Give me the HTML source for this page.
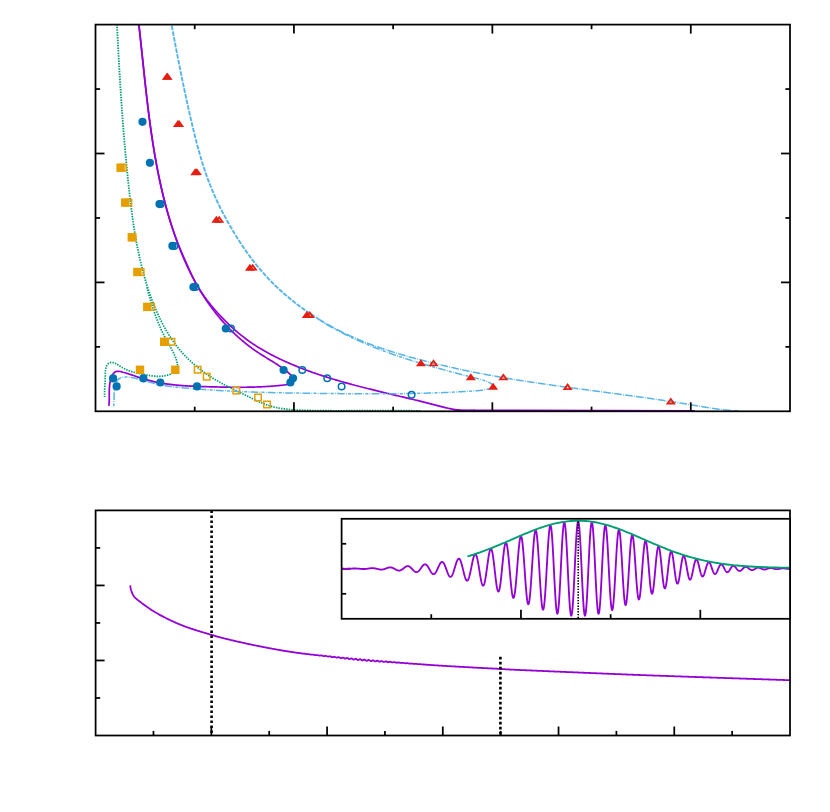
<!DOCTYPE html>
<html><head><meta charset="utf-8"><title>plot</title>
<style>html,body{margin:0;padding:0;background:#fff;font-family:"Liberation Sans",sans-serif;}svg{display:block}</style>
</head><body>
<svg width="830" height="812" viewBox="0 0 830 812">
<rect x="0" y="0" width="830" height="812" fill="#fff"/>
<defs><clipPath id="c1"><rect x="95.50" y="24.60" width="694.50" height="386.70"/></clipPath>
<clipPath id="cbs"><rect x="0" y="0" width="318.00" height="372"/></clipPath>
<clipPath id="cbt"><rect x="318.00" y="0" width="600" height="372"/><rect x="0" y="372" width="830" height="60"/></clipPath>
<clipPath id="cgs"><rect x="0" y="0" width="830" height="286.00"/></clipPath>
<clipPath id="cgt"><rect x="0" y="286.00" width="830" height="200"/></clipPath>
</defs>
<g clip-path="url(#c1)">
<path d="M133.00,-20.00 L133.15,-19.01 L133.30,-18.02 L133.45,-17.03 L133.60,-16.04 L133.75,-15.05 L133.89,-14.06 L134.04,-13.07 L134.18,-12.08 L134.33,-11.08 L134.47,-10.09 L134.61,-9.10 L134.75,-8.11 L134.89,-7.12 L135.03,-6.13 L135.16,-5.13 L135.30,-4.14 L135.43,-3.15 L135.57,-2.16 L135.70,-1.16 L135.83,-0.17 L135.97,0.82 L136.10,1.82 L136.23,2.81 L136.36,3.80 L136.48,4.80 L136.61,5.79 L136.74,6.79 L136.86,7.78 L136.99,8.77 L137.11,9.77 L137.24,10.76 L137.36,11.76 L137.48,12.75 L137.60,13.75 L137.72,14.74 L137.84,15.74 L137.96,16.73 L138.08,17.73 L138.20,18.72 L138.32,19.72 L138.43,20.72 L138.55,21.71 L138.67,22.71 L138.78,23.70 L138.90,24.70 L139.01,25.70 L139.12,26.69 L139.24,27.69 L139.35,28.68 L139.46,29.68 L139.57,30.68 L139.68,31.67 L139.80,32.67 L139.91,33.67 L140.02,34.66 L140.13,35.66 L140.23,36.66 L140.34,37.66 L140.45,38.65 L140.56,39.65 L140.67,40.65 L140.78,41.64 L140.88,42.64 L140.99,43.64 L141.10,44.64 L141.20,45.63 L141.31,46.63 L141.42,47.63 L141.52,48.63 L141.63,49.62 L141.73,50.62 L141.84,51.62 L141.95,52.62 L142.05,53.61 L142.16,54.61 L142.26,55.61 L142.37,56.61 L142.47,57.60 L142.58,58.60 L142.68,59.60 L142.79,60.60 L142.89,61.59 L143.00,62.59 L143.10,63.59 L143.20,64.59 L143.31,65.58 L143.41,66.58 L143.52,67.58 L143.63,68.58 L143.73,69.58 L143.84,70.57 L143.94,71.57 L144.05,72.57 L144.15,73.57 L144.26,74.56 L144.37,75.56 L144.47,76.56 L144.58,77.55 L144.69,78.55 L144.79,79.55 L144.90,80.55 L145.01,81.54 L145.12,82.54 L145.22,83.54 L145.33,84.53 L145.44,85.53 L145.55,86.53 L145.66,87.53 L145.77,88.52 L145.88,89.52 L145.99,90.52 L146.10,91.51 L146.22,92.51 L146.33,93.51 L146.44,94.50 L146.55,95.50 L146.67,96.49 L146.78,97.49 L146.90,98.49 L147.01,99.48 L147.13,100.48 L147.24,101.47 L147.36,102.47 L147.48,103.46 L147.60,104.46 L147.71,105.46 L147.83,106.45 L147.95,107.45 L148.07,108.44 L148.20,109.44 L148.32,110.43 L148.44,111.42 L148.56,112.42 L148.69,113.41 L148.81,114.41 L148.94,115.40 L149.07,116.40 L149.19,117.39 L149.32,118.38 L149.45,119.38 L149.58,120.37 L149.71,121.36 L149.84,122.36 L149.98,123.35 L150.11,124.34 L150.24,125.34 L150.38,126.33 L150.51,127.32 L150.65,128.31 L150.79,129.30 L150.93,130.30 L151.07,131.29 L151.21,132.28 L151.35,133.27 L151.50,134.26 L151.64,135.25 L151.79,136.24 L151.93,137.23 L152.08,138.23 L152.23,139.22 L152.38,140.21 L152.53,141.20 L152.68,142.19 L152.83,143.17 L152.99,144.16 L153.14,145.15 L153.30,146.14 L153.46,147.13 L153.62,148.12 L153.78,149.11 L153.94,150.10 L154.10,151.08 L154.27,152.07 L154.43,153.06 L154.60,154.05 L154.77,155.03 L154.94,156.02 L155.11,157.01 L155.28,157.99 L155.46,158.98 L155.63,159.96 L155.81,160.95 L155.99,161.93 L156.17,162.92 L156.35,163.90 L156.53,164.89 L156.71,165.87 L156.90,166.86 L157.09,167.84 L157.28,168.83 L157.47,169.81 L157.66,170.79 L157.85,171.77 L158.05,172.76 L158.24,173.74 L158.44,174.72 L158.64,175.70 L158.84,176.68 L159.05,177.66 L159.25,178.65 L159.46,179.63 L159.67,180.61 L159.88,181.59 L160.09,182.57 L160.30,183.55 L160.52,184.52 L160.73,185.50 L160.95,186.48 L161.17,187.46 L161.40,188.44 L161.62,189.42 L161.85,190.39 L162.08,191.37 L162.31,192.35 L162.54,193.32 L162.77,194.30 L163.01,195.27 L163.25,196.25 L163.49,197.22 L163.73,198.20 L163.97,199.17 L164.22,200.14 L164.47,201.11 L164.72,202.09 L164.97,203.06 L165.23,204.03 L165.48,205.00 L165.74,205.97 L166.00,206.94 L166.27,207.91 L166.53,208.87 L166.80,209.84 L167.07,210.81 L167.35,211.77 L167.62,212.74 L167.90,213.70 L168.18,214.66 L168.46,215.63 L168.75,216.59 L169.03,217.55 L169.32,218.51 L169.62,219.47 L169.91,220.43 L170.21,221.38 L170.51,222.34 L170.81,223.30 L171.12,224.25 L171.43,225.20 L171.74,226.16 L172.05,227.11 L172.37,228.06 L172.68,229.01 L173.01,229.96 L173.33,230.91 L173.66,231.85 L173.99,232.80 L174.32,233.74 L174.66,234.69 L174.99,235.63 L175.33,236.57 L175.68,237.51 L176.03,238.45 L176.38,239.39 L176.73,240.33 L177.09,241.26 L177.44,242.20 L177.81,243.13 L178.17,244.06 L178.54,244.99 L178.91,245.92 L179.29,246.85 L179.66,247.77 L180.05,248.70 L180.43,249.62 L180.82,250.54 L181.21,251.47 L181.60,252.39 L181.99,253.31 L182.39,254.22 L182.79,255.14 L183.19,256.06 L183.59,256.97 L184.00,257.89 L184.40,258.81 L184.81,259.72 L185.21,260.64 L185.62,261.55 L186.03,262.47 L186.44,263.38 L186.85,264.30 L187.26,265.21 L187.66,266.13 L188.07,267.04 L188.48,267.96 L188.89,268.87 L189.30,269.79 L189.71,270.70 L190.13,271.61 L190.55,272.53 L190.97,273.44 L191.39,274.34 L191.82,275.25 L192.25,276.15 L192.69,277.05 L193.13,277.95 L193.57,278.85 L194.03,279.74 L194.48,280.63 L194.95,281.51 L195.42,282.39 L195.90,283.27 L196.38,284.14 L196.88,285.01 L197.38,285.87 L197.89,286.73 L198.40,287.59 L198.92,288.44 L199.45,289.28 L199.98,290.13 L200.52,290.97 L201.07,291.80 L201.62,292.63 L202.18,293.46 L202.74,294.29 L203.31,295.11 L203.89,295.92 L204.47,296.73 L205.06,297.54 L205.65,298.35 L206.25,299.15 L206.85,299.95 L207.46,300.74 L208.07,301.53 L208.69,302.32 L209.31,303.11 L209.94,303.89 L210.57,304.67 L211.21,305.44 L211.85,306.21 L212.49,306.98 L213.14,307.74 L213.79,308.51 L214.45,309.26 L215.11,310.02 L215.77,310.77 L216.44,311.52 L217.11,312.27 L217.78,313.01 L218.46,313.75 L219.14,314.49 L219.82,315.23 L220.51,315.96 L221.19,316.69 L221.89,317.42 L222.58,318.14 L223.28,318.86 L223.98,319.58 L224.68,320.29 L225.39,321.01 L226.10,321.71 L226.81,322.42 L227.53,323.12 L228.25,323.82 L228.97,324.51 L229.70,325.20 L230.43,325.89 L231.16,326.57 L231.90,327.25 L232.63,327.92 L233.38,328.60 L234.12,329.26 L234.87,329.93 L235.62,330.59 L236.38,331.24 L237.14,331.89 L237.90,332.54 L238.67,333.18 L239.44,333.82 L240.21,334.45 L240.99,335.08 L241.77,335.71 L242.56,336.33 L243.34,336.94 L244.14,337.55 L244.93,338.16 L245.73,338.76 L246.53,339.36 L247.34,339.95 L248.15,340.54 L248.96,341.12 L249.78,341.69 L250.60,342.27 L251.43,342.83 L252.26,343.39 L253.09,343.95 L253.92,344.51 L254.76,345.05 L255.60,345.60 L256.44,346.14 L257.29,346.67 L258.14,347.20 L258.99,347.73 L259.85,348.25 L260.71,348.77 L261.57,349.28 L262.43,349.79 L263.30,350.30 L264.17,350.80 L265.04,351.29 L265.92,351.79 L266.79,352.27 L267.67,352.76 L268.56,353.24 L269.44,353.72 L270.33,354.19 L271.21,354.66 L272.10,355.12 L273.00,355.58 L273.89,356.04 L274.79,356.50 L275.69,356.95 L276.59,357.39 L277.49,357.84 L278.39,358.28 L279.30,358.71 L280.20,359.15 L281.11,359.58 L282.02,360.00 L282.93,360.43 L283.84,360.85 L284.76,361.26 L285.67,361.68 L286.59,362.09 L287.51,362.49 L288.43,362.90 L289.34,363.30 L290.27,363.70 L291.19,364.09 L292.11,364.49 L293.03,364.87 L293.96,365.26 L294.88,365.65 L295.81,366.03 L296.74,366.40 L297.67,366.78 L298.60,367.15 L299.53,367.52 L300.46,367.89 L301.39,368.25 L302.32,368.62 L303.26,368.97 L304.19,369.33 L305.13,369.69 L306.06,370.04 L307.00,370.39 L307.94,370.73 L308.88,371.08 L309.82,371.42 L310.76,371.76 L311.70,372.09 L312.65,372.43 L313.59,372.76 L314.54,373.09 L315.48,373.42 L316.43,373.74 L317.37,374.07 L318.32,374.39 L319.27,374.71 L320.22,375.02 L321.17,375.34 L322.12,375.65 L323.07,375.96 L324.02,376.27 L324.97,376.58 L325.93,376.88 L326.88,377.18 L327.83,377.48 L328.79,377.78 L329.75,378.08 L330.70,378.37 L331.66,378.67 L332.62,378.96 L333.57,379.25 L334.53,379.53 L335.49,379.82 L336.45,380.10 L337.41,380.39 L338.37,380.67 L339.34,380.95 L340.30,381.23 L341.26,381.50 L342.22,381.78 L343.19,382.05 L344.15,382.32 L345.12,382.59 L346.08,382.86 L347.05,383.13 L348.01,383.40 L348.98,383.66 L349.95,383.92 L350.91,384.19 L351.88,384.45 L352.85,384.71 L353.82,384.97 L354.79,385.22 L355.76,385.48 L356.73,385.73 L357.70,385.99 L358.67,386.24 L359.64,386.49 L360.61,386.74 L361.58,386.99 L362.55,387.24 L363.52,387.49 L364.49,387.74 L365.47,387.98 L366.44,388.23 L367.41,388.47 L368.38,388.72 L369.36,388.96 L370.33,389.20 L371.30,389.44 L372.28,389.68 L373.25,389.92 L374.23,390.16 L375.20,390.40 L376.18,390.64 L377.15,390.88 L378.13,391.11 L379.10,391.35 L380.08,391.59 L381.05,391.82 L382.03,392.06 L383.00,392.29 L383.98,392.53 L384.95,392.76 L385.93,392.99 L386.91,393.23 L387.88,393.46 L388.86,393.69 L389.83,393.92 L390.81,394.16 L391.78,394.39 L392.76,394.62 L393.74,394.85 L394.71,395.08 L395.69,395.32 L396.66,395.55 L397.64,395.78 L398.61,396.01 L399.59,396.24 L400.57,396.47 L401.54,396.71 L402.52,396.94 L403.49,397.17 L404.47,397.40 L405.44,397.64 L406.42,397.87 L407.39,398.10 L408.36,398.33 L409.34,398.57 L410.31,398.80 L411.29,399.04 L412.26,399.27 L413.23,399.51 L414.21,399.74 L415.18,399.98 L416.15,400.21 L417.12,400.45 L418.10,400.69 L419.07,400.93 L420.04,401.17 L421.01,401.40 L421.98,401.64 L422.95,401.89 L423.93,402.13 L424.90,402.37 L425.87,402.61 L426.84,402.85 L427.81,403.10 L428.78,403.34 L429.75,403.59 L430.72,403.84 L431.69,404.08 L432.66,404.33 L433.63,404.58 L434.59,404.83 L435.56,405.08 L436.53,405.34 L437.50,405.59 L438.47,405.84 L439.44,406.10 L440.40,406.35 L441.37,406.60 L442.34,406.85 L443.31,407.10 L444.28,407.34 L445.25,407.58 L446.22,407.81 L447.19,408.04 L448.17,408.26 L449.14,408.48 L450.12,408.69 L451.09,408.89 L452.07,409.09 L453.05,409.27 L454.03,409.45 L455.01,409.61 L455.99,409.77 L456.98,409.91 L457.96,410.05 L458.95,410.17 L459.94,410.29 L460.93,410.39 L461.92,410.48 L462.91,410.55 L463.91,410.61 L464.91,410.66 L465.91,410.70 L466.91,410.72 L467.91,410.73 L468.92,410.72 L469.93,410.70 L470.94,410.66 L471.95,410.61 L472.96,410.54 L473.98,410.45 L475.00,410.35" fill="none" stroke-linejoin="round" stroke="#9400D3" stroke-width="1.7"/>
<path d="M133.00,-20.00 L133.15,-19.01 L133.30,-18.02 L133.44,-17.03 L133.59,-16.04 L133.73,-15.05 L133.87,-14.06 L134.02,-13.07 L134.16,-12.08 L134.30,-11.09 L134.44,-10.10 L134.58,-9.11 L134.71,-8.12 L134.85,-7.12 L134.98,-6.13 L135.12,-5.14 L135.25,-4.15 L135.39,-3.16 L135.52,-2.16 L135.65,-1.17 L135.78,-0.18 L135.91,0.81 L136.04,1.81 L136.16,2.80 L136.29,3.79 L136.42,4.79 L136.54,5.78 L136.67,6.78 L136.79,7.77 L136.92,8.76 L137.04,9.76 L137.16,10.75 L137.28,11.75 L137.40,12.74 L137.52,13.74 L137.64,14.73 L137.76,15.73 L137.88,16.72 L138.00,17.72 L138.12,18.71 L138.23,19.71 L138.35,20.71 L138.46,21.70 L138.58,22.70 L138.69,23.69 L138.81,24.69 L138.92,25.69 L139.03,26.68 L139.15,27.68 L139.26,28.68 L139.37,29.67 L139.48,30.67 L139.59,31.67 L139.71,32.66 L139.82,33.66 L139.93,34.66 L140.04,35.65 L140.14,36.65 L140.25,37.65 L140.36,38.65 L140.47,39.64 L140.58,40.64 L140.69,41.64 L140.80,42.64 L140.90,43.63 L141.01,44.63 L141.12,45.63 L141.22,46.63 L141.33,47.62 L141.44,48.62 L141.54,49.62 L141.65,50.62 L141.76,51.62 L141.86,52.61 L141.97,53.61 L142.08,54.61 L142.18,55.61 L142.29,56.61 L142.39,57.60 L142.50,58.60 L142.61,59.60 L142.71,60.60 L142.82,61.60 L142.92,62.59 L143.03,63.59 L143.14,64.59 L143.24,65.59 L143.35,66.59 L143.45,67.58 L143.56,68.58 L143.67,69.58 L143.77,70.58 L143.88,71.58 L143.99,72.57 L144.10,73.57 L144.20,74.57 L144.31,75.57 L144.42,76.56 L144.53,77.56 L144.64,78.56 L144.74,79.56 L144.85,80.55 L144.96,81.55 L145.07,82.55 L145.18,83.55 L145.29,84.54 L145.40,85.54 L145.51,86.54 L145.63,87.53 L145.74,88.53 L145.85,89.53 L145.96,90.52 L146.08,91.52 L146.19,92.52 L146.30,93.51 L146.42,94.51 L146.53,95.51 L146.65,96.50 L146.76,97.50 L146.88,98.50 L147.00,99.49 L147.12,100.49 L147.23,101.48 L147.35,102.48 L147.47,103.47 L147.59,104.47 L147.71,105.46 L147.83,106.46 L147.96,107.45 L148.08,108.45 L148.20,109.44 L148.33,110.44 L148.45,111.43 L148.58,112.43 L148.70,113.42 L148.83,114.42 L148.96,115.41 L149.09,116.40 L149.22,117.40 L149.35,118.39 L149.48,119.38 L149.61,120.38 L149.74,121.37 L149.88,122.36 L150.01,123.35 L150.15,124.35 L150.28,125.34 L150.42,126.33 L150.56,127.32 L150.70,128.31 L150.84,129.31 L150.98,130.30 L151.12,131.29 L151.26,132.28 L151.41,133.27 L151.55,134.26 L151.70,135.25 L151.84,136.24 L151.99,137.23 L152.14,138.22 L152.29,139.21 L152.44,140.20 L152.60,141.19 L152.75,142.17 L152.91,143.16 L153.06,144.15 L153.22,145.14 L153.38,146.13 L153.54,147.11 L153.70,148.10 L153.86,149.09 L154.02,150.08 L154.19,151.06 L154.35,152.05 L154.52,153.03 L154.69,154.02 L154.86,155.01 L155.03,155.99 L155.20,156.98 L155.38,157.96 L155.55,158.95 L155.73,159.93 L155.91,160.91 L156.09,161.90 L156.27,162.88 L156.45,163.86 L156.63,164.85 L156.82,165.83 L157.01,166.81 L157.19,167.79 L157.38,168.77 L157.58,169.76 L157.77,170.74 L157.96,171.72 L158.16,172.70 L158.36,173.68 L158.55,174.66 L158.76,175.64 L158.96,176.62 L159.16,177.59 L159.37,178.57 L159.58,179.55 L159.78,180.53 L159.99,181.51 L160.21,182.48 L160.42,183.46 L160.64,184.44 L160.85,185.41 L161.07,186.39 L161.30,187.36 L161.52,188.34 L161.74,189.31 L161.97,190.29 L162.20,191.26 L162.43,192.23 L162.66,193.21 L162.89,194.18 L163.13,195.15 L163.37,196.12 L163.61,197.10 L163.85,198.07 L164.09,199.04 L164.34,200.01 L164.58,200.98 L164.83,201.95 L165.09,202.92 L165.34,203.89 L165.59,204.86 L165.85,205.82 L166.11,206.79 L166.37,207.76 L166.64,208.73 L166.90,209.69 L167.17,210.66 L167.44,211.62 L167.71,212.59 L167.99,213.55 L168.26,214.52 L168.54,215.48 L168.82,216.44 L169.10,217.41 L169.39,218.37 L169.68,219.33 L169.97,220.29 L170.26,221.25 L170.55,222.21 L170.85,223.17 L171.15,224.13 L171.45,225.09 L171.75,226.05 L172.06,227.01 L172.37,227.96 L172.68,228.92 L172.99,229.87 L173.31,230.83 L173.63,231.78 L173.95,232.73 L174.27,233.69 L174.59,234.64 L174.92,235.59 L175.25,236.53 L175.59,237.48 L175.92,238.43 L176.26,239.38 L176.60,240.32 L176.95,241.27 L177.29,242.21 L177.64,243.15 L177.99,244.09 L178.35,245.03 L178.71,245.97 L179.07,246.91 L179.43,247.84 L179.79,248.78 L180.16,249.71 L180.53,250.65 L180.91,251.58 L181.28,252.51 L181.66,253.44 L182.05,254.37 L182.43,255.29 L182.82,256.22 L183.21,257.14 L183.60,258.06 L184.00,258.98 L184.40,259.90 L184.81,260.82 L185.21,261.74 L185.62,262.65 L186.03,263.57 L186.45,264.48 L186.87,265.39 L187.29,266.30 L187.71,267.20 L188.14,268.11 L188.57,269.01 L189.01,269.91 L189.44,270.81 L189.88,271.71 L190.33,272.61 L190.78,273.51 L191.23,274.40 L191.68,275.29 L192.14,276.18 L192.60,277.07 L193.06,277.95 L193.53,278.84 L194.00,279.72 L194.47,280.60 L194.95,281.48 L195.43,282.35 L195.91,283.23 L196.40,284.10 L196.89,284.97 L197.39,285.84 L197.88,286.70 L198.39,287.57 L198.89,288.43 L199.40,289.29 L199.91,290.14 L200.43,291.00 L200.95,291.85 L201.47,292.70 L202.00,293.55 L202.53,294.40 L203.06,295.24 L203.60,296.08 L204.14,296.92 L204.69,297.76 L205.23,298.59 L205.79,299.42 L206.34,300.25 L206.90,301.08 L207.47,301.90 L208.04,302.72 L208.61,303.54 L209.18,304.36 L209.76,305.17 L210.35,305.99 L210.93,306.79 L211.53,307.60 L212.12,308.40 L212.72,309.21 L213.32,310.00 L213.93,310.80 L214.54,311.59 L215.16,312.38 L215.78,313.17 L216.40,313.95 L217.03,314.73 L217.66,315.51 L218.30,316.29 L218.94,317.06 L219.58,317.83 L220.23,318.60 L220.88,319.36 L221.54,320.12 L222.20,320.88 L222.86,321.63 L223.53,322.38 L224.20,323.13 L224.88,323.87 L225.56,324.62 L226.24,325.35 L226.93,326.09 L227.62,326.82 L228.31,327.54 L229.01,328.27 L229.72,328.99 L230.42,329.70 L231.13,330.41 L231.85,331.12 L232.56,331.82 L233.28,332.52 L234.01,333.22 L234.74,333.91 L235.47,334.60 L236.21,335.29 L236.94,335.97 L237.69,336.64 L238.43,337.31 L239.18,337.98 L239.94,338.64 L240.69,339.30 L241.45,339.96 L242.22,340.61 L242.98,341.25 L243.75,341.89 L244.53,342.53 L245.30,343.16 L246.08,343.78 L246.87,344.41 L247.65,345.02 L248.44,345.64 L249.24,346.24 L250.03,346.85 L250.83,347.44 L251.64,348.04 L252.44,348.62 L253.25,349.21 L254.06,349.78 L254.88,350.36 L255.70,350.92 L256.52,351.48 L257.34,352.04 L258.17,352.59 L259.00,353.14 L259.83,353.68 L260.67,354.21 L261.51,354.75 L262.35,355.27 L263.19,355.80 L264.03,356.32 L264.88,356.84 L265.73,357.36 L266.58,357.88 L267.43,358.40 L268.28,358.92 L269.13,359.44 L269.98,359.96 L270.83,360.49 L271.69,361.01 L272.54,361.54 L273.39,362.07 L274.25,362.61 L275.10,363.15 L275.95,363.69 L276.80,364.24 L277.65,364.80 L278.50,365.37 L279.34,365.94 L280.19,366.52 L281.03,367.10 L281.87,367.70 L282.71,368.31 L283.55,368.92 L284.38,369.55 L285.21,370.18 L286.04,370.83 L286.87,371.49 L287.69,372.17 L288.51,372.85 L289.32,373.55 L290.12,374.26 L290.88,374.99 L291.59,375.71 L292.22,376.44 L292.76,377.18 L293.18,377.91 L293.46,378.63 L293.58,379.35 L293.52,380.05 L293.29,380.74 L292.88,381.39 L292.32,382.00 L291.63,382.56 L290.83,383.06 L289.94,383.51 L289.01,383.89 L288.05,384.21 L287.07,384.48 L286.07,384.70 L285.06,384.88 L284.04,385.03 L283.01,385.15 L281.98,385.27 L280.95,385.37 L279.92,385.47 L278.89,385.57 L277.86,385.67 L276.84,385.76 L275.81,385.85 L274.79,385.93 L273.77,386.01 L272.75,386.09 L271.73,386.17 L270.71,386.24 L269.69,386.31 L268.68,386.38 L267.66,386.45 L266.65,386.51 L265.64,386.57 L264.62,386.62 L263.61,386.68 L262.60,386.73 L261.59,386.78 L260.59,386.82 L259.58,386.87 L258.57,386.91 L257.57,386.95 L256.56,386.98 L255.56,387.02 L254.55,387.05 L253.55,387.08 L252.55,387.11 L251.55,387.13 L250.55,387.15 L249.55,387.17 L248.55,387.19 L247.55,387.21 L246.55,387.23 L245.55,387.24 L244.55,387.25 L243.55,387.26 L242.56,387.27 L241.56,387.27 L240.56,387.28 L239.57,387.28 L238.57,387.28 L237.58,387.28 L236.58,387.28 L235.59,387.27 L234.59,387.27 L233.60,387.26 L232.60,387.25 L231.61,387.24 L230.61,387.23 L229.62,387.22 L228.62,387.21 L227.63,387.19 L226.63,387.18 L225.64,387.16 L224.64,387.14 L223.65,387.12 L222.65,387.11 L221.66,387.08 L220.66,387.06 L219.67,387.04 L218.67,387.02 L217.67,386.99 L216.68,386.97 L215.68,386.95 L214.68,386.92 L213.68,386.89 L212.69,386.87 L211.69,386.84 L210.69,386.81 L209.69,386.78 L208.69,386.75 L207.69,386.73 L206.68,386.70 L205.68,386.67 L204.68,386.64 L203.68,386.61 L202.67,386.58 L201.67,386.54 L200.66,386.51 L199.66,386.48 L198.65,386.44 L197.65,386.40 L196.64,386.37 L195.63,386.33 L194.63,386.28 L193.62,386.24 L192.62,386.20 L191.61,386.15 L190.60,386.10 L189.60,386.05 L188.59,385.99 L187.59,385.94 L186.58,385.88 L185.57,385.81 L184.57,385.75 L183.57,385.68 L182.56,385.61 L181.56,385.54 L180.55,385.46 L179.55,385.38 L178.55,385.29 L177.55,385.20 L176.55,385.11 L175.54,385.01 L174.54,384.91 L173.55,384.81 L172.55,384.70 L171.55,384.58 L170.55,384.46 L169.56,384.34 L168.56,384.21 L167.57,384.08 L166.58,383.94 L165.59,383.80 L164.59,383.65 L163.61,383.49 L162.62,383.33 L161.63,383.17 L160.65,383.00 L159.66,382.82 L158.68,382.64 L157.70,382.45 L156.72,382.25 L155.74,382.05 L154.76,381.84 L153.79,381.63 L152.81,381.40 L151.84,381.17 L150.87,380.94 L149.90,380.69 L148.94,380.44 L147.97,380.19 L147.01,379.92 L146.05,379.65 L145.09,379.37 L144.13,379.08 L143.18,378.78 L142.23,378.48 L141.27,378.17 L140.32,377.85 L139.37,377.53 L138.42,377.21 L137.47,376.88 L136.52,376.56 L135.57,376.23 L134.61,375.90 L133.66,375.57 L132.70,375.24 L131.74,374.91 L130.77,374.59 L129.81,374.27 L128.84,373.96 L127.86,373.65 L126.88,373.34 L125.90,373.05 L124.91,372.76 L123.92,372.48 L122.92,372.21 L121.91,371.95 L120.90,371.70 L119.90,371.49 L118.91,371.34 L117.96,371.27 L117.05,371.31 L116.21,371.49 L115.43,371.80 L114.71,372.24 L114.06,372.79 L113.45,373.44 L112.91,374.18 L112.41,375.00 L111.96,375.87 L111.56,376.80 L111.20,377.77 L110.88,378.76 L110.59,379.77 L110.35,380.78 L110.13,381.79 L109.95,382.80 L109.79,383.82 L109.66,384.83 L109.55,385.84 L109.46,386.85 L109.40,387.87 L109.34,388.88 L109.31,389.89 L109.28,390.90 L109.27,391.91 L109.26,392.92 L109.26,393.93 L109.26,394.94 L109.26,395.94 L109.26,396.95 L109.25,397.95 L109.24,398.95 L109.22,399.95 L109.19,400.95 L109.15,401.94 L109.09,402.94 L109.01,403.93 L108.92,404.91 L108.80,405.90" fill="none" stroke-linejoin="round" stroke="#9400D3" stroke-width="1.7"/>
<polyline points="453.00,409.75 456.00,410.00 460.00,410.20 465.00,410.30 470.00,410.32 520.00,410.35 600.00,410.50 695.00,410.95" fill="none" stroke="#9400D3" stroke-width="1.7"/>
<g clip-path="url(#cgs)">
<path d="M114.90,-20.00 L114.94,-19.00 L114.99,-18.00 L115.03,-17.00 L115.08,-16.00 L115.12,-14.99 L115.17,-13.99 L115.21,-12.99 L115.26,-11.99 L115.30,-10.99 L115.35,-9.99 L115.39,-8.99 L115.44,-7.99 L115.48,-6.99 L115.53,-5.98 L115.58,-4.98 L115.62,-3.98 L115.67,-2.98 L115.71,-1.98 L115.76,-0.98 L115.80,0.02 L115.85,1.02 L115.90,2.02 L115.94,3.03 L115.99,4.03 L116.03,5.03 L116.08,6.03 L116.13,7.03 L116.17,8.03 L116.22,9.03 L116.27,10.03 L116.31,11.03 L116.36,12.03 L116.41,13.04 L116.46,14.04 L116.50,15.04 L116.55,16.04 L116.60,17.04 L116.65,18.04 L116.69,19.04 L116.74,20.04 L116.79,21.04 L116.84,22.05 L116.89,23.05 L116.94,24.05 L116.99,25.05 L117.03,26.05 L117.08,27.05 L117.13,28.05 L117.18,29.05 L117.23,30.05 L117.28,31.05 L117.33,32.06 L117.38,33.06 L117.43,34.06 L117.48,35.06 L117.53,36.06 L117.58,37.06 L117.63,38.06 L117.69,39.06 L117.74,40.06 L117.79,41.06 L117.84,42.06 L117.89,43.07 L117.94,44.07 L118.00,45.07 L118.05,46.07 L118.10,47.07 L118.16,48.07 L118.21,49.07 L118.26,50.07 L118.32,51.07 L118.37,52.07 L118.42,53.07 L118.48,54.07 L118.53,55.08 L118.59,56.08 L118.64,57.08 L118.70,58.08 L118.75,59.08 L118.81,60.08 L118.86,61.08 L118.92,62.08 L118.98,63.08 L119.03,64.08 L119.09,65.08 L119.15,66.08 L119.21,67.08 L119.26,68.08 L119.32,69.08 L119.38,70.08 L119.44,71.09 L119.50,72.09 L119.56,73.09 L119.62,74.09 L119.67,75.09 L119.73,76.09 L119.79,77.09 L119.86,78.09 L119.92,79.09 L119.98,80.09 L120.04,81.09 L120.10,82.09 L120.16,83.09 L120.22,84.09 L120.29,85.09 L120.35,86.09 L120.41,87.09 L120.48,88.09 L120.54,89.09 L120.61,90.09 L120.67,91.09 L120.73,92.09 L120.80,93.09 L120.87,94.09 L120.93,95.09 L121.00,96.09 L121.06,97.09 L121.13,98.09 L121.20,99.09 L121.27,100.09 L121.33,101.09 L121.40,102.09 L121.47,103.09 L121.54,104.09 L121.61,105.09 L121.68,106.09 L121.75,107.09 L121.82,108.09 L121.89,109.09 L121.96,110.09 L122.03,111.09 L122.10,112.09 L122.18,113.09 L122.25,114.09 L122.32,115.09 L122.40,116.09 L122.47,117.09 L122.54,118.09 L122.62,119.09 L122.69,120.09 L122.77,121.09 L122.84,122.08 L122.92,123.08 L123.00,124.08 L123.08,125.08 L123.15,126.08 L123.23,127.08 L123.31,128.08 L123.39,129.08 L123.47,130.08 L123.55,131.08 L123.63,132.08 L123.71,133.08 L123.79,134.07 L123.87,135.07 L123.95,136.07 L124.03,137.07 L124.12,138.07 L124.20,139.07 L124.28,140.07 L124.37,141.07 L124.45,142.07 L124.54,143.06 L124.62,144.06 L124.71,145.06 L124.79,146.06 L124.88,147.06 L124.97,148.06 L125.06,149.06 L125.14,150.06 L125.23,151.05 L125.32,152.05 L125.41,153.05 L125.50,154.05 L125.59,155.05 L125.69,156.05 L125.78,157.04 L125.87,158.04 L125.96,159.04 L126.06,160.04 L126.15,161.04 L126.24,162.03 L126.34,163.03 L126.43,164.03 L126.53,165.03 L126.63,166.03 L126.72,167.02 L126.82,168.02 L126.92,169.02 L127.02,170.02 L127.11,171.02 L127.21,172.01 L127.31,173.01 L127.42,174.01 L127.52,175.01 L127.62,176.00 L127.72,177.00 L127.82,178.00 L127.93,179.00 L128.03,179.99 L128.13,180.99 L128.24,181.99 L128.35,182.98 L128.45,183.98 L128.56,184.98 L128.67,185.98 L128.77,186.97 L128.88,187.97 L128.99,188.97 L129.10,189.96 L129.21,190.96 L129.32,191.96 L129.43,192.95 L129.55,193.95 L129.66,194.95 L129.77,195.94 L129.89,196.94 L130.00,197.94 L130.12,198.93 L130.24,199.93 L130.36,200.92 L130.48,201.92 L130.60,202.92 L130.72,203.91 L130.84,204.91 L130.96,205.90 L131.09,206.90 L131.21,207.89 L131.34,208.89 L131.47,209.88 L131.60,210.87 L131.73,211.87 L131.86,212.86 L131.99,213.85 L132.12,214.85 L132.26,215.84 L132.40,216.83 L132.54,217.83 L132.67,218.82 L132.82,219.81 L132.96,220.80 L133.10,221.79 L133.25,222.78 L133.39,223.77 L133.54,224.76 L133.69,225.75 L133.84,226.74 L134.00,227.73 L134.15,228.72 L134.31,229.71 L134.47,230.70 L134.63,231.69 L134.79,232.67 L134.95,233.66 L135.12,234.65 L135.29,235.63 L135.46,236.62 L135.63,237.61 L135.80,238.59 L135.98,239.58 L136.15,240.56 L136.33,241.54 L136.52,242.53 L136.70,243.51 L136.88,244.49 L137.07,245.47 L137.26,246.46 L137.45,247.44 L137.65,248.42 L137.84,249.40 L138.04,250.38 L138.24,251.36 L138.45,252.33 L138.65,253.31 L138.86,254.29 L139.07,255.27 L139.29,256.24 L139.50,257.22 L139.72,258.19 L139.94,259.17 L140.16,260.14 L140.39,261.11 L140.62,262.09 L140.85,263.06 L141.08,264.03 L141.32,265.00 L141.56,265.97 L141.80,266.94 L142.04,267.91 L142.29,268.88 L142.54,269.85 L142.79,270.81 L143.05,271.78 L143.31,272.74 L143.57,273.71 L143.83,274.67 L144.10,275.64 L144.37,276.60 L144.64,277.56 L144.92,278.52 L145.20,279.48 L145.48,280.44 L145.77,281.40 L146.06,282.36 L146.35,283.32 L146.65,284.27 L146.94,285.23 L147.25,286.19 L147.55,287.14 L147.86,288.09 L148.17,289.05 L148.49,290.00 L148.81,290.95 L149.13,291.90 L149.46,292.85 L149.78,293.80 L150.12,294.75 L150.45,295.69 L150.79,296.64 L151.14,297.58 L151.48,298.53 L151.83,299.47 L152.19,300.41 L152.55,301.36 L152.91,302.30 L153.27,303.23 L153.64,304.17 L154.02,305.11 L154.40,306.04 L154.78,306.98 L155.16,307.91 L155.55,308.84 L155.95,309.77 L156.34,310.70 L156.75,311.62 L157.15,312.54 L157.56,313.47 L157.98,314.38 L158.40,315.30 L158.82,316.22 L159.25,317.13 L159.69,318.04 L160.12,318.95 L160.57,319.85 L161.01,320.75 L161.46,321.65 L161.92,322.55 L162.38,323.45 L162.85,324.34 L163.32,325.23 L163.80,326.11 L164.28,326.99 L164.76,327.87 L165.25,328.75 L165.75,329.62 L166.25,330.49 L166.76,331.35 L167.27,332.21 L167.79,333.07 L168.31,333.93 L168.84,334.78 L169.37,335.62 L169.91,336.47 L170.46,337.30 L171.01,338.14 L171.56,338.97 L172.12,339.79 L172.69,340.62 L173.26,341.43 L173.84,342.25 L174.43,343.05 L175.02,343.86 L175.62,344.66 L176.22,345.45 L176.83,346.24 L177.44,347.02 L178.06,347.80 L178.69,348.57 L179.32,349.34 L179.96,350.11 L180.61,350.86 L181.26,351.62 L181.92,352.36 L182.58,353.11 L183.25,353.84 L183.92,354.57 L184.61,355.30 L185.29,356.02 L185.99,356.74 L186.68,357.45 L187.39,358.15 L188.10,358.85 L188.81,359.55 L189.53,360.24 L190.26,360.92 L190.99,361.60 L191.72,362.27 L192.46,362.94 L193.21,363.61 L193.96,364.26 L194.71,364.92 L195.47,365.56 L196.24,366.21 L197.01,366.84 L197.78,367.47 L198.56,368.10 L199.35,368.72 L200.13,369.34 L200.93,369.95 L201.72,370.55 L202.52,371.15 L203.33,371.74 L204.14,372.33 L204.95,372.92 L205.77,373.49 L206.59,374.07 L207.41,374.64 L208.24,375.20 L209.08,375.76 L209.91,376.31 L210.75,376.85 L211.60,377.39 L212.44,377.93 L213.29,378.46 L214.15,378.99 L215.00,379.51 L215.86,380.02 L216.73,380.53 L217.59,381.03 L218.46,381.53 L219.33,382.02 L220.21,382.51 L221.09,383.00 L221.97,383.47 L222.85,383.95 L223.74,384.42 L224.63,384.88 L225.52,385.34 L226.41,385.80 L227.30,386.26 L228.20,386.71 L229.10,387.16 L230.00,387.60 L230.90,388.05 L231.80,388.49 L232.70,388.94 L233.61,389.38 L234.51,389.82 L235.42,390.26 L236.32,390.70 L237.23,391.13 L238.14,391.57 L239.05,392.01 L239.96,392.46 L240.87,392.90 L241.77,393.34 L242.68,393.79 L243.59,394.23 L244.50,394.68 L245.41,395.13 L246.31,395.59 L247.22,396.04 L248.13,396.50 L249.04,396.95 L249.94,397.41 L250.85,397.86 L251.76,398.31 L252.67,398.76 L253.58,399.20 L254.49,399.65 L255.40,400.08 L256.32,400.52 L257.23,400.94 L258.15,401.37 L259.06,401.78 L259.98,402.19 L260.90,402.59 L261.83,402.98 L262.75,403.36 L263.68,403.73 L264.61,404.10 L265.54,404.45 L266.48,404.79 L267.42,405.12 L268.36,405.44 L269.30,405.74 L270.25,406.03 L271.20,406.30 L272.15,406.57 L273.11,406.82 L274.07,407.06 L275.03,407.29 L275.99,407.50 L276.96,407.71 L277.93,407.90 L278.90,408.09 L279.88,408.26 L280.85,408.43 L281.83,408.58 L282.81,408.73 L283.79,408.86 L284.78,408.99 L285.76,409.11 L286.75,409.23 L287.74,409.33 L288.73,409.43 L289.72,409.52 L290.71,409.61 L291.71,409.69 L292.70,409.76 L293.70,409.83 L294.70,409.89 L295.70,409.95 L296.70,410.00 L297.70,410.05 L298.70,410.10 L299.70,410.14 L300.70,410.18 L301.70,410.22 L302.71,410.25 L303.71,410.29 L304.71,410.32 L305.72,410.35 L306.72,410.38 L307.72,410.40 L308.72,410.43 L309.73,410.46 L310.73,410.48 L311.73,410.50 L312.74,410.52 L313.74,410.54 L314.74,410.56 L315.74,410.58 L316.75,410.60 L317.75,410.61 L318.75,410.63 L319.76,410.64 L320.76,410.66 L321.76,410.67 L322.77,410.68 L323.77,410.69 L324.77,410.70 L325.77,410.71 L326.78,410.72 L327.78,410.73 L328.78,410.73 L329.79,410.74 L330.79,410.74 L331.79,410.75 L332.79,410.75 L333.80,410.75 L334.80,410.76 L335.80,410.76 L336.81,410.76 L337.81,410.76 L338.81,410.76 L339.82,410.76 L340.82,410.76 L341.82,410.76 L342.82,410.75 L343.83,410.75 L344.83,410.75 L345.83,410.74 L346.84,410.74 L347.84,410.74 L348.84,410.73 L349.84,410.73 L350.85,410.72 L351.85,410.72 L352.85,410.71 L353.86,410.71 L354.86,410.70 L355.86,410.69 L356.86,410.69 L357.87,410.68 L358.87,410.67 L359.87,410.67 L360.87,410.66 L361.88,410.65 L362.88,410.65 L363.88,410.64 L364.89,410.63 L365.89,410.63 L366.89,410.62 L367.89,410.61 L368.90,410.61 L369.90,410.60 L370.90,410.59 L371.90,410.59 L372.91,410.58 L373.91,410.57 L374.91,410.57 L375.91,410.56 L376.92,410.56 L377.92,410.55 L378.92,410.55 L379.92,410.54 L380.93,410.54 L381.93,410.54 L382.93,410.53 L383.93,410.53 L384.94,410.53 L385.94,410.53 L386.94,410.53 L387.94,410.53 L388.94,410.53 L389.95,410.53 L390.95,410.53 L391.95,410.53 L392.95,410.53 L393.96,410.53 L394.96,410.54 L395.96,410.54 L396.96,410.55 L397.96,410.55 L398.97,410.56 L399.97,410.56 L400.97,410.57 L401.97,410.58 L402.97,410.59 L403.97,410.60 L404.98,410.61 L405.98,410.62 L406.98,410.64 L407.98,410.65 L408.98,410.67 L409.99,410.68 L410.99,410.70 L411.99,410.72 L412.99,410.74 L413.99,410.76 L414.99,410.78 L415.99,410.80 L417.00,410.82 L418.00,410.85 L419.00,410.87 L420.00,410.90" fill="none" stroke-linejoin="round" stroke="#009E73" stroke-width="1.85" stroke-dasharray="1.45,1.15" stroke-dashoffset="0"/>
</g>
<g clip-path="url(#cgt)">
<path d="M114.90,-20.00 L114.94,-19.00 L114.99,-18.00 L115.03,-17.00 L115.08,-16.00 L115.12,-14.99 L115.17,-13.99 L115.21,-12.99 L115.26,-11.99 L115.30,-10.99 L115.35,-9.99 L115.39,-8.99 L115.44,-7.99 L115.48,-6.99 L115.53,-5.98 L115.58,-4.98 L115.62,-3.98 L115.67,-2.98 L115.71,-1.98 L115.76,-0.98 L115.80,0.02 L115.85,1.02 L115.90,2.02 L115.94,3.03 L115.99,4.03 L116.03,5.03 L116.08,6.03 L116.13,7.03 L116.17,8.03 L116.22,9.03 L116.27,10.03 L116.31,11.03 L116.36,12.03 L116.41,13.04 L116.46,14.04 L116.50,15.04 L116.55,16.04 L116.60,17.04 L116.65,18.04 L116.69,19.04 L116.74,20.04 L116.79,21.04 L116.84,22.05 L116.89,23.05 L116.94,24.05 L116.99,25.05 L117.03,26.05 L117.08,27.05 L117.13,28.05 L117.18,29.05 L117.23,30.05 L117.28,31.05 L117.33,32.06 L117.38,33.06 L117.43,34.06 L117.48,35.06 L117.53,36.06 L117.58,37.06 L117.63,38.06 L117.69,39.06 L117.74,40.06 L117.79,41.06 L117.84,42.06 L117.89,43.07 L117.94,44.07 L118.00,45.07 L118.05,46.07 L118.10,47.07 L118.16,48.07 L118.21,49.07 L118.26,50.07 L118.32,51.07 L118.37,52.07 L118.42,53.07 L118.48,54.07 L118.53,55.08 L118.59,56.08 L118.64,57.08 L118.70,58.08 L118.75,59.08 L118.81,60.08 L118.86,61.08 L118.92,62.08 L118.98,63.08 L119.03,64.08 L119.09,65.08 L119.15,66.08 L119.21,67.08 L119.26,68.08 L119.32,69.08 L119.38,70.08 L119.44,71.09 L119.50,72.09 L119.56,73.09 L119.62,74.09 L119.67,75.09 L119.73,76.09 L119.79,77.09 L119.86,78.09 L119.92,79.09 L119.98,80.09 L120.04,81.09 L120.10,82.09 L120.16,83.09 L120.22,84.09 L120.29,85.09 L120.35,86.09 L120.41,87.09 L120.48,88.09 L120.54,89.09 L120.61,90.09 L120.67,91.09 L120.73,92.09 L120.80,93.09 L120.87,94.09 L120.93,95.09 L121.00,96.09 L121.06,97.09 L121.13,98.09 L121.20,99.09 L121.27,100.09 L121.33,101.09 L121.40,102.09 L121.47,103.09 L121.54,104.09 L121.61,105.09 L121.68,106.09 L121.75,107.09 L121.82,108.09 L121.89,109.09 L121.96,110.09 L122.03,111.09 L122.10,112.09 L122.18,113.09 L122.25,114.09 L122.32,115.09 L122.40,116.09 L122.47,117.09 L122.54,118.09 L122.62,119.09 L122.69,120.09 L122.77,121.09 L122.84,122.08 L122.92,123.08 L123.00,124.08 L123.08,125.08 L123.15,126.08 L123.23,127.08 L123.31,128.08 L123.39,129.08 L123.47,130.08 L123.55,131.08 L123.63,132.08 L123.71,133.08 L123.79,134.07 L123.87,135.07 L123.95,136.07 L124.03,137.07 L124.12,138.07 L124.20,139.07 L124.28,140.07 L124.37,141.07 L124.45,142.07 L124.54,143.06 L124.62,144.06 L124.71,145.06 L124.79,146.06 L124.88,147.06 L124.97,148.06 L125.06,149.06 L125.14,150.06 L125.23,151.05 L125.32,152.05 L125.41,153.05 L125.50,154.05 L125.59,155.05 L125.69,156.05 L125.78,157.04 L125.87,158.04 L125.96,159.04 L126.06,160.04 L126.15,161.04 L126.24,162.03 L126.34,163.03 L126.43,164.03 L126.53,165.03 L126.63,166.03 L126.72,167.02 L126.82,168.02 L126.92,169.02 L127.02,170.02 L127.11,171.02 L127.21,172.01 L127.31,173.01 L127.42,174.01 L127.52,175.01 L127.62,176.00 L127.72,177.00 L127.82,178.00 L127.93,179.00 L128.03,179.99 L128.13,180.99 L128.24,181.99 L128.35,182.98 L128.45,183.98 L128.56,184.98 L128.67,185.98 L128.77,186.97 L128.88,187.97 L128.99,188.97 L129.10,189.96 L129.21,190.96 L129.32,191.96 L129.43,192.95 L129.55,193.95 L129.66,194.95 L129.77,195.94 L129.89,196.94 L130.00,197.94 L130.12,198.93 L130.24,199.93 L130.36,200.92 L130.48,201.92 L130.60,202.92 L130.72,203.91 L130.84,204.91 L130.96,205.90 L131.09,206.90 L131.21,207.89 L131.34,208.89 L131.47,209.88 L131.60,210.87 L131.73,211.87 L131.86,212.86 L131.99,213.85 L132.12,214.85 L132.26,215.84 L132.40,216.83 L132.54,217.83 L132.67,218.82 L132.82,219.81 L132.96,220.80 L133.10,221.79 L133.25,222.78 L133.39,223.77 L133.54,224.76 L133.69,225.75 L133.84,226.74 L134.00,227.73 L134.15,228.72 L134.31,229.71 L134.47,230.70 L134.63,231.69 L134.79,232.67 L134.95,233.66 L135.12,234.65 L135.29,235.63 L135.46,236.62 L135.63,237.61 L135.80,238.59 L135.98,239.58 L136.15,240.56 L136.33,241.54 L136.52,242.53 L136.70,243.51 L136.88,244.49 L137.07,245.47 L137.26,246.46 L137.45,247.44 L137.65,248.42 L137.84,249.40 L138.04,250.38 L138.24,251.36 L138.45,252.33 L138.65,253.31 L138.86,254.29 L139.07,255.27 L139.29,256.24 L139.50,257.22 L139.72,258.19 L139.94,259.17 L140.16,260.14 L140.39,261.11 L140.62,262.09 L140.85,263.06 L141.08,264.03 L141.32,265.00 L141.56,265.97 L141.80,266.94 L142.04,267.91 L142.29,268.88 L142.54,269.85 L142.79,270.81 L143.05,271.78 L143.31,272.74 L143.57,273.71 L143.83,274.67 L144.10,275.64 L144.37,276.60 L144.64,277.56 L144.92,278.52 L145.20,279.48 L145.48,280.44 L145.77,281.40 L146.06,282.36 L146.35,283.32 L146.65,284.27 L146.94,285.23 L147.25,286.19 L147.55,287.14 L147.86,288.09 L148.17,289.05 L148.49,290.00 L148.81,290.95 L149.13,291.90 L149.46,292.85 L149.78,293.80 L150.12,294.75 L150.45,295.69 L150.79,296.64 L151.14,297.58 L151.48,298.53 L151.83,299.47 L152.19,300.41 L152.55,301.36 L152.91,302.30 L153.27,303.23 L153.64,304.17 L154.02,305.11 L154.40,306.04 L154.78,306.98 L155.16,307.91 L155.55,308.84 L155.95,309.77 L156.34,310.70 L156.75,311.62 L157.15,312.54 L157.56,313.47 L157.98,314.38 L158.40,315.30 L158.82,316.22 L159.25,317.13 L159.69,318.04 L160.12,318.95 L160.57,319.85 L161.01,320.75 L161.46,321.65 L161.92,322.55 L162.38,323.45 L162.85,324.34 L163.32,325.23 L163.80,326.11 L164.28,326.99 L164.76,327.87 L165.25,328.75 L165.75,329.62 L166.25,330.49 L166.76,331.35 L167.27,332.21 L167.79,333.07 L168.31,333.93 L168.84,334.78 L169.37,335.62 L169.91,336.47 L170.46,337.30 L171.01,338.14 L171.56,338.97 L172.12,339.79 L172.69,340.62 L173.26,341.43 L173.84,342.25 L174.43,343.05 L175.02,343.86 L175.62,344.66 L176.22,345.45 L176.83,346.24 L177.44,347.02 L178.06,347.80 L178.69,348.57 L179.32,349.34 L179.96,350.11 L180.61,350.86 L181.26,351.62 L181.92,352.36 L182.58,353.11 L183.25,353.84 L183.92,354.57 L184.61,355.30 L185.29,356.02 L185.99,356.74 L186.68,357.45 L187.39,358.15 L188.10,358.85 L188.81,359.55 L189.53,360.24 L190.26,360.92 L190.99,361.60 L191.72,362.27 L192.46,362.94 L193.21,363.61 L193.96,364.26 L194.71,364.92 L195.47,365.56 L196.24,366.21 L197.01,366.84 L197.78,367.47 L198.56,368.10 L199.35,368.72 L200.13,369.34 L200.93,369.95 L201.72,370.55 L202.52,371.15 L203.33,371.74 L204.14,372.33 L204.95,372.92 L205.77,373.49 L206.59,374.07 L207.41,374.64 L208.24,375.20 L209.08,375.76 L209.91,376.31 L210.75,376.85 L211.60,377.39 L212.44,377.93 L213.29,378.46 L214.15,378.99 L215.00,379.51 L215.86,380.02 L216.73,380.53 L217.59,381.03 L218.46,381.53 L219.33,382.02 L220.21,382.51 L221.09,383.00 L221.97,383.47 L222.85,383.95 L223.74,384.42 L224.63,384.88 L225.52,385.34 L226.41,385.80 L227.30,386.26 L228.20,386.71 L229.10,387.16 L230.00,387.60 L230.90,388.05 L231.80,388.49 L232.70,388.94 L233.61,389.38 L234.51,389.82 L235.42,390.26 L236.32,390.70 L237.23,391.13 L238.14,391.57 L239.05,392.01 L239.96,392.46 L240.87,392.90 L241.77,393.34 L242.68,393.79 L243.59,394.23 L244.50,394.68 L245.41,395.13 L246.31,395.59 L247.22,396.04 L248.13,396.50 L249.04,396.95 L249.94,397.41 L250.85,397.86 L251.76,398.31 L252.67,398.76 L253.58,399.20 L254.49,399.65 L255.40,400.08 L256.32,400.52 L257.23,400.94 L258.15,401.37 L259.06,401.78 L259.98,402.19 L260.90,402.59 L261.83,402.98 L262.75,403.36 L263.68,403.73 L264.61,404.10 L265.54,404.45 L266.48,404.79 L267.42,405.12 L268.36,405.44 L269.30,405.74 L270.25,406.03 L271.20,406.30 L272.15,406.57 L273.11,406.82 L274.07,407.06 L275.03,407.29 L275.99,407.50 L276.96,407.71 L277.93,407.90 L278.90,408.09 L279.88,408.26 L280.85,408.43 L281.83,408.58 L282.81,408.73 L283.79,408.86 L284.78,408.99 L285.76,409.11 L286.75,409.23 L287.74,409.33 L288.73,409.43 L289.72,409.52 L290.71,409.61 L291.71,409.69 L292.70,409.76 L293.70,409.83 L294.70,409.89 L295.70,409.95 L296.70,410.00 L297.70,410.05 L298.70,410.10 L299.70,410.14 L300.70,410.18 L301.70,410.22 L302.71,410.25 L303.71,410.29 L304.71,410.32 L305.72,410.35 L306.72,410.38 L307.72,410.40 L308.72,410.43 L309.73,410.46 L310.73,410.48 L311.73,410.50 L312.74,410.52 L313.74,410.54 L314.74,410.56 L315.74,410.58 L316.75,410.60 L317.75,410.61 L318.75,410.63 L319.76,410.64 L320.76,410.66 L321.76,410.67 L322.77,410.68 L323.77,410.69 L324.77,410.70 L325.77,410.71 L326.78,410.72 L327.78,410.73 L328.78,410.73 L329.79,410.74 L330.79,410.74 L331.79,410.75 L332.79,410.75 L333.80,410.75 L334.80,410.76 L335.80,410.76 L336.81,410.76 L337.81,410.76 L338.81,410.76 L339.82,410.76 L340.82,410.76 L341.82,410.76 L342.82,410.75 L343.83,410.75 L344.83,410.75 L345.83,410.74 L346.84,410.74 L347.84,410.74 L348.84,410.73 L349.84,410.73 L350.85,410.72 L351.85,410.72 L352.85,410.71 L353.86,410.71 L354.86,410.70 L355.86,410.69 L356.86,410.69 L357.87,410.68 L358.87,410.67 L359.87,410.67 L360.87,410.66 L361.88,410.65 L362.88,410.65 L363.88,410.64 L364.89,410.63 L365.89,410.63 L366.89,410.62 L367.89,410.61 L368.90,410.61 L369.90,410.60 L370.90,410.59 L371.90,410.59 L372.91,410.58 L373.91,410.57 L374.91,410.57 L375.91,410.56 L376.92,410.56 L377.92,410.55 L378.92,410.55 L379.92,410.54 L380.93,410.54 L381.93,410.54 L382.93,410.53 L383.93,410.53 L384.94,410.53 L385.94,410.53 L386.94,410.53 L387.94,410.53 L388.94,410.53 L389.95,410.53 L390.95,410.53 L391.95,410.53 L392.95,410.53 L393.96,410.53 L394.96,410.54 L395.96,410.54 L396.96,410.55 L397.96,410.55 L398.97,410.56 L399.97,410.56 L400.97,410.57 L401.97,410.58 L402.97,410.59 L403.97,410.60 L404.98,410.61 L405.98,410.62 L406.98,410.64 L407.98,410.65 L408.98,410.67 L409.99,410.68 L410.99,410.70 L411.99,410.72 L412.99,410.74 L413.99,410.76 L414.99,410.78 L415.99,410.80 L417.00,410.82 L418.00,410.85 L419.00,410.87 L420.00,410.90" fill="none" stroke-linejoin="round" stroke="#009E73" stroke-width="1.75" stroke-dasharray="1.45,1.15" stroke-dashoffset="0"/>
<path d="M114.90,-20.00 L114.96,-19.00 L115.02,-18.00 L115.09,-17.01 L115.15,-16.01 L115.21,-15.01 L115.27,-14.01 L115.33,-13.01 L115.39,-12.01 L115.45,-11.01 L115.50,-10.01 L115.56,-9.01 L115.62,-8.01 L115.68,-7.02 L115.74,-6.02 L115.79,-5.02 L115.85,-4.02 L115.91,-3.02 L115.96,-2.02 L116.02,-1.02 L116.07,-0.02 L116.13,0.98 L116.18,1.98 L116.24,2.98 L116.29,3.99 L116.35,4.99 L116.40,5.99 L116.45,6.99 L116.51,7.99 L116.56,8.99 L116.61,9.99 L116.66,10.99 L116.72,11.99 L116.77,12.99 L116.82,14.00 L116.87,15.00 L116.92,16.00 L116.97,17.00 L117.02,18.00 L117.08,19.00 L117.13,20.01 L117.18,21.01 L117.23,22.01 L117.28,23.01 L117.33,24.01 L117.38,25.02 L117.43,26.02 L117.48,27.02 L117.53,28.02 L117.58,29.03 L117.62,30.03 L117.67,31.03 L117.72,32.03 L117.77,33.04 L117.82,34.04 L117.87,35.04 L117.92,36.04 L117.97,37.05 L118.02,38.05 L118.07,39.05 L118.11,40.06 L118.16,41.06 L118.21,42.06 L118.26,43.07 L118.31,44.07 L118.36,45.07 L118.41,46.07 L118.45,47.08 L118.50,48.08 L118.55,49.08 L118.60,50.09 L118.65,51.09 L118.70,52.10 L118.75,53.10 L118.80,54.10 L118.85,55.11 L118.89,56.11 L118.94,57.11 L118.99,58.12 L119.04,59.12 L119.09,60.12 L119.14,61.13 L119.19,62.13 L119.24,63.13 L119.29,64.14 L119.34,65.14 L119.39,66.15 L119.44,67.15 L119.49,68.15 L119.54,69.16 L119.59,70.16 L119.64,71.16 L119.70,72.17 L119.75,73.17 L119.80,74.18 L119.85,75.18 L119.90,76.18 L119.95,77.19 L120.01,78.19 L120.06,79.20 L120.11,80.20 L120.17,81.20 L120.22,82.21 L120.27,83.21 L120.33,84.21 L120.38,85.22 L120.44,86.22 L120.49,87.23 L120.55,88.23 L120.60,89.23 L120.66,90.24 L120.71,91.24 L120.77,92.24 L120.83,93.25 L120.88,94.25 L120.94,95.25 L121.00,96.26 L121.06,97.26 L121.12,98.26 L121.17,99.27 L121.23,100.27 L121.29,101.27 L121.35,102.28 L121.41,103.28 L121.47,104.28 L121.53,105.29 L121.60,106.29 L121.66,107.29 L121.72,108.30 L121.78,109.30 L121.85,110.30 L121.91,111.31 L121.98,112.31 L122.04,113.31 L122.11,114.32 L122.17,115.32 L122.24,116.32 L122.30,117.32 L122.37,118.33 L122.44,119.33 L122.51,120.33 L122.58,121.33 L122.64,122.34 L122.71,123.34 L122.78,124.34 L122.86,125.34 L122.93,126.34 L123.00,127.35 L123.07,128.35 L123.14,129.35 L123.22,130.35 L123.29,131.35 L123.37,132.36 L123.44,133.36 L123.52,134.36 L123.59,135.36 L123.67,136.36 L123.75,137.36 L123.83,138.36 L123.91,139.37 L123.99,140.37 L124.07,141.37 L124.15,142.37 L124.23,143.37 L124.31,144.37 L124.40,145.37 L124.48,146.37 L124.57,147.37 L124.65,148.37 L124.74,149.37 L124.82,150.37 L124.91,151.37 L125.00,152.37 L125.09,153.37 L125.18,154.37 L125.27,155.37 L125.36,156.37 L125.45,157.37 L125.54,158.37 L125.64,159.37 L125.73,160.37 L125.83,161.37 L125.92,162.37 L126.02,163.37 L126.12,164.36 L126.21,165.36 L126.31,166.36 L126.41,167.36 L126.51,168.36 L126.62,169.36 L126.72,170.35 L126.82,171.35 L126.93,172.35 L127.03,173.35 L127.14,174.34 L127.24,175.34 L127.35,176.34 L127.46,177.34 L127.57,178.33 L127.68,179.33 L127.79,180.33 L127.90,181.32 L128.02,182.32 L128.13,183.32 L128.25,184.31 L128.36,185.31 L128.48,186.30 L128.60,187.30 L128.72,188.30 L128.84,189.29 L128.96,190.29 L129.08,191.28 L129.20,192.28 L129.33,193.27 L129.45,194.27 L129.58,195.26 L129.71,196.26 L129.83,197.25 L129.96,198.24 L130.09,199.24 L130.22,200.23 L130.36,201.22 L130.49,202.22 L130.62,203.21 L130.76,204.20 L130.90,205.20 L131.03,206.19 L131.17,207.18 L131.31,208.17 L131.45,209.17 L131.60,210.16 L131.74,211.15 L131.88,212.14 L132.03,213.13 L132.18,214.13 L132.33,215.12 L132.47,216.11 L132.62,217.10 L132.78,218.09 L132.93,219.08 L133.08,220.07 L133.24,221.06 L133.39,222.05 L133.55,223.04 L133.71,224.03 L133.87,225.02 L134.03,226.01 L134.19,227.00 L134.36,227.99 L134.52,228.97 L134.69,229.96 L134.86,230.95 L135.03,231.94 L135.20,232.93 L135.37,233.91 L135.54,234.90 L135.71,235.89 L135.89,236.87 L136.07,237.86 L136.24,238.85 L136.42,239.83 L136.60,240.82 L136.78,241.81 L136.97,242.79 L137.15,243.78 L137.34,244.76 L137.53,245.75 L137.71,246.73 L137.91,247.72 L138.10,248.70 L138.29,249.68 L138.48,250.67 L138.68,251.65 L138.88,252.64 L139.08,253.62 L139.28,254.60 L139.48,255.58 L139.68,256.57 L139.88,257.55 L140.09,258.53 L140.30,259.51 L140.51,260.49 L140.72,261.48 L140.93,262.46 L141.14,263.44 L141.36,264.42 L141.57,265.40 L141.79,266.38 L142.01,267.36 L142.23,268.34 L142.45,269.32 L142.68,270.30 L142.90,271.28 L143.13,272.25 L143.36,273.23 L143.59,274.21 L143.82,275.19 L144.05,276.17 L144.29,277.14 L144.52,278.12 L144.76,279.10 L145.00,280.07 L145.24,281.05 L145.49,282.03 L145.73,283.00 L145.98,283.98 L146.23,284.95 L146.48,285.93 L146.73,286.90 L146.98,287.87 L147.24,288.85 L147.49,289.82 L147.75,290.79 L148.02,291.76 L148.28,292.73 L148.55,293.70 L148.82,294.67 L149.09,295.64 L149.37,296.61 L149.64,297.57 L149.92,298.54 L150.21,299.50 L150.49,300.47 L150.78,301.43 L151.07,302.39 L151.37,303.35 L151.67,304.31 L151.97,305.27 L152.28,306.22 L152.58,307.18 L152.90,308.13 L153.21,309.08 L153.53,310.03 L153.85,310.98 L154.18,311.93 L154.51,312.87 L154.85,313.82 L155.19,314.76 L155.53,315.70 L155.88,316.64 L156.23,317.57 L156.58,318.51 L156.94,319.44 L157.31,320.37 L157.68,321.30 L158.05,322.23 L158.43,323.15 L158.81,324.07 L159.20,324.99 L159.59,325.91 L159.99,326.82 L160.40,327.74 L160.80,328.65 L161.22,329.56 L161.64,330.46 L162.06,331.36 L162.49,332.26 L162.92,333.16 L163.37,334.06 L163.81,334.95 L164.26,335.84 L164.72,336.72 L165.18,337.61 L165.65,338.49 L166.13,339.37 L166.61,340.24 L167.10,341.11 L167.59,341.98 L168.08,342.85 L168.58,343.73 L169.08,344.60 L169.57,345.47 L170.07,346.35 L170.56,347.23 L171.05,348.12 L171.54,349.01 L172.02,349.91 L172.49,350.82 L172.96,351.74 L173.42,352.66 L173.86,353.60 L174.30,354.55 L174.73,355.51 L175.14,356.48 L175.54,357.47 L175.92,358.47 L176.27,359.48 L176.59,360.48 L176.88,361.49 L177.11,362.49 L177.29,363.48 L177.42,364.45 L177.47,365.40 L177.45,366.32 L177.35,367.21 L177.16,368.06 L176.87,368.87 L176.48,369.64 L176.00,370.36 L175.42,371.04 L174.75,371.67 L174.02,372.25 L173.21,372.80 L172.34,373.30 L171.42,373.75 L170.46,374.17 L169.45,374.55 L168.42,374.89 L167.37,375.19 L166.30,375.45 L165.23,375.67 L164.16,375.86 L163.10,376.01 L162.04,376.13 L161.00,376.22 L159.97,376.28 L158.94,376.31 L157.93,376.31 L156.92,376.29 L155.91,376.25 L154.92,376.18 L153.93,376.09 L152.94,375.99 L151.96,375.87 L150.98,375.74 L150.01,375.59 L149.04,375.43 L148.07,375.27 L147.10,375.10 L146.14,374.92 L145.17,374.74 L144.21,374.55 L143.24,374.37 L142.28,374.18 L141.31,373.99 L140.35,373.80 L139.38,373.60 L138.42,373.39 L137.45,373.17 L136.49,372.95 L135.53,372.71 L134.57,372.47 L133.61,372.20 L132.65,371.93 L131.70,371.63 L130.74,371.32 L129.79,370.99 L128.84,370.65 L127.90,370.27 L126.95,369.88 L126.01,369.46 L125.08,369.02 L124.14,368.55 L123.21,368.05 L122.29,367.53 L121.36,366.97 L120.45,366.39 L119.53,365.81 L118.61,365.23 L117.70,364.66 L116.79,364.14 L115.87,363.65 L114.95,363.23 L114.03,362.88 L113.11,362.62 L112.21,362.45 L111.33,362.40 L110.50,362.48 L109.71,362.70 L108.99,363.07 L108.33,363.57 L107.74,364.19 L107.21,364.91 L106.76,365.71 L106.38,366.59 L106.07,367.52 L105.83,368.50 L105.64,369.51 L105.51,370.56 L105.41,371.62 L105.35,372.70 L105.31,373.79 L105.29,374.87 L105.26,375.95 L105.24,377.00 L105.20,378.04 L105.17,379.06 L105.13,380.06 L105.08,381.05 L105.03,382.04 L104.99,383.01 L104.94,383.98 L104.89,384.94 L104.84,385.90 L104.80,386.86 L104.75,387.82 L104.71,388.79 L104.67,389.76 L104.64,390.74 L104.62,391.73 L104.60,392.73 L104.59,393.75 L104.58,394.78 L104.59,395.83 L104.60,396.90" fill="none" stroke-linejoin="round" stroke="#009E73" stroke-width="1.75" stroke-dasharray="1.45,1.15" stroke-dashoffset="0"/>
</g>
<g clip-path="url(#cbs)">
<path d="M163.50,-20.00 L163.68,-19.02 L163.85,-18.03 L164.03,-17.05 L164.20,-16.06 L164.38,-15.07 L164.55,-14.09 L164.73,-13.10 L164.90,-12.12 L165.08,-11.13 L165.26,-10.15 L165.43,-9.16 L165.61,-8.18 L165.79,-7.19 L165.96,-6.21 L166.14,-5.22 L166.31,-4.24 L166.49,-3.25 L166.67,-2.27 L166.85,-1.28 L167.02,-0.30 L167.20,0.69 L167.38,1.68 L167.56,2.66 L167.73,3.65 L167.91,4.63 L168.09,5.62 L168.27,6.60 L168.45,7.59 L168.62,8.57 L168.80,9.56 L168.98,10.54 L169.16,11.53 L169.34,12.52 L169.52,13.50 L169.70,14.49 L169.88,15.47 L170.06,16.46 L170.24,17.44 L170.42,18.43 L170.60,19.41 L170.78,20.40 L170.96,21.38 L171.14,22.37 L171.33,23.36 L171.51,24.34 L171.69,25.33 L171.87,26.31 L172.06,27.30 L172.24,28.28 L172.42,29.27 L172.60,30.25 L172.79,31.24 L172.97,32.22 L173.16,33.21 L173.34,34.19 L173.53,35.18 L173.71,36.16 L173.90,37.15 L174.08,38.13 L174.27,39.12 L174.46,40.10 L174.64,41.09 L174.83,42.07 L175.02,43.06 L175.20,44.04 L175.39,45.03 L175.58,46.01 L175.77,46.99 L175.96,47.98 L176.15,48.96 L176.34,49.95 L176.53,50.93 L176.72,51.92 L176.91,52.90 L177.10,53.88 L177.29,54.87 L177.48,55.85 L177.68,56.84 L177.87,57.82 L178.06,58.80 L178.25,59.79 L178.45,60.77 L178.64,61.75 L178.84,62.74 L179.03,63.72 L179.23,64.70 L179.42,65.69 L179.62,66.67 L179.82,67.65 L180.02,68.64 L180.21,69.62 L180.41,70.60 L180.61,71.59 L180.81,72.57 L181.01,73.55 L181.21,74.53 L181.41,75.52 L181.61,76.50 L181.81,77.48 L182.01,78.46 L182.22,79.44 L182.42,80.43 L182.62,81.41 L182.83,82.39 L183.03,83.37 L183.24,84.35 L183.44,85.33 L183.65,86.32 L183.85,87.30 L184.06,88.28 L184.27,89.26 L184.48,90.24 L184.69,91.22 L184.89,92.20 L185.10,93.18 L185.31,94.16 L185.52,95.14 L185.74,96.12 L185.95,97.10 L186.16,98.08 L186.37,99.06 L186.59,100.04 L186.80,101.02 L187.02,102.00 L187.23,102.98 L187.45,103.96 L187.66,104.94 L187.88,105.92 L188.10,106.90 L188.32,107.88 L188.54,108.85 L188.76,109.83 L188.98,110.81 L189.20,111.79 L189.42,112.77 L189.64,113.74 L189.87,114.72 L190.09,115.70 L190.31,116.68 L190.54,117.65 L190.76,118.63 L190.99,119.61 L191.22,120.58 L191.44,121.56 L191.67,122.54 L191.90,123.51 L192.13,124.49 L192.36,125.47 L192.59,126.44 L192.83,127.42 L193.06,128.39 L193.29,129.37 L193.53,130.34 L193.77,131.31 L194.00,132.29 L194.24,133.26 L194.48,134.23 L194.72,135.21 L194.97,136.18 L195.21,137.15 L195.46,138.12 L195.70,139.09 L195.95,140.06 L196.20,141.03 L196.45,142.00 L196.71,142.97 L196.96,143.94 L197.22,144.91 L197.48,145.88 L197.74,146.84 L198.00,147.81 L198.26,148.77 L198.53,149.74 L198.79,150.70 L199.06,151.66 L199.33,152.63 L199.61,153.59 L199.88,154.55 L200.16,155.51 L200.44,156.47 L200.72,157.43 L201.01,158.39 L201.29,159.35 L201.58,160.30 L201.87,161.26 L202.17,162.21 L202.46,163.17 L202.76,164.12 L203.06,165.07 L203.36,166.02 L203.67,166.97 L203.98,167.92 L204.29,168.87 L204.61,169.82 L204.92,170.76 L205.24,171.71 L205.57,172.65 L205.89,173.60 L206.22,174.54 L206.55,175.48 L206.89,176.42 L207.22,177.36 L207.56,178.30 L207.91,179.23 L208.25,180.17 L208.60,181.10 L208.96,182.03 L209.31,182.97 L209.67,183.90 L210.04,184.82 L210.41,185.75 L210.78,186.68 L211.15,187.60 L211.53,188.53 L211.91,189.45 L212.29,190.37 L212.68,191.29 L213.07,192.21 L213.47,193.13 L213.86,194.04 L214.27,194.96 L214.67,195.87 L215.08,196.78 L215.49,197.70 L215.90,198.61 L216.32,199.51 L216.74,200.42 L217.17,201.33 L217.59,202.23 L218.02,203.13 L218.46,204.04 L218.89,204.94 L219.33,205.84 L219.78,206.73 L220.22,207.63 L220.67,208.53 L221.12,209.42 L221.58,210.31 L222.03,211.21 L222.50,212.10 L222.96,212.99 L223.42,213.88 L223.89,214.76 L224.36,215.65 L224.84,216.53 L225.32,217.42 L225.80,218.30 L226.28,219.18 L226.76,220.06 L227.25,220.94 L227.74,221.82 L228.23,222.69 L228.73,223.57 L229.23,224.44 L229.73,225.31 L230.23,226.19 L230.74,227.06 L231.24,227.92 L231.75,228.79 L232.27,229.66 L232.78,230.53 L233.30,231.39 L233.82,232.25 L234.34,233.12 L234.86,233.98 L235.39,234.84 L235.92,235.69 L236.45,236.55 L236.98,237.41 L237.52,238.26 L238.06,239.11 L238.60,239.96 L239.14,240.81 L239.69,241.66 L240.24,242.51 L240.79,243.35 L241.34,244.19 L241.90,245.04 L242.46,245.87 L243.02,246.71 L243.59,247.55 L244.15,248.38 L244.72,249.21 L245.30,250.04 L245.87,250.87 L246.45,251.69 L247.03,252.51 L247.62,253.33 L248.20,254.15 L248.79,254.97 L249.39,255.78 L249.98,256.59 L250.58,257.40 L251.18,258.21 L251.79,259.01 L252.39,259.81 L253.00,260.61 L253.62,261.41 L254.23,262.20 L254.85,262.99 L255.48,263.78 L256.10,264.56 L256.73,265.34 L257.36,266.12 L258.00,266.90 L258.64,267.67 L259.28,268.44 L259.93,269.21 L260.57,269.97 L261.23,270.73 L261.88,271.49 L262.54,272.24 L263.20,272.99 L263.87,273.74 L264.54,274.49 L265.21,275.23 L265.88,275.97 L266.56,276.70 L267.24,277.43 L267.92,278.16 L268.61,278.89 L269.30,279.61 L270.00,280.33 L270.69,281.04 L271.39,281.76 L272.09,282.47 L272.80,283.17 L273.51,283.88 L274.22,284.58 L274.94,285.27 L275.65,285.97 L276.37,286.66 L277.10,287.35 L277.82,288.03 L278.55,288.71 L279.28,289.39 L280.02,290.07 L280.76,290.74 L281.50,291.41 L282.24,292.07 L282.99,292.74 L283.74,293.40 L284.49,294.05 L285.24,294.71 L286.00,295.36 L286.76,296.00 L287.52,296.65 L288.29,297.29 L289.05,297.93 L289.82,298.56 L290.60,299.19 L291.37,299.82 L292.15,300.45 L292.93,301.07 L293.71,301.69 L294.50,302.30 L295.29,302.92 L296.08,303.53 L296.87,304.13 L297.67,304.74 L298.46,305.34 L299.27,305.93 L300.07,306.53 L300.87,307.12 L301.68,307.71 L302.49,308.29 L303.30,308.88 L304.12,309.46 L304.93,310.03 L305.75,310.60 L306.57,311.17 L307.40,311.74 L308.22,312.30 L309.05,312.87 L309.88,313.42 L310.71,313.98 L311.55,314.53 L312.38,315.08 L313.22,315.62 L314.06,316.17 L314.90,316.71 L315.75,317.24 L316.60,317.77 L317.44,318.31 L318.29,318.83 L319.15,319.36 L320.00,319.88 L320.86,320.40 L321.72,320.91 L322.58,321.42 L323.44,321.93 L324.30,322.44 L325.17,322.94 L326.04,323.44 L326.91,323.94 L327.78,324.43 L328.65,324.92 L329.53,325.41 L330.41,325.90 L331.28,326.38 L332.16,326.86 L333.05,327.33 L333.93,327.81 L334.82,328.28 L335.70,328.74 L336.59,329.21 L337.48,329.67 L338.37,330.13 L339.27,330.58 L340.16,331.03 L341.06,331.48 L341.96,331.93 L342.86,332.37 L343.76,332.81 L344.66,333.25 L345.56,333.68 L346.47,334.11 L347.38,334.54 L348.28,334.97 L349.19,335.39 L350.11,335.81 L351.02,336.23 L351.93,336.64 L352.85,337.05 L353.76,337.46 L354.68,337.86 L355.60,338.26 L356.52,338.66 L357.44,339.06 L358.36,339.45 L359.29,339.84 L360.21,340.23 L361.14,340.61 L362.07,340.99 L362.99,341.37 L363.92,341.74 L364.85,342.12 L365.79,342.49 L366.72,342.85 L367.65,343.22 L368.59,343.58 L369.52,343.94 L370.46,344.29 L371.40,344.65 L372.34,345.00 L373.28,345.34 L374.22,345.69 L375.16,346.03 L376.10,346.37 L377.05,346.71 L377.99,347.05 L378.93,347.38 L379.88,347.71 L380.83,348.04 L381.78,348.36 L382.72,348.69 L383.67,349.01 L384.62,349.33 L385.58,349.64 L386.53,349.96 L387.48,350.27 L388.43,350.58 L389.39,350.89 L390.34,351.19 L391.30,351.50 L392.25,351.80 L393.21,352.10 L394.17,352.40 L395.13,352.69 L396.09,352.99 L397.04,353.28 L398.00,353.57 L398.97,353.86 L399.93,354.14 L400.89,354.43 L401.85,354.71 L402.81,354.99 L403.78,355.27 L404.74,355.55 L405.70,355.83 L406.67,356.10 L407.63,356.38 L408.60,356.65 L409.57,356.92 L410.53,357.19 L411.50,357.45 L412.47,357.72 L413.43,357.98 L414.40,358.25 L415.37,358.51 L416.34,358.77 L417.31,359.03 L418.28,359.28 L419.25,359.54 L420.22,359.79 L421.19,360.05 L422.16,360.30 L423.13,360.55 L424.10,360.80 L425.07,361.05 L426.04,361.30 L427.01,361.55 L427.98,361.79 L428.95,362.04 L429.93,362.28 L430.90,362.53 L431.87,362.77 L432.84,363.01 L433.81,363.25 L434.79,363.49 L435.76,363.73 L436.73,363.96 L437.71,364.20 L438.68,364.43 L439.65,364.67 L440.63,364.90 L441.60,365.13 L442.58,365.36 L443.55,365.59 L444.53,365.82 L445.50,366.05 L446.48,366.27 L447.45,366.50 L448.43,366.72 L449.40,366.94 L450.38,367.17 L451.36,367.39 L452.33,367.61 L453.31,367.82 L454.29,368.04 L455.26,368.26 L456.24,368.47 L457.22,368.69 L458.20,368.90 L459.17,369.12 L460.15,369.33 L461.13,369.54 L462.11,369.75 L463.09,369.95 L464.07,370.16 L465.05,370.37 L466.02,370.57 L467.00,370.78 L467.98,370.98 L468.96,371.18 L469.94,371.38 L470.92,371.58 L471.91,371.78 L472.89,371.98 L473.87,372.18 L474.85,372.37 L475.83,372.57 L476.81,372.76 L477.79,372.95 L478.78,373.15 L479.76,373.34 L480.74,373.53 L481.72,373.72 L482.71,373.90 L483.69,374.09 L484.67,374.28 L485.66,374.46 L486.64,374.64 L487.63,374.83 L488.61,375.01 L489.59,375.19 L490.58,375.37 L491.56,375.55 L492.55,375.73 L493.53,375.91 L494.52,376.08 L495.50,376.26 L496.49,376.43 L497.48,376.61 L498.46,376.78 L499.45,376.95 L500.43,377.13 L501.42,377.30 L502.41,377.47 L503.39,377.64 L504.38,377.80 L505.37,377.97 L506.36,378.14 L507.34,378.31 L508.33,378.47 L509.32,378.64 L510.31,378.80 L511.29,378.96 L512.28,379.12 L513.27,379.29 L514.26,379.45 L515.25,379.61 L516.24,379.77 L517.23,379.93 L518.21,380.08 L519.20,380.24 L520.19,380.40 L521.18,380.56 L522.17,380.71 L523.16,380.87 L524.15,381.02 L525.14,381.17 L526.13,381.33 L527.12,381.48 L528.11,381.63 L529.10,381.78 L530.09,381.93 L531.08,382.08 L532.07,382.23 L533.06,382.38 L534.06,382.53 L535.05,382.68 L536.04,382.83 L537.03,382.98 L538.02,383.12 L539.01,383.27 L540.00,383.41 L540.99,383.56 L541.99,383.70 L542.98,383.85 L543.97,383.99 L544.96,384.13 L545.95,384.28 L546.94,384.42 L547.94,384.56 L548.93,384.70 L549.92,384.84 L550.91,384.99 L551.91,385.13 L552.90,385.27 L553.89,385.41 L554.88,385.54 L555.88,385.68 L556.87,385.82 L557.86,385.96 L558.85,386.10 L559.85,386.24 L560.84,386.37 L561.83,386.51 L562.83,386.65 L563.82,386.78 L564.81,386.92 L565.80,387.06 L566.80,387.19 L567.79,387.33 L568.78,387.46 L569.78,387.60 L570.77,387.73 L571.76,387.87 L572.76,388.00 L573.75,388.13 L574.74,388.27 L575.74,388.40 L576.73,388.54 L577.72,388.67 L578.72,388.80 L579.71,388.93 L580.70,389.07 L581.70,389.20 L582.69,389.33 L583.68,389.47 L584.68,389.60 L585.67,389.73 L586.66,389.86 L587.66,389.99 L588.65,390.13 L589.64,390.26 L590.64,390.39 L591.63,390.52 L592.62,390.65 L593.62,390.78 L594.61,390.92 L595.60,391.05 L596.60,391.18 L597.59,391.31 L598.58,391.44 L599.58,391.57 L600.57,391.71 L601.56,391.84 L602.56,391.97 L603.55,392.10 L604.54,392.23 L605.54,392.36 L606.53,392.49 L607.52,392.63 L608.52,392.76 L609.51,392.89 L610.50,393.02 L611.50,393.15 L612.49,393.29 L613.48,393.42 L614.48,393.55 L615.47,393.68 L616.46,393.82 L617.46,393.95 L618.45,394.08 L619.44,394.22 L620.44,394.35 L621.43,394.48 L622.42,394.62 L623.41,394.75 L624.41,394.89 L625.40,395.02 L626.39,395.15 L627.38,395.29 L628.38,395.42 L629.37,395.56 L630.36,395.70 L631.35,395.83 L632.35,395.97 L633.34,396.10 L634.33,396.24 L635.32,396.38 L636.32,396.51 L637.31,396.65 L638.30,396.79 L639.29,396.93 L640.28,397.07 L641.28,397.20 L642.27,397.34 L643.26,397.48 L644.25,397.62 L645.24,397.76 L646.23,397.90 L647.22,398.05 L648.22,398.19 L649.21,398.33 L650.20,398.47 L651.19,398.61 L652.18,398.76 L653.17,398.90 L654.16,399.04 L655.15,399.19 L656.14,399.33 L657.13,399.48 L658.12,399.62 L659.12,399.77 L660.11,399.92 L661.10,400.06 L662.09,400.21 L663.08,400.36 L664.07,400.51 L665.06,400.66 L666.05,400.81 L667.03,400.96 L668.02,401.11 L669.01,401.26 L670.00,401.41 L670.99,401.56 L671.98,401.72 L672.97,401.87 L673.96,402.03 L674.95,402.18 L675.94,402.34 L676.93,402.49 L677.91,402.65 L678.90,402.81 L679.89,402.97 L680.88,403.12 L681.87,403.28 L682.85,403.44 L683.84,403.60 L684.83,403.77 L685.82,403.93 L686.81,404.09 L687.79,404.25 L688.78,404.42 L689.77,404.58 L690.75,404.75 L691.74,404.92 L692.73,405.08 L693.71,405.25 L694.70,405.42 L695.69,405.59 L696.67,405.76 L697.66,405.92 L698.65,406.09 L699.63,406.26 L700.62,406.43 L701.60,406.59 L702.59,406.76 L703.58,406.92 L704.56,407.08 L705.55,407.25 L706.54,407.41 L707.52,407.57 L708.51,407.72 L709.50,407.88 L710.49,408.03 L711.47,408.18 L712.46,408.33 L713.45,408.48 L714.44,408.62 L715.43,408.76 L716.42,408.90 L717.41,409.04 L718.40,409.17 L719.39,409.30 L720.38,409.42 L721.37,409.54 L722.36,409.66 L723.35,409.77 L724.35,409.88 L725.34,409.99 L726.33,410.09 L727.33,410.18 L728.32,410.28 L729.32,410.36 L730.31,410.44 L731.31,410.52 L732.30,410.59 L733.30,410.66 L734.30,410.72 L735.30,410.77 L736.30,410.82 L737.30,410.87 L738.30,410.90" fill="none" stroke-linejoin="round" stroke="#56B4E9" stroke-width="1.9" stroke-dasharray="4.6,1.2" stroke-dashoffset="0"/>
</g>
<g clip-path="url(#cbt)">
<path d="M163.50,-20.00 L163.68,-19.02 L163.85,-18.03 L164.03,-17.05 L164.20,-16.06 L164.38,-15.07 L164.55,-14.09 L164.73,-13.10 L164.90,-12.12 L165.08,-11.13 L165.26,-10.15 L165.43,-9.16 L165.61,-8.18 L165.79,-7.19 L165.96,-6.21 L166.14,-5.22 L166.31,-4.24 L166.49,-3.25 L166.67,-2.27 L166.85,-1.28 L167.02,-0.30 L167.20,0.69 L167.38,1.68 L167.56,2.66 L167.73,3.65 L167.91,4.63 L168.09,5.62 L168.27,6.60 L168.45,7.59 L168.62,8.57 L168.80,9.56 L168.98,10.54 L169.16,11.53 L169.34,12.52 L169.52,13.50 L169.70,14.49 L169.88,15.47 L170.06,16.46 L170.24,17.44 L170.42,18.43 L170.60,19.41 L170.78,20.40 L170.96,21.38 L171.14,22.37 L171.33,23.36 L171.51,24.34 L171.69,25.33 L171.87,26.31 L172.06,27.30 L172.24,28.28 L172.42,29.27 L172.60,30.25 L172.79,31.24 L172.97,32.22 L173.16,33.21 L173.34,34.19 L173.53,35.18 L173.71,36.16 L173.90,37.15 L174.08,38.13 L174.27,39.12 L174.46,40.10 L174.64,41.09 L174.83,42.07 L175.02,43.06 L175.20,44.04 L175.39,45.03 L175.58,46.01 L175.77,46.99 L175.96,47.98 L176.15,48.96 L176.34,49.95 L176.53,50.93 L176.72,51.92 L176.91,52.90 L177.10,53.88 L177.29,54.87 L177.48,55.85 L177.68,56.84 L177.87,57.82 L178.06,58.80 L178.25,59.79 L178.45,60.77 L178.64,61.75 L178.84,62.74 L179.03,63.72 L179.23,64.70 L179.42,65.69 L179.62,66.67 L179.82,67.65 L180.02,68.64 L180.21,69.62 L180.41,70.60 L180.61,71.59 L180.81,72.57 L181.01,73.55 L181.21,74.53 L181.41,75.52 L181.61,76.50 L181.81,77.48 L182.01,78.46 L182.22,79.44 L182.42,80.43 L182.62,81.41 L182.83,82.39 L183.03,83.37 L183.24,84.35 L183.44,85.33 L183.65,86.32 L183.85,87.30 L184.06,88.28 L184.27,89.26 L184.48,90.24 L184.69,91.22 L184.89,92.20 L185.10,93.18 L185.31,94.16 L185.52,95.14 L185.74,96.12 L185.95,97.10 L186.16,98.08 L186.37,99.06 L186.59,100.04 L186.80,101.02 L187.02,102.00 L187.23,102.98 L187.45,103.96 L187.66,104.94 L187.88,105.92 L188.10,106.90 L188.32,107.88 L188.54,108.85 L188.76,109.83 L188.98,110.81 L189.20,111.79 L189.42,112.77 L189.64,113.74 L189.87,114.72 L190.09,115.70 L190.31,116.68 L190.54,117.65 L190.76,118.63 L190.99,119.61 L191.22,120.58 L191.44,121.56 L191.67,122.54 L191.90,123.51 L192.13,124.49 L192.36,125.47 L192.59,126.44 L192.83,127.42 L193.06,128.39 L193.29,129.37 L193.53,130.34 L193.77,131.31 L194.00,132.29 L194.24,133.26 L194.48,134.23 L194.72,135.21 L194.97,136.18 L195.21,137.15 L195.46,138.12 L195.70,139.09 L195.95,140.06 L196.20,141.03 L196.45,142.00 L196.71,142.97 L196.96,143.94 L197.22,144.91 L197.48,145.88 L197.74,146.84 L198.00,147.81 L198.26,148.77 L198.53,149.74 L198.79,150.70 L199.06,151.66 L199.33,152.63 L199.61,153.59 L199.88,154.55 L200.16,155.51 L200.44,156.47 L200.72,157.43 L201.01,158.39 L201.29,159.35 L201.58,160.30 L201.87,161.26 L202.17,162.21 L202.46,163.17 L202.76,164.12 L203.06,165.07 L203.36,166.02 L203.67,166.97 L203.98,167.92 L204.29,168.87 L204.61,169.82 L204.92,170.76 L205.24,171.71 L205.57,172.65 L205.89,173.60 L206.22,174.54 L206.55,175.48 L206.89,176.42 L207.22,177.36 L207.56,178.30 L207.91,179.23 L208.25,180.17 L208.60,181.10 L208.96,182.03 L209.31,182.97 L209.67,183.90 L210.04,184.82 L210.41,185.75 L210.78,186.68 L211.15,187.60 L211.53,188.53 L211.91,189.45 L212.29,190.37 L212.68,191.29 L213.07,192.21 L213.47,193.13 L213.86,194.04 L214.27,194.96 L214.67,195.87 L215.08,196.78 L215.49,197.70 L215.90,198.61 L216.32,199.51 L216.74,200.42 L217.17,201.33 L217.59,202.23 L218.02,203.13 L218.46,204.04 L218.89,204.94 L219.33,205.84 L219.78,206.73 L220.22,207.63 L220.67,208.53 L221.12,209.42 L221.58,210.31 L222.03,211.21 L222.50,212.10 L222.96,212.99 L223.42,213.88 L223.89,214.76 L224.36,215.65 L224.84,216.53 L225.32,217.42 L225.80,218.30 L226.28,219.18 L226.76,220.06 L227.25,220.94 L227.74,221.82 L228.23,222.69 L228.73,223.57 L229.23,224.44 L229.73,225.31 L230.23,226.19 L230.74,227.06 L231.24,227.92 L231.75,228.79 L232.27,229.66 L232.78,230.53 L233.30,231.39 L233.82,232.25 L234.34,233.12 L234.86,233.98 L235.39,234.84 L235.92,235.69 L236.45,236.55 L236.98,237.41 L237.52,238.26 L238.06,239.11 L238.60,239.96 L239.14,240.81 L239.69,241.66 L240.24,242.51 L240.79,243.35 L241.34,244.19 L241.90,245.04 L242.46,245.87 L243.02,246.71 L243.59,247.55 L244.15,248.38 L244.72,249.21 L245.30,250.04 L245.87,250.87 L246.45,251.69 L247.03,252.51 L247.62,253.33 L248.20,254.15 L248.79,254.97 L249.39,255.78 L249.98,256.59 L250.58,257.40 L251.18,258.21 L251.79,259.01 L252.39,259.81 L253.00,260.61 L253.62,261.41 L254.23,262.20 L254.85,262.99 L255.48,263.78 L256.10,264.56 L256.73,265.34 L257.36,266.12 L258.00,266.90 L258.64,267.67 L259.28,268.44 L259.93,269.21 L260.57,269.97 L261.23,270.73 L261.88,271.49 L262.54,272.24 L263.20,272.99 L263.87,273.74 L264.54,274.49 L265.21,275.23 L265.88,275.97 L266.56,276.70 L267.24,277.43 L267.92,278.16 L268.61,278.89 L269.30,279.61 L270.00,280.33 L270.69,281.04 L271.39,281.76 L272.09,282.47 L272.80,283.17 L273.51,283.88 L274.22,284.58 L274.94,285.27 L275.65,285.97 L276.37,286.66 L277.10,287.35 L277.82,288.03 L278.55,288.71 L279.28,289.39 L280.02,290.07 L280.76,290.74 L281.50,291.41 L282.24,292.07 L282.99,292.74 L283.74,293.40 L284.49,294.05 L285.24,294.71 L286.00,295.36 L286.76,296.00 L287.52,296.65 L288.29,297.29 L289.05,297.93 L289.82,298.56 L290.60,299.19 L291.37,299.82 L292.15,300.45 L292.93,301.07 L293.71,301.69 L294.50,302.30 L295.29,302.92 L296.08,303.53 L296.87,304.13 L297.67,304.74 L298.46,305.34 L299.27,305.93 L300.07,306.53 L300.87,307.12 L301.68,307.71 L302.49,308.29 L303.30,308.88 L304.12,309.46 L304.93,310.03 L305.75,310.60 L306.57,311.17 L307.40,311.74 L308.22,312.30 L309.05,312.87 L309.88,313.42 L310.71,313.98 L311.55,314.53 L312.38,315.08 L313.22,315.62 L314.06,316.17 L314.90,316.71 L315.75,317.24 L316.60,317.77 L317.44,318.31 L318.29,318.83 L319.15,319.36 L320.00,319.88 L320.86,320.40 L321.72,320.91 L322.58,321.42 L323.44,321.93 L324.30,322.44 L325.17,322.94 L326.04,323.44 L326.91,323.94 L327.78,324.43 L328.65,324.92 L329.53,325.41 L330.41,325.90 L331.28,326.38 L332.16,326.86 L333.05,327.33 L333.93,327.81 L334.82,328.28 L335.70,328.74 L336.59,329.21 L337.48,329.67 L338.37,330.13 L339.27,330.58 L340.16,331.03 L341.06,331.48 L341.96,331.93 L342.86,332.37 L343.76,332.81 L344.66,333.25 L345.56,333.68 L346.47,334.11 L347.38,334.54 L348.28,334.97 L349.19,335.39 L350.11,335.81 L351.02,336.23 L351.93,336.64 L352.85,337.05 L353.76,337.46 L354.68,337.86 L355.60,338.26 L356.52,338.66 L357.44,339.06 L358.36,339.45 L359.29,339.84 L360.21,340.23 L361.14,340.61 L362.07,340.99 L362.99,341.37 L363.92,341.74 L364.85,342.12 L365.79,342.49 L366.72,342.85 L367.65,343.22 L368.59,343.58 L369.52,343.94 L370.46,344.29 L371.40,344.65 L372.34,345.00 L373.28,345.34 L374.22,345.69 L375.16,346.03 L376.10,346.37 L377.05,346.71 L377.99,347.05 L378.93,347.38 L379.88,347.71 L380.83,348.04 L381.78,348.36 L382.72,348.69 L383.67,349.01 L384.62,349.33 L385.58,349.64 L386.53,349.96 L387.48,350.27 L388.43,350.58 L389.39,350.89 L390.34,351.19 L391.30,351.50 L392.25,351.80 L393.21,352.10 L394.17,352.40 L395.13,352.69 L396.09,352.99 L397.04,353.28 L398.00,353.57 L398.97,353.86 L399.93,354.14 L400.89,354.43 L401.85,354.71 L402.81,354.99 L403.78,355.27 L404.74,355.55 L405.70,355.83 L406.67,356.10 L407.63,356.38 L408.60,356.65 L409.57,356.92 L410.53,357.19 L411.50,357.45 L412.47,357.72 L413.43,357.98 L414.40,358.25 L415.37,358.51 L416.34,358.77 L417.31,359.03 L418.28,359.28 L419.25,359.54 L420.22,359.79 L421.19,360.05 L422.16,360.30 L423.13,360.55 L424.10,360.80 L425.07,361.05 L426.04,361.30 L427.01,361.55 L427.98,361.79 L428.95,362.04 L429.93,362.28 L430.90,362.53 L431.87,362.77 L432.84,363.01 L433.81,363.25 L434.79,363.49 L435.76,363.73 L436.73,363.96 L437.71,364.20 L438.68,364.43 L439.65,364.67 L440.63,364.90 L441.60,365.13 L442.58,365.36 L443.55,365.59 L444.53,365.82 L445.50,366.05 L446.48,366.27 L447.45,366.50 L448.43,366.72 L449.40,366.94 L450.38,367.17 L451.36,367.39 L452.33,367.61 L453.31,367.82 L454.29,368.04 L455.26,368.26 L456.24,368.47 L457.22,368.69 L458.20,368.90 L459.17,369.12 L460.15,369.33 L461.13,369.54 L462.11,369.75 L463.09,369.95 L464.07,370.16 L465.05,370.37 L466.02,370.57 L467.00,370.78 L467.98,370.98 L468.96,371.18 L469.94,371.38 L470.92,371.58 L471.91,371.78 L472.89,371.98 L473.87,372.18 L474.85,372.37 L475.83,372.57 L476.81,372.76 L477.79,372.95 L478.78,373.15 L479.76,373.34 L480.74,373.53 L481.72,373.72 L482.71,373.90 L483.69,374.09 L484.67,374.28 L485.66,374.46 L486.64,374.64 L487.63,374.83 L488.61,375.01 L489.59,375.19 L490.58,375.37 L491.56,375.55 L492.55,375.73 L493.53,375.91 L494.52,376.08 L495.50,376.26 L496.49,376.43 L497.48,376.61 L498.46,376.78 L499.45,376.95 L500.43,377.13 L501.42,377.30 L502.41,377.47 L503.39,377.64 L504.38,377.80 L505.37,377.97 L506.36,378.14 L507.34,378.31 L508.33,378.47 L509.32,378.64 L510.31,378.80 L511.29,378.96 L512.28,379.12 L513.27,379.29 L514.26,379.45 L515.25,379.61 L516.24,379.77 L517.23,379.93 L518.21,380.08 L519.20,380.24 L520.19,380.40 L521.18,380.56 L522.17,380.71 L523.16,380.87 L524.15,381.02 L525.14,381.17 L526.13,381.33 L527.12,381.48 L528.11,381.63 L529.10,381.78 L530.09,381.93 L531.08,382.08 L532.07,382.23 L533.06,382.38 L534.06,382.53 L535.05,382.68 L536.04,382.83 L537.03,382.98 L538.02,383.12 L539.01,383.27 L540.00,383.41 L540.99,383.56 L541.99,383.70 L542.98,383.85 L543.97,383.99 L544.96,384.13 L545.95,384.28 L546.94,384.42 L547.94,384.56 L548.93,384.70 L549.92,384.84 L550.91,384.99 L551.91,385.13 L552.90,385.27 L553.89,385.41 L554.88,385.54 L555.88,385.68 L556.87,385.82 L557.86,385.96 L558.85,386.10 L559.85,386.24 L560.84,386.37 L561.83,386.51 L562.83,386.65 L563.82,386.78 L564.81,386.92 L565.80,387.06 L566.80,387.19 L567.79,387.33 L568.78,387.46 L569.78,387.60 L570.77,387.73 L571.76,387.87 L572.76,388.00 L573.75,388.13 L574.74,388.27 L575.74,388.40 L576.73,388.54 L577.72,388.67 L578.72,388.80 L579.71,388.93 L580.70,389.07 L581.70,389.20 L582.69,389.33 L583.68,389.47 L584.68,389.60 L585.67,389.73 L586.66,389.86 L587.66,389.99 L588.65,390.13 L589.64,390.26 L590.64,390.39 L591.63,390.52 L592.62,390.65 L593.62,390.78 L594.61,390.92 L595.60,391.05 L596.60,391.18 L597.59,391.31 L598.58,391.44 L599.58,391.57 L600.57,391.71 L601.56,391.84 L602.56,391.97 L603.55,392.10 L604.54,392.23 L605.54,392.36 L606.53,392.49 L607.52,392.63 L608.52,392.76 L609.51,392.89 L610.50,393.02 L611.50,393.15 L612.49,393.29 L613.48,393.42 L614.48,393.55 L615.47,393.68 L616.46,393.82 L617.46,393.95 L618.45,394.08 L619.44,394.22 L620.44,394.35 L621.43,394.48 L622.42,394.62 L623.41,394.75 L624.41,394.89 L625.40,395.02 L626.39,395.15 L627.38,395.29 L628.38,395.42 L629.37,395.56 L630.36,395.70 L631.35,395.83 L632.35,395.97 L633.34,396.10 L634.33,396.24 L635.32,396.38 L636.32,396.51 L637.31,396.65 L638.30,396.79 L639.29,396.93 L640.28,397.07 L641.28,397.20 L642.27,397.34 L643.26,397.48 L644.25,397.62 L645.24,397.76 L646.23,397.90 L647.22,398.05 L648.22,398.19 L649.21,398.33 L650.20,398.47 L651.19,398.61 L652.18,398.76 L653.17,398.90 L654.16,399.04 L655.15,399.19 L656.14,399.33 L657.13,399.48 L658.12,399.62 L659.12,399.77 L660.11,399.92 L661.10,400.06 L662.09,400.21 L663.08,400.36 L664.07,400.51 L665.06,400.66 L666.05,400.81 L667.03,400.96 L668.02,401.11 L669.01,401.26 L670.00,401.41 L670.99,401.56 L671.98,401.72 L672.97,401.87 L673.96,402.03 L674.95,402.18 L675.94,402.34 L676.93,402.49 L677.91,402.65 L678.90,402.81 L679.89,402.97 L680.88,403.12 L681.87,403.28 L682.85,403.44 L683.84,403.60 L684.83,403.77 L685.82,403.93 L686.81,404.09 L687.79,404.25 L688.78,404.42 L689.77,404.58 L690.75,404.75 L691.74,404.92 L692.73,405.08 L693.71,405.25 L694.70,405.42 L695.69,405.59 L696.67,405.76 L697.66,405.92 L698.65,406.09 L699.63,406.26 L700.62,406.43 L701.60,406.59 L702.59,406.76 L703.58,406.92 L704.56,407.08 L705.55,407.25 L706.54,407.41 L707.52,407.57 L708.51,407.72 L709.50,407.88 L710.49,408.03 L711.47,408.18 L712.46,408.33 L713.45,408.48 L714.44,408.62 L715.43,408.76 L716.42,408.90 L717.41,409.04 L718.40,409.17 L719.39,409.30 L720.38,409.42 L721.37,409.54 L722.36,409.66 L723.35,409.77 L724.35,409.88 L725.34,409.99 L726.33,410.09 L727.33,410.18 L728.32,410.28 L729.32,410.36 L730.31,410.44 L731.31,410.52 L732.30,410.59 L733.30,410.66 L734.30,410.72 L735.30,410.77 L736.30,410.82 L737.30,410.87 L738.30,410.90" fill="none" stroke-linejoin="round" stroke="#56B4E9" stroke-width="1.5" stroke-dasharray="7.6,1.3,0.8,1.3" stroke-dashoffset="0"/>
<path d="M163.50,-20.00 L163.69,-19.02 L163.88,-18.04 L164.06,-17.06 L164.25,-16.08 L164.44,-15.10 L164.62,-14.12 L164.81,-13.13 L165.00,-12.15 L165.18,-11.17 L165.37,-10.19 L165.55,-9.21 L165.73,-8.22 L165.92,-7.24 L166.10,-6.26 L166.28,-5.28 L166.47,-4.29 L166.65,-3.31 L166.83,-2.33 L167.01,-1.34 L167.19,-0.36 L167.38,0.63 L167.56,1.61 L167.74,2.59 L167.92,3.58 L168.10,4.56 L168.28,5.55 L168.46,6.53 L168.64,7.52 L168.82,8.50 L169.00,9.49 L169.18,10.47 L169.36,11.46 L169.54,12.45 L169.72,13.43 L169.90,14.42 L170.08,15.40 L170.25,16.39 L170.43,17.37 L170.61,18.36 L170.79,19.35 L170.97,20.33 L171.15,21.32 L171.33,22.31 L171.51,23.29 L171.68,24.28 L171.86,25.27 L172.04,26.25 L172.22,27.24 L172.40,28.23 L172.58,29.21 L172.76,30.20 L172.94,31.19 L173.12,32.18 L173.30,33.16 L173.48,34.15 L173.66,35.14 L173.84,36.12 L174.02,37.11 L174.20,38.10 L174.38,39.09 L174.56,40.07 L174.74,41.06 L174.92,42.05 L175.10,43.04 L175.28,44.02 L175.46,45.01 L175.65,46.00 L175.83,46.98 L176.01,47.97 L176.19,48.96 L176.38,49.94 L176.56,50.93 L176.74,51.92 L176.93,52.91 L177.11,53.89 L177.30,54.88 L177.48,55.87 L177.67,56.85 L177.85,57.84 L178.04,58.83 L178.23,59.81 L178.41,60.80 L178.60,61.78 L178.79,62.77 L178.98,63.76 L179.17,64.74 L179.36,65.73 L179.55,66.71 L179.74,67.70 L179.93,68.69 L180.12,69.67 L180.31,70.66 L180.51,71.64 L180.70,72.63 L180.89,73.61 L181.09,74.60 L181.28,75.58 L181.48,76.57 L181.67,77.55 L181.87,78.53 L182.07,79.52 L182.27,80.50 L182.47,81.49 L182.67,82.47 L182.87,83.45 L183.07,84.44 L183.27,85.42 L183.47,86.40 L183.67,87.38 L183.88,88.37 L184.08,89.35 L184.29,90.33 L184.49,91.31 L184.70,92.29 L184.91,93.28 L185.12,94.26 L185.32,95.24 L185.53,96.22 L185.75,97.20 L185.96,98.18 L186.17,99.16 L186.38,100.14 L186.60,101.12 L186.81,102.10 L187.03,103.08 L187.25,104.06 L187.46,105.03 L187.68,106.01 L187.90,106.99 L188.12,107.97 L188.35,108.95 L188.57,109.92 L188.79,110.90 L189.02,111.88 L189.24,112.85 L189.47,113.83 L189.70,114.81 L189.93,115.78 L190.16,116.76 L190.39,117.73 L190.62,118.70 L190.85,119.68 L191.09,120.65 L191.32,121.63 L191.56,122.60 L191.80,123.57 L192.04,124.54 L192.28,125.52 L192.52,126.49 L192.76,127.46 L193.00,128.43 L193.25,129.40 L193.49,130.37 L193.74,131.34 L193.99,132.31 L194.24,133.28 L194.49,134.25 L194.74,135.22 L195.00,136.19 L195.25,137.15 L195.51,138.12 L195.76,139.09 L196.02,140.05 L196.28,141.02 L196.55,141.99 L196.81,142.95 L197.07,143.92 L197.34,144.88 L197.60,145.84 L197.87,146.81 L198.14,147.77 L198.41,148.73 L198.69,149.70 L198.96,150.66 L199.24,151.62 L199.51,152.58 L199.79,153.54 L200.07,154.50 L200.35,155.46 L200.64,156.42 L200.92,157.38 L201.21,158.34 L201.50,159.29 L201.79,160.25 L202.08,161.21 L202.37,162.16 L202.67,163.12 L202.96,164.07 L203.26,165.02 L203.56,165.98 L203.87,166.93 L204.17,167.88 L204.48,168.83 L204.79,169.78 L205.10,170.73 L205.42,171.68 L205.73,172.63 L206.05,173.57 L206.38,174.52 L206.70,175.46 L207.03,176.41 L207.36,177.35 L207.69,178.29 L208.02,179.23 L208.36,180.17 L208.70,181.11 L209.04,182.05 L209.39,182.99 L209.74,183.92 L210.09,184.86 L210.44,185.79 L210.80,186.72 L211.16,187.65 L211.52,188.58 L211.89,189.51 L212.26,190.44 L212.64,191.37 L213.01,192.29 L213.39,193.22 L213.78,194.14 L214.16,195.06 L214.55,195.98 L214.95,196.90 L215.34,197.82 L215.74,198.73 L216.15,199.65 L216.56,200.56 L216.97,201.47 L217.39,202.38 L217.81,203.29 L218.23,204.20 L218.66,205.10 L219.09,206.01 L219.52,206.91 L219.96,207.81 L220.41,208.71 L220.85,209.61 L221.31,210.50 L221.76,211.40 L222.22,212.29 L222.69,213.18 L223.16,214.07 L223.63,214.96 L224.11,215.85 L224.59,216.73 L225.08,217.61 L225.57,218.49 L226.07,219.37 L226.56,220.25 L227.07,221.12 L227.57,222.00 L228.08,222.87 L228.59,223.74 L229.11,224.61 L229.63,225.48 L230.15,226.34 L230.67,227.21 L231.20,228.07 L231.73,228.93 L232.26,229.79 L232.79,230.65 L233.33,231.50 L233.87,232.36 L234.41,233.21 L234.95,234.06 L235.49,234.91 L236.03,235.76 L236.58,236.61 L237.13,237.45 L237.68,238.30 L238.23,239.14 L238.79,239.98 L239.34,240.82 L239.90,241.65 L240.46,242.49 L241.02,243.32 L241.59,244.15 L242.16,244.98 L242.73,245.81 L243.30,246.63 L243.87,247.46 L244.44,248.28 L245.02,249.10 L245.60,249.92 L246.18,250.73 L246.77,251.55 L247.36,252.36 L247.94,253.17 L248.54,253.98 L249.13,254.78 L249.72,255.59 L250.32,256.39 L250.92,257.19 L251.53,257.99 L252.13,258.78 L252.74,259.58 L253.35,260.37 L253.96,261.16 L254.58,261.94 L255.19,262.73 L255.82,263.51 L256.44,264.29 L257.06,265.07 L257.69,265.84 L258.32,266.62 L258.95,267.39 L259.59,268.15 L260.23,268.92 L260.87,269.68 L261.51,270.44 L262.16,271.20 L262.81,271.96 L263.46,272.71 L264.11,273.46 L264.77,274.21 L265.43,274.96 L266.09,275.70 L266.76,276.44 L267.43,277.18 L268.10,277.91 L268.77,278.65 L269.45,279.38 L270.13,280.10 L270.81,280.83 L271.50,281.55 L272.19,282.27 L272.88,282.99 L273.57,283.70 L274.27,284.41 L274.97,285.12 L275.68,285.82 L276.38,286.52 L277.09,287.22 L277.81,287.92 L278.52,288.61 L279.24,289.30 L279.97,289.99 L280.69,290.68 L281.42,291.36 L282.15,292.04 L282.89,292.71 L283.63,293.38 L284.37,294.05 L285.11,294.72 L285.86,295.38 L286.61,296.04 L287.37,296.70 L288.13,297.35 L288.89,298.00 L289.65,298.65 L290.42,299.29 L291.19,299.93 L291.97,300.57 L292.75,301.21 L293.53,301.84 L294.31,302.47 L295.10,303.09 L295.89,303.71 L296.68,304.33 L297.48,304.95 L298.28,305.56 L299.08,306.17 L299.88,306.77 L300.69,307.38 L301.50,307.97 L302.31,308.57 L303.12,309.16 L303.94,309.75 L304.76,310.34 L305.58,310.93 L306.40,311.51 L307.23,312.08 L308.06,312.66 L308.89,313.23 L309.72,313.80 L310.56,314.36 L311.40,314.92 L312.24,315.48 L313.08,316.04 L313.92,316.59 L314.76,317.14 L315.61,317.69 L316.46,318.23 L317.31,318.77 L318.16,319.31 L319.02,319.84 L319.87,320.37 L320.73,320.90 L321.59,321.43 L322.45,321.95 L323.31,322.47 L324.18,322.98 L325.04,323.49 L325.91,324.00 L326.78,324.51 L327.64,325.01 L328.51,325.51 L329.39,326.01 L330.26,326.50 L331.13,327.00 L332.01,327.48 L332.89,327.97 L333.76,328.45 L334.64,328.93 L335.53,329.41 L336.41,329.88 L337.29,330.35 L338.18,330.82 L339.06,331.29 L339.95,331.75 L340.84,332.21 L341.73,332.67 L342.62,333.12 L343.51,333.57 L344.40,334.02 L345.30,334.47 L346.19,334.91 L347.09,335.35 L347.99,335.79 L348.89,336.23 L349.79,336.66 L350.69,337.09 L351.59,337.52 L352.50,337.95 L353.40,338.37 L354.31,338.79 L355.21,339.21 L356.12,339.62 L357.03,340.04 L357.94,340.45 L358.85,340.85 L359.77,341.26 L360.68,341.66 L361.59,342.07 L362.51,342.46 L363.43,342.86 L364.34,343.25 L365.26,343.65 L366.18,344.04 L367.10,344.42 L368.02,344.81 L368.94,345.19 L369.87,345.57 L370.79,345.95 L371.72,346.33 L372.64,346.70 L373.57,347.07 L374.50,347.44 L375.43,347.81 L376.36,348.18 L377.29,348.54 L378.22,348.90 L379.15,349.26 L380.09,349.62 L381.02,349.97 L381.95,350.33 L382.89,350.68 L383.83,351.03 L384.76,351.37 L385.70,351.72 L386.64,352.06 L387.58,352.41 L388.52,352.75 L389.46,353.08 L390.40,353.42 L391.35,353.75 L392.29,354.09 L393.23,354.42 L394.18,354.75 L395.13,355.08 L396.07,355.40 L397.02,355.72 L397.97,356.05 L398.92,356.37 L399.86,356.69 L400.81,357.00 L401.76,357.32 L402.72,357.63 L403.67,357.95 L404.62,358.26 L405.57,358.57 L406.53,358.87 L407.48,359.18 L408.43,359.49 L409.39,359.79 L410.35,360.09 L411.30,360.39 L412.26,360.69 L413.22,360.99 L414.17,361.28 L415.13,361.58 L416.09,361.87 L417.05,362.16 L418.01,362.46 L418.97,362.74 L419.93,363.03 L420.89,363.32 L421.86,363.61 L422.82,363.89 L423.78,364.17 L424.75,364.45 L425.71,364.74 L426.67,365.01 L427.64,365.29 L428.60,365.57 L429.57,365.85 L430.53,366.12 L431.50,366.40 L432.47,366.67 L433.43,366.94 L434.40,367.21 L435.37,367.48 L436.34,367.75 L437.30,368.02 L438.27,368.28 L439.24,368.55 L440.21,368.82 L441.18,369.08 L442.15,369.34 L443.12,369.61 L444.09,369.87 L445.06,370.13 L446.03,370.39 L447.00,370.65 L447.97,370.90 L448.94,371.16 L449.92,371.42 L450.89,371.67 L451.86,371.93 L452.83,372.18 L453.80,372.44 L454.77,372.69 L455.74,372.94 L456.71,373.20 L457.69,373.45 L458.66,373.70 L459.62,373.95 L460.59,374.20 L461.56,374.45 L462.53,374.69 L463.50,374.94 L464.46,375.19 L465.43,375.44 L466.39,375.68 L467.35,375.93 L468.31,376.18 L469.27,376.42 L470.23,376.67 L471.19,376.91 L472.15,377.16 L473.10,377.40 L474.05,377.65 L475.00,377.89 L475.96,378.14 L476.91,378.38 L477.87,378.64 L478.84,378.90 L479.82,379.18 L480.82,379.47 L481.83,379.78 L482.87,380.10 L483.94,380.45 L485.03,380.83 L486.15,381.23 L487.26,381.65 L488.35,382.10 L489.38,382.57 L490.33,383.06 L491.16,383.56 L491.85,384.07 L492.37,384.59 L492.70,385.11 L492.84,385.63 L492.77,386.14 L492.50,386.62 L492.03,387.08 L491.40,387.51 L490.64,387.92 L489.78,388.29 L488.85,388.63 L487.88,388.95 L486.90,389.23 L485.92,389.47 L484.93,389.69 L483.94,389.89 L482.94,390.06 L481.94,390.20 L480.94,390.33 L479.93,390.45 L478.93,390.55 L477.92,390.63 L476.91,390.71 L475.90,390.79 L474.89,390.86 L473.88,390.93 L472.87,391.00 L471.86,391.06 L470.85,391.13 L469.84,391.20 L468.83,391.26 L467.82,391.32 L466.82,391.39 L465.81,391.45 L464.80,391.51 L463.79,391.57 L462.78,391.62 L461.77,391.68 L460.77,391.74 L459.76,391.79 L458.75,391.85 L457.74,391.90 L456.74,391.96 L455.73,392.01 L454.72,392.06 L453.72,392.11 L452.71,392.16 L451.70,392.21 L450.70,392.26 L449.69,392.30 L448.68,392.35 L447.68,392.39 L446.67,392.44 L445.67,392.48 L444.66,392.52 L443.65,392.56 L442.65,392.61 L441.64,392.65 L440.64,392.68 L439.63,392.72 L438.63,392.76 L437.62,392.80 L436.62,392.83 L435.61,392.87 L434.61,392.90 L433.61,392.94 L432.60,392.97 L431.60,393.00 L430.59,393.03 L429.59,393.07 L428.58,393.10 L427.58,393.12 L426.58,393.15 L425.57,393.18 L424.57,393.21 L423.57,393.23 L422.56,393.26 L421.56,393.29 L420.56,393.31 L419.55,393.33 L418.55,393.36 L417.55,393.38 L416.55,393.40 L415.54,393.42 L414.54,393.44 L413.54,393.46 L412.54,393.48 L411.53,393.50 L410.53,393.52 L409.53,393.54 L408.53,393.55 L407.52,393.57 L406.52,393.58 L405.52,393.60 L404.52,393.61 L403.52,393.63 L402.52,393.64 L401.51,393.65 L400.51,393.67 L399.51,393.68 L398.51,393.69 L397.51,393.70 L396.51,393.71 L395.51,393.72 L394.50,393.73 L393.50,393.74 L392.50,393.74 L391.50,393.75 L390.50,393.76 L389.50,393.77 L388.50,393.77 L387.50,393.78 L386.50,393.78 L385.50,393.79 L384.49,393.79 L383.49,393.79 L382.49,393.80 L381.49,393.80 L380.49,393.80 L379.49,393.81 L378.49,393.81 L377.49,393.81 L376.49,393.81 L375.49,393.81 L374.49,393.81 L373.49,393.81 L372.49,393.81 L371.49,393.81 L370.49,393.81 L369.49,393.80 L368.49,393.80 L367.49,393.80 L366.49,393.80 L365.49,393.79 L364.49,393.79 L363.49,393.79 L362.49,393.78 L361.49,393.78 L360.49,393.77 L359.49,393.77 L358.49,393.76 L357.49,393.76 L356.49,393.75 L355.49,393.75 L354.49,393.74 L353.49,393.73 L352.49,393.73 L351.49,393.72 L350.49,393.71 L349.49,393.70 L348.49,393.70 L347.49,393.69 L346.49,393.68 L345.49,393.67 L344.49,393.66 L343.49,393.65 L342.49,393.65 L341.48,393.64 L340.48,393.63 L339.48,393.62 L338.48,393.61 L337.48,393.60 L336.48,393.59 L335.48,393.58 L334.48,393.57 L333.48,393.56 L332.48,393.55 L331.48,393.54 L330.48,393.53 L329.48,393.51 L328.48,393.50 L327.48,393.49 L326.48,393.48 L325.48,393.47 L324.48,393.46 L323.48,393.45 L322.48,393.44 L321.48,393.43 L320.47,393.41 L319.47,393.40 L318.47,393.39 L317.47,393.38 L316.47,393.37 L315.47,393.35 L314.47,393.34 L313.47,393.33 L312.47,393.32 L311.47,393.30 L310.46,393.29 L309.46,393.28 L308.46,393.27 L307.46,393.25 L306.46,393.24 L305.46,393.22 L304.46,393.21 L303.46,393.20 L302.45,393.18 L301.45,393.17 L300.45,393.15 L299.45,393.14 L298.45,393.12 L297.45,393.11 L296.45,393.09 L295.44,393.07 L294.44,393.06 L293.44,393.04 L292.44,393.02 L291.44,393.01 L290.44,392.99 L289.43,392.97 L288.43,392.95 L287.43,392.93 L286.43,392.92 L285.43,392.90 L284.43,392.88 L283.42,392.86 L282.42,392.84 L281.42,392.82 L280.42,392.79 L279.42,392.77 L278.41,392.75 L277.41,392.73 L276.41,392.71 L275.41,392.68 L274.41,392.66 L273.40,392.64 L272.40,392.61 L271.40,392.59 L270.40,392.56 L269.40,392.54 L268.40,392.51 L267.39,392.48 L266.39,392.46 L265.39,392.43 L264.39,392.40 L263.39,392.37 L262.38,392.34 L261.38,392.31 L260.38,392.28 L259.38,392.25 L258.38,392.22 L257.37,392.19 L256.37,392.16 L255.37,392.13 L254.37,392.09 L253.37,392.06 L252.36,392.02 L251.36,391.99 L250.36,391.95 L249.36,391.92 L248.36,391.88 L247.35,391.84 L246.35,391.80 L245.35,391.77 L244.35,391.73 L243.35,391.69 L242.35,391.64 L241.34,391.60 L240.34,391.56 L239.34,391.52 L238.34,391.48 L237.34,391.43 L236.33,391.39 L235.33,391.34 L234.33,391.30 L233.33,391.25 L232.33,391.20 L231.33,391.15 L230.32,391.10 L229.32,391.05 L228.32,391.00 L227.32,390.95 L226.32,390.90 L225.32,390.85 L224.31,390.79 L223.31,390.74 L222.31,390.68 L221.31,390.63 L220.31,390.57 L219.31,390.51 L218.31,390.46 L217.30,390.40 L216.30,390.34 L215.30,390.28 L214.30,390.21 L213.30,390.15 L212.30,390.09 L211.30,390.02 L210.30,389.96 L209.29,389.89 L208.29,389.83 L207.29,389.76 L206.29,389.69 L205.29,389.62 L204.29,389.55 L203.29,389.48 L202.29,389.41 L201.29,389.33 L200.29,389.26 L199.29,389.18 L198.28,389.11 L197.28,389.03 L196.28,388.95 L195.28,388.87 L194.28,388.79 L193.28,388.71 L192.28,388.63 L191.28,388.55 L190.28,388.46 L189.28,388.38 L188.28,388.29 L187.28,388.20 L186.28,388.11 L185.28,388.02 L184.28,387.93 L183.28,387.84 L182.28,387.75 L181.28,387.66 L180.28,387.56 L179.28,387.47 L178.28,387.37 L177.28,387.27 L176.28,387.17 L175.28,387.06 L174.29,386.95 L173.29,386.84 L172.30,386.72 L171.30,386.60 L170.31,386.48 L169.32,386.35 L168.33,386.22 L167.34,386.08 L166.35,385.93 L165.37,385.78 L164.39,385.62 L163.41,385.45 L162.43,385.28 L161.45,385.10 L160.48,384.91 L159.51,384.71 L158.54,384.50 L157.57,384.29 L156.61,384.06 L155.65,383.83 L154.70,383.59 L153.74,383.34 L152.79,383.08 L151.84,382.81 L150.89,382.54 L149.93,382.27 L148.98,381.99 L148.03,381.71 L147.08,381.43 L146.12,381.15 L145.17,380.87 L144.21,380.59 L143.24,380.31 L142.28,380.04 L141.31,379.77 L140.33,379.50 L139.35,379.24 L138.36,378.99 L137.37,378.75 L136.37,378.51 L135.37,378.28 L134.35,378.07 L133.33,377.86 L132.30,377.67 L131.26,377.49 L130.22,377.33 L129.17,377.19 L128.13,377.08 L127.09,377.00 L126.07,376.96 L125.07,376.97 L124.09,377.03 L123.14,377.14 L122.22,377.32 L121.34,377.57 L120.51,377.88 L119.72,378.28 L118.98,378.77 L118.31,379.34 L117.69,380.01 L117.14,380.77 L116.65,381.61 L116.21,382.52 L115.82,383.48 L115.49,384.50 L115.20,385.54 L114.95,386.61 L114.74,387.69 L114.57,388.77 L114.43,389.84 L114.32,390.88 L114.23,391.90 L114.17,392.91 L114.12,393.89 L114.09,394.86 L114.07,395.82 L114.06,396.77 L114.06,397.72 L114.05,398.67 L114.05,399.62 L114.04,400.58 L114.02,401.56 L114.00,402.54 L113.95,403.55 L113.89,404.57 L113.81,405.62 L113.70,406.70" fill="none" stroke-linejoin="round" stroke="#56B4E9" stroke-width="1.5" stroke-dasharray="7.6,1.3,0.8,1.3,2.9,1.3,0.8,1.3" stroke-dashoffset="3"/>
</g>
</g>
<rect x="116.40" y="163.50" width="8.4" height="8.4" fill="#E69F00"/>
<rect x="121.00" y="198.40" width="8.4" height="8.4" fill="#E69F00"/>
<rect x="127.60" y="233.10" width="8.4" height="8.4" fill="#E69F00"/>
<rect x="133.20" y="267.80" width="8.4" height="8.4" fill="#E69F00"/>
<rect x="143.10" y="302.70" width="8.4" height="8.4" fill="#E69F00"/>
<rect x="160.00" y="337.60" width="8.4" height="8.4" fill="#E69F00"/>
<rect x="135.80" y="365.60" width="8.4" height="8.4" fill="#E69F00"/>
<rect x="171.10" y="365.60" width="8.4" height="8.4" fill="#E69F00"/>
<rect x="119.65" y="164.45" width="6.5" height="6.5" fill="none" stroke="#E69F00" stroke-width="1.5"/>
<rect x="125.15" y="199.35" width="6.5" height="6.5" fill="none" stroke="#E69F00" stroke-width="1.5"/>
<rect x="129.35" y="234.05" width="6.5" height="6.5" fill="none" stroke="#E69F00" stroke-width="1.5"/>
<rect x="137.35" y="268.75" width="6.5" height="6.5" fill="none" stroke="#E69F00" stroke-width="1.5"/>
<rect x="147.85" y="303.65" width="6.5" height="6.5" fill="none" stroke="#E69F00" stroke-width="1.5"/>
<rect x="168.15" y="338.55" width="6.5" height="6.5" fill="none" stroke="#E69F00" stroke-width="1.5"/>
<rect x="194.45" y="366.45" width="6.5" height="6.5" fill="none" stroke="#E69F00" stroke-width="1.5"/>
<rect x="203.45" y="373.45" width="6.5" height="6.5" fill="none" stroke="#E69F00" stroke-width="1.5"/>
<rect x="233.05" y="387.35" width="6.5" height="6.5" fill="none" stroke="#E69F00" stroke-width="1.5"/>
<rect x="254.75" y="394.25" width="6.5" height="6.5" fill="none" stroke="#E69F00" stroke-width="1.5"/>
<rect x="263.75" y="401.25" width="6.5" height="6.5" fill="none" stroke="#E69F00" stroke-width="1.5"/>
<circle cx="142.50" cy="121.80" r="4.1" fill="#0072B2"/>
<circle cx="149.90" cy="162.80" r="4.1" fill="#0072B2"/>
<circle cx="159.50" cy="204.10" r="4.1" fill="#0072B2"/>
<circle cx="172.40" cy="245.90" r="4.1" fill="#0072B2"/>
<circle cx="193.40" cy="287.10" r="4.1" fill="#0072B2"/>
<circle cx="225.80" cy="328.50" r="4.1" fill="#0072B2"/>
<circle cx="283.60" cy="370.00" r="4.1" fill="#0072B2"/>
<circle cx="293.00" cy="378.30" r="4.1" fill="#0072B2"/>
<circle cx="290.40" cy="382.50" r="4.1" fill="#0072B2"/>
<circle cx="113.10" cy="378.40" r="4.1" fill="#0072B2"/>
<circle cx="116.60" cy="386.40" r="4.1" fill="#0072B2"/>
<circle cx="143.40" cy="378.40" r="4.1" fill="#0072B2"/>
<circle cx="160.30" cy="382.50" r="4.1" fill="#0072B2"/>
<circle cx="197.00" cy="386.40" r="4.1" fill="#0072B2"/>
<circle cx="160.80" cy="204.10" r="3.25" fill="none" stroke="#0072B2" stroke-width="1.5"/>
<circle cx="174.30" cy="245.90" r="3.25" fill="none" stroke="#0072B2" stroke-width="1.5"/>
<circle cx="195.50" cy="287.10" r="3.25" fill="none" stroke="#0072B2" stroke-width="1.5"/>
<circle cx="231.00" cy="328.50" r="3.25" fill="none" stroke="#0072B2" stroke-width="1.5"/>
<circle cx="302.30" cy="370.00" r="3.25" fill="none" stroke="#0072B2" stroke-width="1.5"/>
<circle cx="327.20" cy="378.30" r="3.25" fill="none" stroke="#0072B2" stroke-width="1.5"/>
<circle cx="341.60" cy="386.40" r="3.25" fill="none" stroke="#0072B2" stroke-width="1.5"/>
<circle cx="411.60" cy="394.80" r="3.25" fill="none" stroke="#0072B2" stroke-width="1.5"/>
<polygon points="166.90,72.75 161.90,79.75 171.90,79.75" fill="#E51E10"/>
<polygon points="177.90,120.05 172.90,127.05 182.90,127.05" fill="#E51E10"/>
<polygon points="195.30,168.15 190.30,175.15 200.30,175.15" fill="#E51E10"/>
<polygon points="216.40,215.75 211.40,222.75 221.40,222.75" fill="#E51E10"/>
<polygon points="249.90,263.65 244.90,270.65 254.90,270.65" fill="#E51E10"/>
<polygon points="306.80,311.05 301.80,318.05 311.80,318.05" fill="#E51E10"/>
<polygon points="420.90,359.25 415.90,366.25 425.90,366.25" fill="#E51E10"/>
<polygon points="470.80,373.25 465.80,380.25 475.80,380.25" fill="#E51E10"/>
<polygon points="493.10,382.85 488.10,389.85 498.10,389.85" fill="#E51E10"/>
<polygon points="167.50,74.30 164.20,78.80 170.80,78.80" fill="none" stroke="#E51E10" stroke-width="1.8" stroke-linejoin="miter"/>
<polygon points="179.10,121.60 175.80,126.10 182.40,126.10" fill="none" stroke="#E51E10" stroke-width="1.8" stroke-linejoin="miter"/>
<polygon points="196.90,169.70 193.60,174.20 200.20,174.20" fill="none" stroke="#E51E10" stroke-width="1.8" stroke-linejoin="miter"/>
<polygon points="219.20,217.30 215.90,221.80 222.50,221.80" fill="none" stroke="#E51E10" stroke-width="1.8" stroke-linejoin="miter"/>
<polygon points="252.70,265.20 249.40,269.70 256.00,269.70" fill="none" stroke="#E51E10" stroke-width="1.8" stroke-linejoin="miter"/>
<polygon points="309.80,312.60 306.50,317.10 313.10,317.10" fill="none" stroke="#E51E10" stroke-width="1.8" stroke-linejoin="miter"/>
<polygon points="433.50,360.80 430.20,365.30 436.80,365.30" fill="none" stroke="#E51E10" stroke-width="1.8" stroke-linejoin="miter"/>
<polygon points="503.40,374.90 500.10,379.40 506.70,379.40" fill="none" stroke="#E51E10" stroke-width="1.8" stroke-linejoin="miter"/>
<polygon points="567.60,384.60 564.30,389.10 570.90,389.10" fill="none" stroke="#E51E10" stroke-width="1.8" stroke-linejoin="miter"/>
<polygon points="670.80,399.00 667.50,403.50 674.10,403.50" fill="none" stroke="#E51E10" stroke-width="1.8" stroke-linejoin="miter"/>
<rect x="95.50" y="24.60" width="694.50" height="386.70" fill="none" stroke="#000" stroke-width="1.75"/>
<line x1="194.71" y1="411.30" x2="194.71" y2="406.70" stroke="#000" stroke-width="1.75"/>
<line x1="194.71" y1="24.60" x2="194.71" y2="29.20" stroke="#000" stroke-width="1.75"/>
<line x1="293.93" y1="411.30" x2="293.93" y2="402.30" stroke="#000" stroke-width="1.75"/>
<line x1="293.93" y1="24.60" x2="293.93" y2="33.60" stroke="#000" stroke-width="1.75"/>
<line x1="393.14" y1="411.30" x2="393.14" y2="406.70" stroke="#000" stroke-width="1.75"/>
<line x1="393.14" y1="24.60" x2="393.14" y2="29.20" stroke="#000" stroke-width="1.75"/>
<line x1="492.36" y1="411.30" x2="492.36" y2="402.30" stroke="#000" stroke-width="1.75"/>
<line x1="492.36" y1="24.60" x2="492.36" y2="33.60" stroke="#000" stroke-width="1.75"/>
<line x1="591.57" y1="411.30" x2="591.57" y2="406.70" stroke="#000" stroke-width="1.75"/>
<line x1="591.57" y1="24.60" x2="591.57" y2="29.20" stroke="#000" stroke-width="1.75"/>
<line x1="690.79" y1="411.30" x2="690.79" y2="402.30" stroke="#000" stroke-width="1.75"/>
<line x1="690.79" y1="24.60" x2="690.79" y2="33.60" stroke="#000" stroke-width="1.75"/>
<line x1="95.50" y1="89.05" x2="100.10" y2="89.05" stroke="#000" stroke-width="1.75"/>
<line x1="790.00" y1="89.05" x2="785.40" y2="89.05" stroke="#000" stroke-width="1.75"/>
<line x1="95.50" y1="153.50" x2="104.50" y2="153.50" stroke="#000" stroke-width="1.75"/>
<line x1="790.00" y1="153.50" x2="781.00" y2="153.50" stroke="#000" stroke-width="1.75"/>
<line x1="95.50" y1="217.95" x2="100.10" y2="217.95" stroke="#000" stroke-width="1.75"/>
<line x1="790.00" y1="217.95" x2="785.40" y2="217.95" stroke="#000" stroke-width="1.75"/>
<line x1="95.50" y1="282.40" x2="104.50" y2="282.40" stroke="#000" stroke-width="1.75"/>
<line x1="790.00" y1="282.40" x2="781.00" y2="282.40" stroke="#000" stroke-width="1.75"/>
<line x1="95.50" y1="346.85" x2="100.10" y2="346.85" stroke="#000" stroke-width="1.75"/>
<line x1="790.00" y1="346.85" x2="785.40" y2="346.85" stroke="#000" stroke-width="1.75"/>
<path d="M130.30,585.30 L130.34,585.67 L130.38,586.20 L130.44,586.82 L130.52,587.44 L130.60,588.00 L130.70,588.55 L130.81,589.04 L130.97,589.59 L131.20,590.30 L131.34,590.70 L131.49,591.16 L131.65,591.65 L131.83,592.17 L132.02,592.70 L132.23,593.23 L132.44,593.75 L132.67,594.24 L132.90,594.70 L133.16,595.16 L133.40,595.59 L133.66,595.99 L133.93,596.38 L134.23,596.77 L134.58,597.17 L135.00,597.61 L135.50,598.10 L135.80,598.37 L136.11,598.65 L136.43,598.93 L136.77,599.21 L137.12,599.50 L137.49,599.80 L137.87,600.10 L138.27,600.41 L138.69,600.73 L139.13,601.06 L139.58,601.40 L140.06,601.76 L140.55,602.12 L141.06,602.50 L141.60,602.90 L141.93,603.15 L142.28,603.40 L142.63,603.66 L142.99,603.93 L143.36,604.21 L143.74,604.49 L144.13,604.77 L144.52,605.06 L144.92,605.36 L145.33,605.66 L145.74,605.96 L146.16,606.27 L146.59,606.57 L147.02,606.88 L147.45,607.19 L147.89,607.50 L148.32,607.81 L148.77,608.11 L149.21,608.42 L149.66,608.73 L150.11,609.03 L150.55,609.33 L151.00,609.62 L151.45,609.91 L151.90,610.20 L152.32,610.46 L152.73,610.72 L153.16,610.99 L153.58,611.25 L154.01,611.51 L154.44,611.77 L154.87,612.03 L155.30,612.29 L155.74,612.54 L156.18,612.80 L156.62,613.06 L157.06,613.32 L157.51,613.57 L157.96,613.83 L158.41,614.08 L158.86,614.34 L159.32,614.59 L159.77,614.84 L160.23,615.10 L160.70,615.35 L161.16,615.60 L161.63,615.85 L162.10,616.10 L162.57,616.35 L163.05,616.60 L163.52,616.85 L164.00,617.10 L164.43,617.32 L164.87,617.55 L165.31,617.77 L165.75,618.00 L166.20,618.22 L166.65,618.45 L167.10,618.67 L167.56,618.90 L168.02,619.12 L168.47,619.34 L168.93,619.57 L169.40,619.79 L169.86,620.01 L170.33,620.24 L170.79,620.46 L171.26,620.68 L171.73,620.90 L172.20,621.11 L172.67,621.33 L173.14,621.54 L173.61,621.76 L174.08,621.97 L174.54,622.18 L175.01,622.39 L175.48,622.60 L175.95,622.80 L176.41,623.00 L176.88,623.21 L177.34,623.40 L177.80,623.60 L178.27,623.80 L178.74,624.00 L179.20,624.19 L179.65,624.38 L180.10,624.56 L180.55,624.75 L180.99,624.93 L181.44,625.10 L181.88,625.28 L182.32,625.45 L182.76,625.63 L183.20,625.80 L183.64,625.97 L184.09,626.14 L184.54,626.31 L184.99,626.48 L185.45,626.65 L185.91,626.82 L186.38,626.99 L186.86,627.16 L187.34,627.34 L187.84,627.51 L188.34,627.69 L188.85,627.87 L189.38,628.05 L189.91,628.23 L190.46,628.42 L191.02,628.61 L191.60,628.80 L192.02,628.94 L192.45,629.08 L192.88,629.22 L193.33,629.37 L193.79,629.52 L194.26,629.67 L194.73,629.82 L195.21,629.97 L195.70,630.12 L196.19,630.28 L196.69,630.44 L197.20,630.59 L197.71,630.75 L198.22,630.91 L198.74,631.07 L199.26,631.23 L199.78,631.39 L200.31,631.55 L200.83,631.71 L201.36,631.86 L201.89,632.02 L202.41,632.18 L202.94,632.34 L203.46,632.50 L203.99,632.65 L204.51,632.81 L205.02,632.96 L205.53,633.11 L206.04,633.26 L206.54,633.41 L207.04,633.56 L207.53,633.70 L208.02,633.85 L208.50,633.99 L208.97,634.13 L209.43,634.26 L209.88,634.40 L210.33,634.53 L210.76,634.65 L211.19,634.78 L211.60,634.90 L212.20,635.08 L212.76,635.24 L213.28,635.40 L213.77,635.55 L214.24,635.69 L214.68,635.82 L215.10,635.95 L215.51,636.07 L215.90,636.19 L216.28,636.30 L216.66,636.42 L217.04,636.53 L217.42,636.64 L217.80,636.75 L218.19,636.86 L218.60,636.97 L219.02,637.09 L219.47,637.21 L219.93,637.34 L220.43,637.47 L220.96,637.60 L221.52,637.75 L222.13,637.90 L222.77,638.06 L223.46,638.23 L224.20,638.41 L225.00,638.60 L225.36,638.69 L225.72,638.77 L226.09,638.86 L226.47,638.95 L226.86,639.05 L227.25,639.14 L227.65,639.24 L228.06,639.33 L228.47,639.43 L228.89,639.53 L229.31,639.63 L229.74,639.73 L230.18,639.84 L230.62,639.94 L231.07,640.05 L231.52,640.16 L231.98,640.26 L232.45,640.37 L232.92,640.48 L233.39,640.60 L233.87,640.71 L234.35,640.82 L234.84,640.93 L235.33,641.05 L235.82,641.16 L236.32,641.28 L236.82,641.40 L237.33,641.51 L237.84,641.63 L238.35,641.75 L238.87,641.87 L239.38,641.98 L239.91,642.10 L240.43,642.22 L240.96,642.34 L241.49,642.46 L242.02,642.58 L242.55,642.70 L243.09,642.82 L243.62,642.94 L244.16,643.06 L244.70,643.18 L245.24,643.30 L245.78,643.42 L246.33,643.54 L246.87,643.66 L247.42,643.78 L247.96,643.90 L248.51,644.01 L249.05,644.13 L249.60,644.25 L250.14,644.37 L250.69,644.48 L251.23,644.60 L251.78,644.71 L252.32,644.83 L252.87,644.94 L253.41,645.05 L253.95,645.16 L254.49,645.27 L255.03,645.38 L255.56,645.49 L256.10,645.60 L256.56,645.69 L257.03,645.79 L257.49,645.88 L257.96,645.97 L258.43,646.06 L258.90,646.16 L259.37,646.25 L259.85,646.35 L260.32,646.44 L260.80,646.53 L261.28,646.63 L261.76,646.72 L262.24,646.82 L262.72,646.91 L263.21,647.01 L263.70,647.10 L264.18,647.19 L264.67,647.29 L265.16,647.38 L265.65,647.48 L266.14,647.57 L266.64,647.67 L267.13,647.76 L267.63,647.85 L268.12,647.95 L268.62,648.04 L269.12,648.14 L269.62,648.23 L270.12,648.32 L270.62,648.42 L271.12,648.51 L271.62,648.60 L272.12,648.70 L272.63,648.79 L273.13,648.88 L273.64,648.97 L274.14,649.06 L274.65,649.15 L275.15,649.25 L275.66,649.34 L276.16,649.43 L276.67,649.52 L277.18,649.61 L277.68,649.70 L278.19,649.79 L278.70,649.88 L279.21,649.97 L279.71,650.06 L280.22,650.15 L280.73,650.24 L281.24,650.32 L281.74,650.40 L282.25,650.49 L282.76,650.57 L283.26,650.66 L283.77,650.75 L284.28,650.84 L284.78,650.92 L285.29,651.00 L285.79,651.08 L286.30,651.16 L286.80,651.24 L287.30,651.32 L287.81,651.40 L288.31,651.49 L288.81,651.57 L289.31,651.65 L289.81,651.73 L290.31,651.80 L290.81,651.87 L291.31,651.94 L291.80,652.01 L292.30,652.10 L292.80,652.18 L293.30,652.26 L293.81,652.34 L294.31,652.40 L294.81,652.46 L295.31,652.52 L295.81,652.59 L296.31,652.67 L296.82,652.75 L297.32,652.84 L297.82,652.91 L298.32,652.97 L298.82,653.02 L299.32,653.06 L299.83,653.12 L300.33,653.19 L300.83,653.27 L301.33,653.36 L301.83,653.44 L302.33,653.51 L302.83,653.55 L303.33,653.58 L303.84,653.62 L304.34,653.67 L304.84,653.75 L305.34,653.84 L305.84,653.94 L306.34,654.02 L306.84,654.06 L307.34,654.09 L307.84,654.10 L308.35,654.13 L308.85,654.19 L309.35,654.29 L309.85,654.39 L310.35,654.49 L310.85,654.56 L311.35,654.58 L311.85,654.58 L312.35,654.58 L312.86,654.61 L313.36,654.69 L313.86,654.81 L314.36,654.94 L314.86,655.03 L315.36,655.08 L315.86,655.07 L316.36,655.04 L316.86,655.03 L317.37,655.08 L317.87,655.20 L318.37,655.34 L318.87,655.48 L319.37,655.56 L319.87,655.57 L320.37,655.52 L320.87,655.47 L321.38,655.47 L321.88,655.56 L322.38,655.71 L322.88,655.89 L323.38,656.03 L323.88,656.08 L324.39,656.03 L324.89,655.95 L325.39,655.89 L325.89,655.92 L326.39,656.06 L326.89,656.26 L327.40,656.46 L327.90,656.58 L328.40,656.57 L328.90,656.47 L329.40,656.36 L329.91,656.31 L330.41,656.40 L330.91,656.60 L331.41,656.85 L331.92,657.05 L332.42,657.11 L332.92,657.03 L333.42,656.88 L333.93,656.75 L334.43,656.75 L334.93,656.92 L335.43,657.19 L335.94,657.46 L336.44,657.62 L336.94,657.60 L337.45,657.44 L337.95,657.25 L338.45,657.15 L338.95,657.22 L339.46,657.48 L339.96,657.80 L340.46,658.07 L340.97,658.15 L341.47,658.03 L341.97,657.80 L342.48,657.60 L342.98,657.56 L343.48,657.74 L343.98,658.08 L344.49,658.43 L344.99,658.63 L345.49,658.61 L346.00,658.40 L346.50,658.12 L347.00,657.96 L347.51,658.02 L348.01,658.31 L348.51,658.70 L349.02,659.03 L349.52,659.14 L350.02,659.00 L350.52,658.71 L351.03,658.44 L351.53,658.36 L352.03,658.54 L352.54,658.92 L353.04,659.32 L353.54,659.57 L354.05,659.56 L354.55,659.31 L355.05,658.98 L355.55,658.77 L356.06,658.80 L356.56,659.10 L357.06,659.53 L357.57,659.90 L358.07,660.04 L358.57,659.90 L359.07,659.58 L359.58,659.26 L360.08,659.14 L360.58,659.30 L361.08,659.69 L361.59,660.12 L362.09,660.40 L362.59,660.41 L363.09,660.17 L363.60,659.82 L364.10,659.57 L364.60,659.57 L365.10,659.84 L365.60,660.27 L366.11,660.65 L366.61,660.82 L367.11,660.70 L367.61,660.39 L368.11,660.07 L368.62,659.92 L369.12,660.04 L369.62,660.39 L370.12,660.80 L370.62,661.09 L371.12,661.13 L371.63,660.92 L372.13,660.60 L372.63,660.35 L373.13,660.31 L373.63,660.53 L374.13,660.91 L374.64,661.27 L375.14,661.45 L375.64,661.38 L376.14,661.12 L376.64,660.82 L377.14,660.67 L377.64,660.74 L378.14,661.02 L378.65,661.38 L379.15,661.66 L379.65,661.72 L380.15,661.58 L380.65,661.31 L381.15,661.09 L381.65,661.03 L382.16,661.19 L382.66,661.49 L383.16,661.80 L383.66,661.97 L384.16,661.95 L384.66,661.76 L385.16,661.53 L385.66,661.40 L386.16,661.43 L386.67,661.64 L387.17,661.92 L387.67,662.15 L388.17,662.24 L388.67,662.15 L389.17,661.97 L389.67,661.80 L390.17,661.75 L390.68,661.85 L391.18,662.07 L391.68,662.31 L392.18,662.46 L392.68,662.47 L393.18,662.36 L393.68,662.21 L394.18,662.11 L394.68,662.12 L395.19,662.26 L395.69,662.47 L396.19,662.65 L396.69,662.74 L397.19,662.71 L397.69,662.60 L398.19,662.49 L398.69,662.45 L399.20,662.52 L399.70,662.67 L400.20,662.84 L400.70,662.97 L401.20,663.00 L401.70,662.96 L402.20,662.87 L402.71,662.82 L403.21,662.83 L403.71,662.92 L404.21,663.06 L404.71,663.19 L405.21,663.27 L405.71,663.28 L406.21,663.23 L406.72,663.18 L407.22,663.17 L407.72,663.21 L408.22,663.31 L408.72,663.43 L409.22,663.52 L409.72,663.57 L410.22,663.56 L410.72,663.53 L411.23,663.51 L411.73,663.53 L412.23,663.59 L412.73,663.68 L413.23,663.78 L413.73,663.84 L414.23,663.87 L414.73,663.86 L415.24,663.85 L415.74,663.86 L416.24,663.89 L416.74,663.96 L417.24,664.04 L417.74,664.11 L418.24,664.15 L418.74,664.17 L419.24,664.17 L419.75,664.18 L420.25,664.20 L420.75,664.25 L421.25,664.31 L421.75,664.38 L422.25,664.43 L422.75,664.46 L423.26,664.48 L423.76,664.49 L424.26,664.51 L424.76,664.54 L425.26,664.59 L425.76,664.65 L426.26,664.70 L426.76,664.74 L427.27,664.77 L427.77,664.79 L428.27,664.81 L428.77,664.84 L429.27,664.88 L429.77,664.92 L430.28,664.97 L430.78,665.01 L431.28,665.05 L431.78,665.07 L432.28,665.10 L432.78,665.12 L433.29,665.15 L433.79,665.19 L434.29,665.23 L434.79,665.28 L435.29,665.31 L435.80,665.34 L436.30,665.37 L436.80,665.40 L437.30,665.42 L437.81,665.46 L438.31,665.49 L438.82,665.53 L439.33,665.57 L439.84,665.60 L440.35,665.63 L440.87,665.66 L441.38,665.69 L441.90,665.72 L442.42,665.75 L442.93,665.79 L443.45,665.82 L443.97,665.85 L444.49,665.88 L445.01,665.91 L445.53,665.94 L446.06,665.97 L446.58,666.01 L447.10,666.04 L447.63,666.07 L448.15,666.10 L448.67,666.13 L449.20,666.16 L449.72,666.19 L450.24,666.22 L450.77,666.25 L451.29,666.28 L451.81,666.32 L452.34,666.35 L452.86,666.38 L453.38,666.41 L453.90,666.44 L454.42,666.46 L454.94,666.49 L455.46,666.52 L455.98,666.55 L456.50,666.58 L457.01,666.61 L457.53,666.64 L458.04,666.67 L458.56,666.70 L459.07,666.73 L459.58,666.76 L460.09,666.79 L460.59,666.81 L461.10,666.84 L461.60,666.87 L462.11,666.90 L462.61,666.93 L463.10,666.95 L463.60,666.98 L464.10,667.01 L464.59,667.04 L465.08,667.06 L465.57,667.09 L466.05,667.12 L466.53,667.14 L467.01,667.17 L467.49,667.20 L467.97,667.22 L468.44,667.25 L468.91,667.27 L469.38,667.30 L469.84,667.33 L470.30,667.35 L470.76,667.38 L471.21,667.40 L471.67,667.43 L472.11,667.45 L472.56,667.48 L473.00,667.50 L473.58,667.53 L474.16,667.56 L474.74,667.60 L475.31,667.63 L475.88,667.66 L476.45,667.69 L477.01,667.72 L477.57,667.75 L478.13,667.78 L478.68,667.81 L479.23,667.84 L479.77,667.86 L480.31,667.89 L480.85,667.92 L481.39,667.95 L481.92,667.98 L482.45,668.00 L482.97,668.03 L483.50,668.06 L484.02,668.08 L484.53,668.11 L485.05,668.14 L485.56,668.16 L486.06,668.19 L486.57,668.21 L487.07,668.24 L487.57,668.26 L488.06,668.29 L488.56,668.31 L489.05,668.34 L489.54,668.36 L490.02,668.39 L490.50,668.41 L490.98,668.43 L491.46,668.46 L491.94,668.48 L492.41,668.51 L492.88,668.53 L493.35,668.55 L493.81,668.58 L494.28,668.60 L494.74,668.62 L495.19,668.65 L495.65,668.67 L496.11,668.69 L496.56,668.72 L497.01,668.74 L497.45,668.76 L497.90,668.78 L498.34,668.81 L498.79,668.83 L499.23,668.85 L499.66,668.88 L500.10,668.90 L500.67,668.93 L501.19,668.96 L501.65,668.99 L502.06,669.01 L502.43,669.03 L502.76,669.05 L503.06,669.07 L503.32,669.09 L503.56,669.11 L503.77,669.13 L503.97,669.14 L504.16,669.16 L504.33,669.17 L504.50,669.19 L504.67,669.20 L504.84,669.22 L505.02,669.23 L505.22,669.25 L505.43,669.27 L505.66,669.28 L505.92,669.30 L506.21,669.32 L506.54,669.34 L506.90,669.36 L507.31,669.39 L507.76,669.41 L508.27,669.44 L508.83,669.47 L509.45,669.51 L510.14,669.54 L510.90,669.58 L511.73,669.62 L512.64,669.66 L513.64,669.71 L514.72,669.76 L515.89,669.81 L517.16,669.87 L518.53,669.93 L520.00,670.00 L520.30,670.01 L520.61,670.03 L520.92,670.04 L521.24,670.06 L521.56,670.07 L521.89,670.08 L522.22,670.10 L522.56,670.11 L522.89,670.13 L523.24,670.14 L523.59,670.16 L523.94,670.17 L524.30,670.19 L524.66,670.21 L525.02,670.22 L525.39,670.24 L525.77,670.25 L526.15,670.27 L526.53,670.29 L526.91,670.31 L527.30,670.32 L527.70,670.34 L528.09,670.36 L528.50,670.37 L528.90,670.39 L529.31,670.41 L529.72,670.43 L530.14,670.45 L530.56,670.46 L530.98,670.48 L531.41,670.50 L531.84,670.52 L532.27,670.54 L532.71,670.56 L533.15,670.58 L533.59,670.60 L534.04,670.62 L534.49,670.64 L534.95,670.66 L535.40,670.68 L535.86,670.70 L536.32,670.72 L536.79,670.74 L537.26,670.76 L537.73,670.78 L538.21,670.80 L538.68,670.82 L539.16,670.84 L539.65,670.86 L540.13,670.88 L540.62,670.90 L541.11,670.92 L541.61,670.94 L542.10,670.97 L542.60,670.99 L543.10,671.01 L543.61,671.03 L544.11,671.05 L544.62,671.07 L545.13,671.10 L545.65,671.12 L546.16,671.14 L546.68,671.16 L547.20,671.18 L547.72,671.21 L548.24,671.23 L548.77,671.25 L549.30,671.27 L549.83,671.30 L550.36,671.32 L550.89,671.34 L551.43,671.37 L551.97,671.39 L552.50,671.41 L553.05,671.44 L553.59,671.46 L554.13,671.48 L554.68,671.51 L555.22,671.53 L555.77,671.55 L556.32,671.58 L556.87,671.60 L557.43,671.62 L557.98,671.65 L558.54,671.67 L559.09,671.69 L559.65,671.72 L560.21,671.74 L560.77,671.77 L561.33,671.79 L561.89,671.81 L562.45,671.84 L563.02,671.86 L563.58,671.89 L564.15,671.91 L564.71,671.93 L565.28,671.96 L565.85,671.98 L566.42,672.01 L566.99,672.03 L567.56,672.05 L568.13,672.08 L568.70,672.10 L569.27,672.13 L569.84,672.15 L570.42,672.18 L570.99,672.20 L571.56,672.22 L572.13,672.25 L572.71,672.27 L573.28,672.30 L573.86,672.32 L574.43,672.35 L575.00,672.37 L575.58,672.39 L576.15,672.42 L576.73,672.44 L577.30,672.47 L577.87,672.49 L578.45,672.52 L579.02,672.54 L579.59,672.56 L580.17,672.59 L580.74,672.61 L581.31,672.64 L581.88,672.66 L582.45,672.68 L583.02,672.71 L583.59,672.73 L584.16,672.76 L584.73,672.78 L585.30,672.80 L585.87,672.83 L586.43,672.85 L587.00,672.87 L587.56,672.90 L588.13,672.92 L588.69,672.95 L589.25,672.97 L589.82,672.99 L590.38,673.02 L590.93,673.04 L591.49,673.06 L592.05,673.09 L592.60,673.11 L593.16,673.13 L593.71,673.16 L594.26,673.18 L594.81,673.20 L595.36,673.22 L595.91,673.25 L596.45,673.27 L597.00,673.29 L597.54,673.31 L598.08,673.34 L598.62,673.36 L599.16,673.38 L599.70,673.40 L600.23,673.43 L600.76,673.45 L601.29,673.47 L601.82,673.49 L602.35,673.51 L602.87,673.54 L603.39,673.56 L603.91,673.58 L604.43,673.60 L604.95,673.62 L605.46,673.64 L605.97,673.66 L606.48,673.68 L606.99,673.70 L607.49,673.73 L607.99,673.75 L608.49,673.77 L608.99,673.79 L609.48,673.81 L609.98,673.83 L610.46,673.85 L610.95,673.87 L611.43,673.89 L611.92,673.91 L612.39,673.93 L612.87,673.94 L613.34,673.96 L613.81,673.98 L614.28,674.00 L614.74,674.02 L615.20,674.04 L615.66,674.06 L616.11,674.08 L616.56,674.09 L617.01,674.11 L617.46,674.13 L617.90,674.15 L618.33,674.17 L618.77,674.18 L619.20,674.20 L619.80,674.22 L620.40,674.25 L620.99,674.27 L621.58,674.29 L622.16,674.32 L622.74,674.34 L623.32,674.36 L623.89,674.39 L624.46,674.41 L625.02,674.43 L625.58,674.45 L626.14,674.48 L626.69,674.50 L627.24,674.52 L627.79,674.54 L628.33,674.56 L628.87,674.58 L629.41,674.60 L629.95,674.62 L630.48,674.65 L631.00,674.67 L631.53,674.69 L632.05,674.71 L632.57,674.73 L633.08,674.75 L633.60,674.77 L634.11,674.79 L634.61,674.81 L635.12,674.83 L635.62,674.84 L636.12,674.86 L636.62,674.88 L637.11,674.90 L637.60,674.92 L638.09,674.94 L638.58,674.96 L639.07,674.98 L639.55,674.99 L640.04,675.01 L640.52,675.03 L640.99,675.05 L641.47,675.07 L641.95,675.08 L642.42,675.10 L642.89,675.12 L643.36,675.14 L643.83,675.16 L644.30,675.17 L644.76,675.19 L645.23,675.21 L645.69,675.22 L646.15,675.24 L646.61,675.26 L647.07,675.28 L647.53,675.29 L647.99,675.31 L648.45,675.33 L648.90,675.34 L649.36,675.36 L649.81,675.38 L650.27,675.39 L650.72,675.41 L651.17,675.43 L651.63,675.44 L652.08,675.46 L652.53,675.48 L652.98,675.49 L653.43,675.51 L653.89,675.53 L654.34,675.54 L654.79,675.56 L655.24,675.57 L655.69,675.59 L656.14,675.61 L656.59,675.62 L657.05,675.64 L657.50,675.66 L657.95,675.67 L658.40,675.69 L658.86,675.70 L659.31,675.72 L659.77,675.74 L660.22,675.75 L660.68,675.77 L661.14,675.79 L661.60,675.80 L662.06,675.82 L662.52,675.83 L662.98,675.85 L663.44,675.87 L663.90,675.88 L664.37,675.90 L664.84,675.92 L665.30,675.93 L665.77,675.95 L666.24,675.97 L666.72,675.98 L667.19,676.00 L667.67,676.02 L668.14,676.03 L668.62,676.05 L669.10,676.07 L669.59,676.08 L670.07,676.10 L670.56,676.12 L671.05,676.14 L671.54,676.15 L672.03,676.17 L672.53,676.19 L673.03,676.21 L673.53,676.22 L674.03,676.24 L674.54,676.26 L675.05,676.28 L675.56,676.29 L676.07,676.31 L676.59,676.33 L677.11,676.35 L677.63,676.37 L678.16,676.38 L678.69,676.40 L679.22,676.42 L679.75,676.44 L680.29,676.46 L680.83,676.48 L681.38,676.50 L681.93,676.52 L682.48,676.54 L683.04,676.56 L683.59,676.58 L684.16,676.59 L684.72,676.61 L685.29,676.63 L685.87,676.65 L686.45,676.68 L687.03,676.70 L687.61,676.72 L688.20,676.74 L688.80,676.76 L689.40,676.78 L690.00,676.80 L690.43,676.82 L690.87,676.83 L691.30,676.85 L691.75,676.86 L692.19,676.88 L692.64,676.89 L693.10,676.91 L693.55,676.92 L694.01,676.94 L694.48,676.96 L694.95,676.97 L695.42,676.99 L695.89,677.01 L696.37,677.02 L696.85,677.04 L697.33,677.06 L697.82,677.07 L698.31,677.09 L698.81,677.11 L699.30,677.12 L699.80,677.14 L700.31,677.16 L700.81,677.18 L701.32,677.19 L701.83,677.21 L702.35,677.23 L702.86,677.25 L703.38,677.27 L703.91,677.28 L704.43,677.30 L704.96,677.32 L705.49,677.34 L706.02,677.36 L706.56,677.38 L707.09,677.39 L707.63,677.41 L708.17,677.43 L708.72,677.45 L709.26,677.47 L709.81,677.49 L710.36,677.51 L710.91,677.52 L711.47,677.54 L712.02,677.56 L712.58,677.58 L713.14,677.60 L713.70,677.62 L714.26,677.64 L714.83,677.66 L715.39,677.68 L715.96,677.70 L716.53,677.72 L717.10,677.74 L717.67,677.76 L718.24,677.78 L718.82,677.80 L719.39,677.82 L719.97,677.83 L720.55,677.85 L721.13,677.87 L721.71,677.89 L722.29,677.91 L722.87,677.93 L723.45,677.95 L724.04,677.97 L724.62,677.99 L725.21,678.01 L725.79,678.03 L726.38,678.05 L726.96,678.07 L727.55,678.09 L728.14,678.11 L728.73,678.13 L729.32,678.15 L729.91,678.17 L730.50,678.19 L731.09,678.21 L731.68,678.23 L732.27,678.25 L732.86,678.27 L733.45,678.29 L734.04,678.31 L734.63,678.33 L735.22,678.35 L735.81,678.37 L736.40,678.39 L736.99,678.41 L737.58,678.43 L738.17,678.45 L738.76,678.47 L739.35,678.49 L739.94,678.51 L740.52,678.53 L741.11,678.55 L741.70,678.57 L742.28,678.59 L742.87,678.61 L743.45,678.63 L744.03,678.65 L744.62,678.67 L745.20,678.69 L745.78,678.71 L746.36,678.73 L746.94,678.75 L747.51,678.77 L748.09,678.79 L748.66,678.81 L749.24,678.83 L749.81,678.85 L750.38,678.87 L750.95,678.89 L751.52,678.91 L752.09,678.93 L752.65,678.94 L753.21,678.96 L753.78,678.98 L754.34,679.00 L754.89,679.02 L755.45,679.04 L756.01,679.06 L756.56,679.08 L757.11,679.09 L757.66,679.11 L758.21,679.13 L758.75,679.15 L759.29,679.17 L759.83,679.19 L760.37,679.21 L760.91,679.22 L761.44,679.24 L761.97,679.26 L762.50,679.28 L763.03,679.29 L763.55,679.31 L764.07,679.33 L764.59,679.35 L765.11,679.37 L765.62,679.38 L766.13,679.40 L766.64,679.42 L767.14,679.43 L767.64,679.45 L768.14,679.47 L768.64,679.48 L769.13,679.50 L769.62,679.52 L770.11,679.53 L770.59,679.55 L771.07,679.57 L771.54,679.58 L772.02,679.60 L772.49,679.61 L772.95,679.63 L773.42,679.65 L773.88,679.66 L774.33,679.68 L774.78,679.69 L775.23,679.71 L775.67,679.72 L776.12,679.74 L776.55,679.75 L776.98,679.77 L777.41,679.78 L777.84,679.79 L778.26,679.81 L778.68,679.82 L779.09,679.84 L779.50,679.85 L779.90,679.86 L780.30,679.88 L780.70,679.89 L781.09,679.90 L781.47,679.92 L781.85,679.93 L782.23,679.94 L782.61,679.96 L782.97,679.97 L783.34,679.98 L783.70,679.99 L784.05,680.00 L784.40,680.02 L784.74,680.03 L785.08,680.04 L785.42,680.05 L785.75,680.06 L786.07,680.07 L786.39,680.08 L786.70,680.09 L787.01,680.11 L787.32,680.12 L787.61,680.13 L787.91,680.14 L788.19,680.15 L788.48,680.15 L788.75,680.16 L789.02,680.17 L789.29,680.18 L789.55,680.19 L789.80,680.20" fill="none" stroke="#9400D3" stroke-width="1.8" stroke-linejoin="round"/>
<line x1="211.60" y1="510.40" x2="211.60" y2="735.50" stroke="#000" stroke-width="2.6" stroke-dasharray="2.6,2.4"/>
<line x1="500.40" y1="656.80" x2="500.40" y2="735.50" stroke="#000" stroke-width="2.6" stroke-dasharray="2.6,2.4"/>
<rect x="95.60" y="510.40" width="694.40" height="225.10" fill="none" stroke="#000" stroke-width="1.75"/>
<line x1="153.47" y1="735.50" x2="153.47" y2="730.90" stroke="#000" stroke-width="1.75"/>
<line x1="211.33" y1="735.50" x2="211.33" y2="726.50" stroke="#000" stroke-width="1.75"/>
<line x1="269.20" y1="735.50" x2="269.20" y2="730.90" stroke="#000" stroke-width="1.75"/>
<line x1="327.07" y1="735.50" x2="327.07" y2="726.50" stroke="#000" stroke-width="1.75"/>
<line x1="384.93" y1="735.50" x2="384.93" y2="730.90" stroke="#000" stroke-width="1.75"/>
<line x1="442.80" y1="735.50" x2="442.80" y2="726.50" stroke="#000" stroke-width="1.75"/>
<line x1="500.67" y1="735.50" x2="500.67" y2="730.90" stroke="#000" stroke-width="1.75"/>
<line x1="558.53" y1="735.50" x2="558.53" y2="726.50" stroke="#000" stroke-width="1.75"/>
<line x1="616.40" y1="735.50" x2="616.40" y2="730.90" stroke="#000" stroke-width="1.75"/>
<line x1="674.27" y1="735.50" x2="674.27" y2="726.50" stroke="#000" stroke-width="1.75"/>
<line x1="732.13" y1="735.50" x2="732.13" y2="730.90" stroke="#000" stroke-width="1.75"/>
<line x1="95.60" y1="547.92" x2="100.20" y2="547.92" stroke="#000" stroke-width="1.75"/>
<line x1="95.60" y1="585.43" x2="104.60" y2="585.43" stroke="#000" stroke-width="1.75"/>
<line x1="95.60" y1="622.95" x2="100.20" y2="622.95" stroke="#000" stroke-width="1.75"/>
<line x1="95.60" y1="660.47" x2="104.60" y2="660.47" stroke="#000" stroke-width="1.75"/>
<line x1="95.60" y1="697.98" x2="100.20" y2="697.98" stroke="#000" stroke-width="1.75"/>
<rect x="341.60" y="518.80" width="448.40" height="100.00" fill="#fff" stroke="none"/>
<line x1="431.28" y1="618.80" x2="431.28" y2="614.20" stroke="#000" stroke-width="1.75"/>
<line x1="520.96" y1="618.80" x2="520.96" y2="609.80" stroke="#000" stroke-width="1.75"/>
<line x1="610.64" y1="618.80" x2="610.64" y2="614.20" stroke="#000" stroke-width="1.75"/>
<line x1="700.32" y1="618.80" x2="700.32" y2="609.80" stroke="#000" stroke-width="1.75"/>
<line x1="341.60" y1="543.80" x2="346.20" y2="543.80" stroke="#000" stroke-width="1.75"/>
<line x1="341.60" y1="568.80" x2="350.60" y2="568.80" stroke="#000" stroke-width="1.75"/>
<line x1="341.60" y1="593.80" x2="346.20" y2="593.80" stroke="#000" stroke-width="1.75"/>
<path d="M341.60,568.73 L341.90,568.74 L342.20,568.75 L342.50,568.76 L342.80,568.76 L343.10,568.77 L343.40,568.78 L343.70,568.79 L344.00,568.80 L344.30,568.80 L344.60,568.81 L344.90,568.81 L345.20,568.82 L345.50,568.82 L345.80,568.82 L346.10,568.82 L346.40,568.81 L346.70,568.81 L347.00,568.81 L347.30,568.80 L347.60,568.79 L347.90,568.78 L348.20,568.77 L348.50,568.76 L348.80,568.75 L349.10,568.73 L349.40,568.72 L349.70,568.70 L350.00,568.69 L350.30,568.67 L350.60,568.65 L350.90,568.63 L351.20,568.62 L351.50,568.60 L351.80,568.59 L352.10,568.57 L352.40,568.56 L352.70,568.54 L353.00,568.53 L353.30,568.52 L353.60,568.51 L353.90,568.51 L354.20,568.50 L354.50,568.50 L354.80,568.50 L355.10,568.50 L355.40,568.51 L355.70,568.51 L356.00,568.52 L356.30,568.53 L356.60,568.55 L356.90,568.57 L357.20,568.58 L357.50,568.60 L357.80,568.63 L358.10,568.65 L358.40,568.68 L358.70,568.70 L359.00,568.73 L359.30,568.76 L359.60,568.79 L359.90,568.82 L360.20,568.85 L360.50,568.87 L360.80,568.90 L361.10,568.93 L361.40,568.95 L361.70,568.97 L362.00,568.99 L362.30,569.01 L362.60,569.02 L362.90,569.03 L363.20,569.04 L363.50,569.04 L363.80,569.04 L364.10,569.03 L364.40,569.02 L364.70,569.01 L365.00,568.99 L365.30,568.97 L365.60,568.94 L365.90,568.91 L366.20,568.88 L366.50,568.85 L366.80,568.81 L367.10,568.77 L367.40,568.72 L367.70,568.68 L368.00,568.63 L368.30,568.58 L368.60,568.54 L368.90,568.49 L369.20,568.44 L369.50,568.40 L369.80,568.35 L370.10,568.31 L370.40,568.28 L370.70,568.24 L371.00,568.22 L371.30,568.19 L371.60,568.17 L371.90,568.16 L372.20,568.15 L372.50,568.15 L372.80,568.15 L373.10,568.17 L373.40,568.18 L373.70,568.21 L374.00,568.24 L374.30,568.28 L374.60,568.32 L374.90,568.37 L375.20,568.42 L375.50,568.48 L375.80,568.54 L376.10,568.61 L376.40,568.68 L376.70,568.75 L377.00,568.83 L377.30,568.90 L377.60,568.98 L377.90,569.05 L378.20,569.13 L378.50,569.20 L378.80,569.26 L379.10,569.32 L379.40,569.38 L379.70,569.43 L380.00,569.47 L380.30,569.51 L380.60,569.54 L380.90,569.56 L381.20,569.57 L381.50,569.57 L381.80,569.56 L382.10,569.54 L382.40,569.50 L382.70,569.46 L383.00,569.41 L383.30,569.35 L383.60,569.28 L383.90,569.20 L384.20,569.12 L384.50,569.02 L384.80,568.92 L385.10,568.82 L385.40,568.71 L385.70,568.60 L386.00,568.48 L386.30,568.37 L386.60,568.25 L386.90,568.14 L387.20,568.03 L387.50,567.92 L387.80,567.82 L388.10,567.73 L388.40,567.65 L388.70,567.58 L389.00,567.51 L389.30,567.46 L389.60,567.43 L389.90,567.40 L390.20,567.39 L390.50,567.40 L390.80,567.42 L391.10,567.46 L391.40,567.51 L391.70,567.58 L392.00,567.66 L392.30,567.76 L392.60,567.87 L392.90,567.99 L393.20,568.13 L393.50,568.27 L393.80,568.43 L394.10,568.59 L394.40,568.76 L394.70,568.93 L395.00,569.10 L395.30,569.27 L395.60,569.44 L395.90,569.60 L396.20,569.76 L396.50,569.91 L396.80,570.05 L397.10,570.18 L397.40,570.29 L397.70,570.38 L398.00,570.46 L398.30,570.52 L398.60,570.56 L398.90,570.58 L399.20,570.57 L399.50,570.55 L399.80,570.50 L400.10,570.43 L400.40,570.34 L400.70,570.22 L401.00,570.09 L401.30,569.94 L401.60,569.76 L401.90,569.58 L402.20,569.37 L402.50,569.16 L402.80,568.93 L403.10,568.70 L403.40,568.46 L403.70,568.22 L404.00,567.98 L404.30,567.74 L404.60,567.51 L404.90,567.29 L405.20,567.08 L405.50,566.88 L405.80,566.71 L406.10,566.55 L406.40,566.41 L406.70,566.30 L407.00,566.21 L407.30,566.15 L407.60,566.12 L407.90,566.12 L408.20,566.15 L408.50,566.21 L408.80,566.30 L409.10,566.42 L409.40,566.58 L409.70,566.76 L410.00,566.97 L410.30,567.20 L410.60,567.45 L410.90,567.73 L411.20,568.02 L411.50,568.33 L411.80,568.65 L412.10,568.97 L412.40,569.30 L412.70,569.62 L413.00,569.94 L413.30,570.26 L413.60,570.56 L413.90,570.84 L414.20,571.10 L414.50,571.34 L414.80,571.55 L415.10,571.74 L415.40,571.89 L415.70,572.00 L416.00,572.08 L416.30,572.11 L416.60,572.11 L416.90,572.07 L417.20,571.98 L417.50,571.86 L417.80,571.69 L418.10,571.49 L418.40,571.25 L418.70,570.97 L419.00,570.66 L419.30,570.33 L419.60,569.97 L419.90,569.58 L420.20,569.18 L420.50,568.77 L420.80,568.35 L421.10,567.92 L421.40,567.50 L421.70,567.09 L422.00,566.68 L422.30,566.30 L422.60,565.93 L422.90,565.60 L423.20,565.29 L423.50,565.02 L423.80,564.79 L424.10,564.60 L424.40,564.46 L424.70,564.37 L425.00,564.32 L425.30,564.33 L425.60,564.40 L425.90,564.51 L426.20,564.69 L426.50,564.91 L426.80,565.19 L427.10,565.51 L427.40,565.88 L427.70,566.29 L428.00,566.74 L428.30,567.22 L428.60,567.73 L428.90,568.25 L429.20,568.79 L429.50,569.34 L429.80,569.88 L430.10,570.42 L430.40,570.95 L430.70,571.46 L431.00,571.94 L431.30,572.39 L431.60,572.80 L431.90,573.16 L432.20,573.48 L432.50,573.74 L432.80,573.94 L433.10,574.08 L433.40,574.15 L433.70,574.16 L434.00,574.10 L434.30,573.97 L434.60,573.78 L434.90,573.51 L435.20,573.19 L435.50,572.80 L435.80,572.36 L436.10,571.86 L436.40,571.32 L436.70,570.74 L437.00,570.12 L437.30,569.48 L437.60,568.81 L437.90,568.14 L438.20,567.46 L438.50,566.79 L438.80,566.13 L439.10,565.49 L439.40,564.89 L439.70,564.32 L440.00,563.80 L440.30,563.33 L440.60,562.93 L440.90,562.59 L441.20,562.32 L441.50,562.12 L441.80,562.00 L442.10,561.97 L442.40,562.02 L442.70,562.16 L443.00,562.38 L443.30,562.69 L443.60,563.07 L443.90,563.54 L444.20,564.07 L444.50,564.67 L444.80,565.34 L445.10,566.05 L445.40,566.81 L445.70,567.60 L446.00,568.42 L446.30,569.26 L446.60,570.10 L446.90,570.93 L447.20,571.75 L447.50,572.53 L447.80,573.29 L448.10,573.99 L448.40,574.64 L448.70,575.22 L449.00,575.72 L449.30,576.15 L449.60,576.48 L449.90,576.72 L450.20,576.86 L450.50,576.90 L450.80,576.84 L451.10,576.67 L451.40,576.40 L451.70,576.03 L452.00,575.55 L452.30,574.99 L452.60,574.33 L452.90,573.60 L453.20,572.79 L453.50,571.92 L453.80,571.00 L454.10,570.03 L454.40,569.04 L454.70,568.02 L455.00,567.00 L455.30,565.99 L455.60,565.00 L455.90,564.04 L456.20,563.13 L456.50,562.27 L456.80,561.49 L457.10,560.78 L457.40,560.17 L457.70,559.65 L458.00,559.25 L458.30,558.96 L458.60,558.79 L458.90,558.74 L459.20,558.82 L459.50,559.04 L459.80,559.39 L460.10,559.86 L460.40,560.45 L460.70,561.17 L461.00,561.99 L461.30,562.91 L461.60,563.92 L461.90,565.01 L462.20,566.16 L462.50,567.36 L462.80,568.60 L463.10,569.85 L463.40,571.10 L463.70,572.34 L464.00,573.55 L464.30,574.72 L464.60,575.81 L464.90,576.83 L465.20,577.76 L465.50,578.58 L465.80,579.28 L466.10,579.85 L466.40,580.28 L466.70,580.57 L467.00,580.70 L467.30,580.68 L467.60,580.49 L467.90,580.15 L468.20,579.66 L468.50,579.01 L468.80,578.22 L469.10,577.29 L469.40,576.24 L469.70,575.07 L470.00,573.81 L470.30,572.46 L470.60,571.04 L470.90,569.57 L471.20,568.07 L471.50,566.56 L471.80,565.06 L472.10,563.59 L472.40,562.16 L472.70,560.80 L473.00,559.53 L473.30,558.36 L473.60,557.31 L473.90,556.40 L474.20,555.64 L474.50,555.04 L474.80,554.61 L475.10,554.36 L475.40,554.30 L475.70,554.46 L476.00,554.82 L476.30,555.39 L476.60,556.17 L476.90,557.14 L477.20,558.30 L477.50,559.62 L477.80,561.10 L478.10,562.70 L478.40,564.41 L478.70,566.21 L479.00,568.07 L479.30,569.96 L479.60,571.86 L479.90,573.74 L480.20,575.56 L480.50,577.31 L480.80,578.95 L481.10,580.46 L481.40,581.82 L481.70,583.00 L482.00,583.99 L482.30,584.76 L482.60,585.31 L482.90,585.62 L483.20,585.68 L483.50,585.49 L483.80,585.06 L484.10,584.38 L484.40,583.46 L484.70,582.31 L485.00,580.94 L485.30,579.38 L485.60,577.65 L485.90,575.76 L486.20,573.74 L486.50,571.62 L486.80,569.44 L487.10,567.22 L487.40,564.99 L487.70,562.79 L488.00,560.65 L488.30,558.61 L488.60,556.68 L488.90,554.92 L489.20,553.33 L489.50,551.95 L489.80,550.80 L490.10,549.90 L490.40,549.27 L490.70,548.92 L491.00,548.86 L491.30,549.11 L491.60,549.68 L491.90,550.55 L492.20,551.73 L492.50,553.19 L492.80,554.91 L493.10,556.87 L493.40,559.04 L493.70,561.39 L494.00,563.89 L494.30,566.48 L494.60,569.15 L494.90,571.83 L495.20,574.50 L495.50,577.10 L495.80,579.60 L496.10,581.96 L496.40,584.13 L496.70,586.07 L497.00,587.77 L497.30,589.17 L497.60,590.27 L497.90,591.04 L498.20,591.46 L498.50,591.52 L498.80,591.22 L499.10,590.56 L499.40,589.55 L499.70,588.19 L500.00,586.51 L500.30,584.52 L500.60,582.27 L500.90,579.77 L501.20,577.07 L501.50,574.21 L501.80,571.24 L502.10,568.19 L502.40,565.12 L502.70,562.07 L503.00,559.10 L503.30,556.25 L503.60,553.57 L503.90,551.10 L504.20,548.88 L504.50,546.96 L504.80,545.37 L505.10,544.13 L505.40,543.27 L505.70,542.80 L506.00,542.74 L506.30,543.09 L506.60,543.84 L506.90,544.99 L507.20,546.52 L507.50,548.41 L507.80,550.64 L508.10,553.18 L508.40,555.98 L508.70,559.01 L509.00,562.22 L509.30,565.56 L509.60,568.99 L509.90,572.44 L510.20,575.86 L510.50,579.21 L510.80,582.42 L511.10,585.44 L511.40,588.23 L511.70,590.74 L512.00,592.93 L512.30,594.76 L512.60,596.19 L512.90,597.21 L513.20,597.79 L513.50,597.92 L513.80,597.59 L514.10,596.81 L514.40,595.58 L514.70,593.92 L515.00,591.85 L515.30,589.39 L515.60,586.59 L515.90,583.49 L516.20,580.13 L516.50,576.56 L516.80,572.84 L517.10,569.02 L517.40,565.16 L517.70,561.33 L518.00,557.58 L518.30,553.98 L518.60,550.57 L518.90,547.42 L519.20,544.58 L519.50,542.09 L519.80,540.00 L520.10,538.34 L520.40,537.15 L520.70,536.44 L521.00,536.23 L521.30,536.55 L521.60,537.40 L521.90,538.77 L522.20,540.65 L522.50,543.01 L522.80,545.81 L523.10,549.02 L523.40,552.57 L523.70,556.41 L524.00,560.48 L524.30,564.72 L524.60,569.06 L524.90,573.43 L525.20,577.75 L525.50,581.95 L525.80,585.96 L526.10,589.72 L526.40,593.15 L526.70,596.21 L527.00,598.84 L527.30,600.98 L527.60,602.61 L527.90,603.69 L528.20,604.20 L528.50,604.12 L528.80,603.47 L529.10,602.23 L529.40,600.43 L529.70,598.10 L530.00,595.26 L530.30,591.97 L530.60,588.27 L530.90,584.22 L531.20,579.89 L531.50,575.35 L531.80,570.67 L532.10,565.93 L532.40,561.20 L532.70,556.57 L533.00,552.11 L533.30,547.89 L533.60,543.99 L533.90,540.48 L534.20,537.40 L534.50,534.83 L534.80,532.80 L535.10,531.35 L535.40,530.51 L535.70,530.29 L536.00,530.70 L536.30,531.73 L536.60,533.36 L536.90,535.58 L537.20,538.36 L537.50,541.64 L537.80,545.38 L538.10,549.52 L538.40,554.00 L538.70,558.74 L539.00,563.66 L539.30,568.70 L539.60,573.76 L539.90,578.77 L540.20,583.64 L540.50,588.30 L540.80,592.65 L541.10,596.65 L541.40,600.20 L541.70,603.27 L542.00,605.78 L542.30,607.71 L542.60,609.01 L542.90,609.66 L543.20,609.65 L543.50,608.97 L543.80,607.63 L544.10,605.66 L544.40,603.07 L544.70,599.92 L545.00,596.24 L545.30,592.09 L545.60,587.55 L545.90,582.68 L546.20,577.56 L546.50,572.27 L546.80,566.91 L547.10,561.55 L547.40,556.28 L547.70,551.19 L548.00,546.36 L548.30,541.88 L548.60,537.82 L548.90,534.24 L549.20,531.21 L549.50,528.77 L549.80,526.97 L550.10,525.85 L550.40,525.41 L550.70,525.73 L551.00,526.84 L551.30,528.72 L551.60,531.35 L551.90,534.67 L552.20,538.64 L552.50,543.17 L552.80,548.19 L553.10,553.60 L553.40,559.31 L553.70,565.21 L554.00,571.20 L554.30,577.16 L554.60,582.98 L554.90,588.56 L555.20,593.80 L555.50,598.58 L555.80,602.83 L556.10,606.47 L556.40,609.42 L556.70,611.63 L557.00,613.06 L557.30,613.68 L557.60,613.46 L557.90,612.43 L558.20,610.58 L558.50,607.96 L558.80,604.61 L559.10,600.59 L559.40,595.97 L559.70,590.84 L560.00,585.29 L560.30,579.42 L560.60,573.33 L560.90,567.15 L561.20,560.98 L561.50,554.94 L561.80,549.14 L562.10,543.68 L562.40,538.67 L562.70,534.21 L563.00,530.36 L563.30,527.22 L563.60,524.83 L563.90,523.25 L564.20,522.50 L564.50,522.60 L564.80,523.54 L565.10,525.32 L565.40,527.90 L565.70,531.24 L566.00,535.27 L566.30,539.92 L566.60,545.11 L566.90,550.74 L567.20,556.71 L567.50,562.91 L567.80,569.23 L568.10,575.54 L568.40,581.74 L568.70,587.71 L569.00,593.33 L569.30,598.51 L569.60,603.15 L569.90,607.16 L570.20,610.46 L570.50,613.01 L570.80,614.73 L571.10,615.62 L571.40,615.64 L571.70,614.80 L572.00,613.11 L572.30,610.60 L572.60,607.32 L572.90,603.33 L573.20,598.70 L573.50,593.51 L573.80,587.86 L574.10,581.86 L574.40,575.61 L574.70,569.23 L575.00,562.84 L575.30,556.56 L575.60,550.49 L575.90,544.76 L576.20,539.46 L576.50,534.70 L576.80,530.57 L577.10,527.13 L577.40,524.46 L577.70,522.60 L578.00,521.59 L578.30,521.45 L578.60,522.21 L578.90,523.85 L579.20,526.36 L579.50,529.69 L579.80,533.76 L580.10,538.50 L580.40,543.81 L580.70,549.61 L581.00,555.77 L581.30,562.17 L581.60,568.70 L581.90,575.22 L582.20,581.62 L582.50,587.76 L582.80,593.54 L583.10,598.83 L583.40,603.55 L583.70,607.59 L584.00,610.88 L584.30,613.35 L584.60,614.97 L584.90,615.70 L585.20,615.53 L585.50,614.46 L585.80,612.51 L586.10,609.72 L586.40,606.15 L586.70,601.87 L587.00,596.95 L587.30,591.50 L587.60,585.61 L587.90,579.41 L588.20,573.01 L588.50,566.54 L588.80,560.12 L589.10,553.88 L589.40,547.92 L589.70,542.38 L590.00,537.35 L590.30,532.93 L590.60,529.20 L590.90,526.24 L591.20,524.09 L591.50,522.81 L591.80,522.41 L592.10,522.90 L592.40,524.26 L592.70,526.48 L593.00,529.50 L593.30,533.26 L593.60,537.70 L593.90,542.73 L594.20,548.24 L594.50,554.13 L594.80,560.28 L595.10,566.59 L595.40,572.92 L595.70,579.15 L596.00,585.17 L596.30,590.85 L596.60,596.10 L596.90,600.81 L597.20,604.89 L597.50,608.27 L597.80,610.87 L598.10,612.67 L598.40,613.61 L598.70,613.69 L599.00,612.91 L599.30,611.28 L599.60,608.84 L599.90,605.64 L600.20,601.74 L600.50,597.22 L600.80,592.16 L601.10,586.67 L601.40,580.86 L601.70,574.83 L602.00,568.70 L602.30,562.59 L602.60,556.62 L602.90,550.91 L603.20,545.55 L603.50,540.65 L603.80,536.32 L604.10,532.61 L604.40,529.61 L604.70,527.38 L605.00,525.94 L605.30,525.33 L605.60,525.55 L605.90,526.59 L606.20,528.45 L606.50,531.06 L606.80,534.39 L607.10,538.36 L607.40,542.89 L607.70,547.90 L608.00,553.29 L608.30,558.96 L608.60,564.78 L608.90,570.66 L609.20,576.47 L609.50,582.11 L609.80,587.47 L610.10,592.44 L610.40,596.94 L610.70,600.87 L611.00,604.18 L611.30,606.78 L611.60,608.65 L611.90,609.74 L612.20,610.04 L612.50,609.54 L612.80,608.27 L613.10,606.24 L613.40,603.51 L613.70,600.12 L614.00,596.14 L614.30,591.66 L614.60,586.77 L614.90,581.55 L615.20,576.11 L615.50,570.56 L615.80,565.00 L616.10,559.54 L616.40,554.29 L616.70,549.34 L617.00,544.78 L617.30,540.71 L617.60,537.20 L617.90,534.31 L618.20,532.10 L618.50,530.60 L618.80,529.83 L619.10,529.82 L619.40,530.58 L619.70,532.10 L620.00,534.34 L620.30,537.26 L620.60,540.79 L620.90,544.85 L621.20,549.38 L621.50,554.26 L621.80,559.40 L622.10,564.69 L622.40,570.03 L622.70,575.32 L623.00,580.44 L623.30,585.29 L623.60,589.78 L623.90,593.81 L624.20,597.32 L624.50,600.24 L624.80,602.50 L625.10,604.08 L625.40,604.93 L625.70,605.05 L626.00,604.45 L626.30,603.13 L626.60,601.13 L626.90,598.50 L627.20,595.29 L627.50,591.57 L627.80,587.41 L628.10,582.91 L628.40,578.16 L628.70,573.25 L629.00,568.29 L629.30,563.36 L629.60,558.58 L629.90,554.04 L630.20,549.82 L630.50,546.01 L630.80,542.69 L631.10,539.90 L631.40,537.72 L631.70,536.17 L632.00,535.28 L632.30,535.07 L632.60,535.53 L632.90,536.66 L633.20,538.41 L633.50,540.76 L633.80,543.65 L634.10,547.02 L634.40,550.80 L634.70,554.90 L635.00,559.25 L635.30,563.75 L635.60,568.32 L635.90,572.86 L636.20,577.28 L636.50,581.49 L636.80,585.41 L637.10,588.96 L637.40,592.08 L637.70,594.71 L638.00,596.79 L638.30,598.30 L638.60,599.20 L638.90,599.48 L639.20,599.14 L639.50,598.20 L639.80,596.68 L640.10,594.61 L640.40,592.04 L640.70,589.02 L641.00,585.62 L641.30,581.92 L641.60,577.98 L641.90,573.89 L642.20,569.74 L642.50,565.60 L642.80,561.56 L643.10,557.70 L643.40,554.09 L643.70,550.81 L644.00,547.92 L644.30,545.47 L644.60,543.50 L644.90,542.06 L645.20,541.17 L645.50,540.83 L645.80,541.06 L646.10,541.86 L646.40,543.22 L646.70,545.10 L647.00,547.46 L647.30,550.24 L647.60,553.37 L647.90,556.80 L648.20,560.44 L648.50,564.22 L648.80,568.06 L649.10,571.87 L649.40,575.58 L649.70,579.11 L650.00,582.39 L650.30,585.34 L650.60,587.92 L650.90,590.07 L651.20,591.75 L651.50,592.93 L651.80,593.59 L652.10,593.73 L652.40,593.34 L652.70,592.44 L653.00,591.05 L653.30,589.20 L653.60,586.95 L653.90,584.34 L654.20,581.43 L654.50,578.28 L654.80,574.97 L655.10,571.56 L655.40,568.13 L655.70,564.75 L656.00,561.48 L656.30,558.40 L656.60,555.57 L656.90,553.05 L657.20,550.88 L657.50,549.11 L657.80,547.77 L658.10,546.88 L658.40,546.45 L658.70,546.50 L659.00,547.03 L659.30,548.03 L659.60,549.47 L659.90,551.31 L660.20,553.52 L660.50,556.03 L660.80,558.79 L661.10,561.74 L661.40,564.81 L661.70,567.92 L662.00,571.02 L662.30,574.03 L662.60,576.89 L662.90,579.53 L663.20,581.91 L663.50,583.96 L663.80,585.66 L664.10,586.97 L664.40,587.86 L664.70,588.33 L665.00,588.35 L665.30,587.95 L665.60,587.12 L665.90,585.91 L666.20,584.33 L666.50,582.43 L666.80,580.25 L667.10,577.84 L667.40,575.27 L667.70,572.58 L668.00,569.84 L668.30,567.11 L668.60,564.45 L668.90,561.92 L669.20,559.56 L669.50,557.44 L669.80,555.59 L670.10,554.05 L670.40,552.85 L670.70,552.01 L671.00,551.55 L671.30,551.48 L671.60,551.78 L671.90,552.47 L672.20,553.51 L672.50,554.88 L672.80,556.55 L673.10,558.47 L673.40,560.60 L673.70,562.88 L674.00,565.26 L674.30,567.69 L674.60,570.11 L674.90,572.46 L675.20,574.70 L675.50,576.77 L675.80,578.63 L676.10,580.25 L676.40,581.58 L676.70,582.60 L677.00,583.29 L677.30,583.64 L677.60,583.65 L677.90,583.32 L678.20,582.67 L678.50,581.71 L678.80,580.46 L679.10,578.97 L679.40,577.27 L679.70,575.40 L680.00,573.40 L680.30,571.33 L680.60,569.23 L680.90,567.14 L681.20,565.12 L681.50,563.21 L681.80,561.44 L682.10,559.87 L682.40,558.53 L682.70,557.43 L683.00,556.60 L683.30,556.06 L683.60,555.81 L683.90,555.85 L684.20,556.18 L684.50,556.78 L684.80,557.63 L685.10,558.71 L685.40,559.99 L685.70,561.44 L686.00,563.04 L686.30,564.73 L686.60,566.48 L686.90,568.26 L687.20,570.02 L687.50,571.72 L687.80,573.33 L688.10,574.82 L688.40,576.14 L688.70,577.29 L689.00,578.23 L689.30,578.95 L689.60,579.43 L689.90,579.67 L690.20,579.66 L690.50,579.42 L690.80,578.94 L691.10,578.25 L691.40,577.36 L691.70,576.29 L692.00,575.07 L692.30,573.74 L692.60,572.31 L692.90,570.83 L693.20,569.33 L693.50,567.83 L693.80,566.38 L694.10,565.00 L694.40,563.73 L694.70,562.58 L695.00,561.59 L695.30,560.77 L695.60,560.14 L695.90,559.70 L696.20,559.47 L696.50,559.44 L696.80,559.62 L697.10,560.01 L697.40,560.59 L697.70,561.35 L698.00,562.26 L698.30,563.31 L698.60,564.46 L698.90,565.69 L699.20,566.97 L699.50,568.27 L699.80,569.55 L700.10,570.80 L700.40,571.97 L700.70,573.05 L701.00,574.01 L701.30,574.84 L701.60,575.51 L701.90,576.01 L702.20,576.33 L702.50,576.47 L702.80,576.44 L703.10,576.22 L703.40,575.84 L703.70,575.30 L704.00,574.61 L704.30,573.81 L704.60,572.90 L704.90,571.91 L705.20,570.86 L705.50,569.78 L705.80,568.70 L706.10,567.64 L706.40,566.61 L706.70,565.66 L707.00,564.79 L707.30,564.03 L707.60,563.39 L707.90,562.88 L708.20,562.51 L708.50,562.29 L708.80,562.23 L709.10,562.31 L709.40,562.54 L709.70,562.90 L710.00,563.38 L710.30,563.98 L710.60,564.67 L710.90,565.44 L711.20,566.27 L711.50,567.14 L711.80,568.03 L712.10,568.92 L712.40,569.79 L712.70,570.61 L713.00,571.38 L713.30,572.07 L713.60,572.67 L713.90,573.17 L714.20,573.57 L714.50,573.84 L714.80,573.99 L715.10,574.02 L715.40,573.93 L715.70,573.72 L716.00,573.41 L716.30,572.99 L716.60,572.49 L716.90,571.90 L717.20,571.26 L717.50,570.57 L717.80,569.85 L718.10,569.12 L718.40,568.40 L718.70,567.70 L719.00,567.03 L719.30,566.41 L719.60,565.86 L719.90,565.38 L720.20,564.99 L720.50,564.68 L720.80,564.48 L721.10,564.37 L721.40,564.37 L721.70,564.46 L722.00,564.66 L722.30,564.95 L722.60,565.32 L722.90,565.77 L723.20,566.28 L723.50,566.83 L723.80,567.43 L724.10,568.04 L724.40,568.65 L724.70,569.25 L725.00,569.83 L725.30,570.37 L725.60,570.85 L725.90,571.28 L726.20,571.63 L726.50,571.91 L726.80,572.10 L727.10,572.21 L727.40,572.23 L727.70,572.17 L728.00,572.02 L728.30,571.80 L728.60,571.50 L728.90,571.15 L729.20,570.74 L729.50,570.29 L729.80,569.82 L730.10,569.32 L730.40,568.82 L730.70,568.33 L731.00,567.86 L731.30,567.42 L731.60,567.02 L731.90,566.67 L732.20,566.37 L732.50,566.14 L732.80,565.97 L733.10,565.88 L733.40,565.85 L733.70,565.89 L734.00,565.99 L734.30,566.16 L734.60,566.38 L734.90,566.65 L735.20,566.96 L735.50,567.30 L735.80,567.67 L736.10,568.05 L736.40,568.44 L736.70,568.83 L737.00,569.20 L737.30,569.56 L737.60,569.89 L737.90,570.18 L738.20,570.44 L738.50,570.64 L738.80,570.80 L739.10,570.91 L739.40,570.96 L739.70,570.96 L740.00,570.91 L740.30,570.81 L740.60,570.66 L740.90,570.48 L741.20,570.25 L741.50,569.99 L741.80,569.71 L742.10,569.42 L742.40,569.11 L742.70,568.80 L743.00,568.50 L743.30,568.21 L743.60,567.93 L743.90,567.68 L744.20,567.46 L744.50,567.27 L744.80,567.12 L745.10,567.01 L745.40,566.94 L745.70,566.91 L746.00,566.93 L746.30,566.98 L746.60,567.07 L746.90,567.20 L747.20,567.35 L747.50,567.54 L747.80,567.74 L748.10,567.97 L748.40,568.20 L748.70,568.44 L749.00,568.68 L749.30,568.91 L749.60,569.14 L749.90,569.35 L750.20,569.54 L750.50,569.70 L750.80,569.84 L751.10,569.95 L751.40,570.03 L751.70,570.08 L752.00,570.10 L752.30,570.08 L752.60,570.03 L752.90,569.95 L753.20,569.85 L753.50,569.72 L753.80,569.58 L754.10,569.42 L754.40,569.24 L754.70,569.06 L755.00,568.87 L755.30,568.68 L755.60,568.50 L755.90,568.33 L756.20,568.17 L756.50,568.03 L756.80,567.90 L757.10,567.80 L757.40,567.72 L757.70,567.66 L758.00,567.63 L758.30,567.62 L758.60,567.64 L758.90,567.68 L759.20,567.75 L759.50,567.83 L759.80,567.93 L760.10,568.05 L760.40,568.18 L760.70,568.32 L761.00,568.46 L761.30,568.60 L761.60,568.75 L761.90,568.89 L762.20,569.02 L762.50,569.14 L762.80,569.25 L763.10,569.34 L763.40,569.41 L763.70,569.47 L764.00,569.51 L764.30,569.53 L764.60,569.52 L764.90,569.50 L765.20,569.47 L765.50,569.41 L765.80,569.34 L766.10,569.26 L766.40,569.17 L766.70,569.07 L767.00,568.96 L767.30,568.85 L767.60,568.74 L767.90,568.63 L768.20,568.52 L768.50,568.43 L768.80,568.34 L769.10,568.26 L769.40,568.19 L769.70,568.14 L770.00,568.10 L770.30,568.08 L770.60,568.07 L770.90,568.08 L771.20,568.10 L771.50,568.13 L771.80,568.18 L772.10,568.23 L772.40,568.30 L772.70,568.37 L773.00,568.45 L773.30,568.53 L773.60,568.62 L773.90,568.70 L774.20,568.78 L774.50,568.86 L774.80,568.93 L775.10,568.99 L775.40,569.05 L775.70,569.10 L776.00,569.13 L776.30,569.16 L776.60,569.17 L776.90,569.17 L777.20,569.17 L777.50,569.15 L777.80,569.12 L778.10,569.08 L778.40,569.04 L778.70,568.98 L779.00,568.93 L779.30,568.87 L779.60,568.80 L779.90,568.74 L780.20,568.68 L780.50,568.62 L780.80,568.56 L781.10,568.51 L781.40,568.46 L781.70,568.43 L782.00,568.39 L782.30,568.37 L782.60,568.35 L782.90,568.35 L783.20,568.35 L783.50,568.36 L783.80,568.37 L784.10,568.40 L784.40,568.43 L784.70,568.46 L785.00,568.50 L785.30,568.55 L785.60,568.59 L785.90,568.64 L786.20,568.68 L786.50,568.73 L786.80,568.77 L787.10,568.82 L787.40,568.85 L787.70,568.89 L788.00,568.91 L788.30,568.93 L788.60,568.95 L788.90,568.96 L789.20,568.96 L789.50,568.96 L789.80,568.95" fill="none" stroke="#9400D3" stroke-width="1.85" stroke-linejoin="round"/>
<path d="M467.40,556.44 L469.40,555.84 L471.40,555.23 L473.40,554.59 L475.40,553.94 L477.40,553.26 L479.40,552.57 L481.40,551.87 L483.40,551.14 L485.40,550.40 L487.40,549.64 L489.40,548.87 L491.40,548.08 L493.40,547.28 L495.40,546.47 L497.40,545.64 L499.40,544.81 L501.40,543.97 L503.40,543.11 L505.40,542.26 L507.40,541.39 L509.40,540.53 L511.40,539.66 L513.40,538.79 L515.40,537.92 L517.40,537.06 L519.40,536.19 L521.40,535.34 L523.40,534.49 L525.40,533.65 L527.40,532.83 L529.40,532.01 L531.40,531.21 L533.40,530.43 L535.40,529.67 L537.40,528.93 L539.40,528.21 L541.40,527.51 L543.40,526.84 L545.40,526.19 L547.40,525.58 L549.40,525.00 L551.40,524.44 L553.40,523.92 L555.40,523.44 L557.40,522.99 L559.40,522.58 L561.40,522.21 L563.40,521.87 L565.40,521.58 L567.40,521.33 L569.40,521.12 L571.40,520.95 L573.40,520.82 L575.40,520.74 L577.40,520.70 L579.40,520.71 L581.40,520.76 L583.40,520.85 L585.40,520.98 L587.40,521.16 L589.40,521.39 L591.40,521.65 L593.40,521.96 L595.40,522.30 L597.40,522.69 L599.40,523.11 L601.40,523.58 L603.40,524.07 L605.40,524.61 L607.40,525.17 L609.40,525.77 L611.40,526.40 L613.40,527.06 L615.40,527.75 L617.40,528.46 L619.40,529.19 L621.40,529.95 L623.40,530.72 L625.40,531.52 L627.40,532.33 L629.40,533.15 L631.40,533.99 L633.40,534.84 L635.40,535.70 L637.40,536.56 L639.40,537.43 L641.40,538.30 L643.40,539.18 L645.40,540.06 L647.40,540.93 L649.40,541.80 L651.40,542.67 L653.40,543.53 L655.40,544.38 L657.40,545.23 L659.40,546.06 L661.40,546.89 L663.40,547.70 L665.40,548.50 L667.40,549.29 L669.40,550.06 L671.40,550.81 L673.40,551.55 L675.40,552.27 L677.40,552.98 L679.40,553.66 L681.40,554.33 L683.40,554.98 L685.40,555.61 L687.40,556.22 L689.40,556.81 L691.40,557.38 L693.40,557.93 L695.40,558.46 L697.40,558.97 L699.40,559.46 L701.40,559.93 L703.40,560.39 L705.40,560.82 L707.40,561.24 L709.40,561.64 L711.40,562.02 L713.40,562.38 L715.40,562.73 L717.40,563.06 L719.40,563.37 L721.40,563.67 L723.40,563.95 L725.40,564.21 L727.40,564.47 L729.40,564.71 L731.40,564.93 L733.40,565.14 L735.40,565.34 L737.40,565.53 L739.40,565.71 L741.40,565.88 L743.40,566.03 L745.40,566.18 L747.40,566.32 L749.40,566.45 L751.40,566.57 L753.40,566.68 L755.40,566.78 L757.40,566.88 L759.40,566.97 L761.40,567.05 L763.40,567.13 L765.40,567.20 L767.40,567.27 L769.40,567.33 L771.40,567.39 L773.40,567.44 L775.40,567.49 L777.40,567.54 L779.40,567.58 L781.40,567.62 L783.40,567.65 L785.40,567.68 L787.40,567.71 L789.40,567.74" fill="none" stroke="#009E73" stroke-width="1.9"/>
<line x1="578.20" y1="521.50" x2="578.20" y2="618.80" stroke="#000" stroke-width="1.6" stroke-dasharray="1.4,1.4"/>
<rect x="341.60" y="518.80" width="448.40" height="100.00" fill="none" stroke="#000" stroke-width="1.75"/>
</svg>
</body></html>
